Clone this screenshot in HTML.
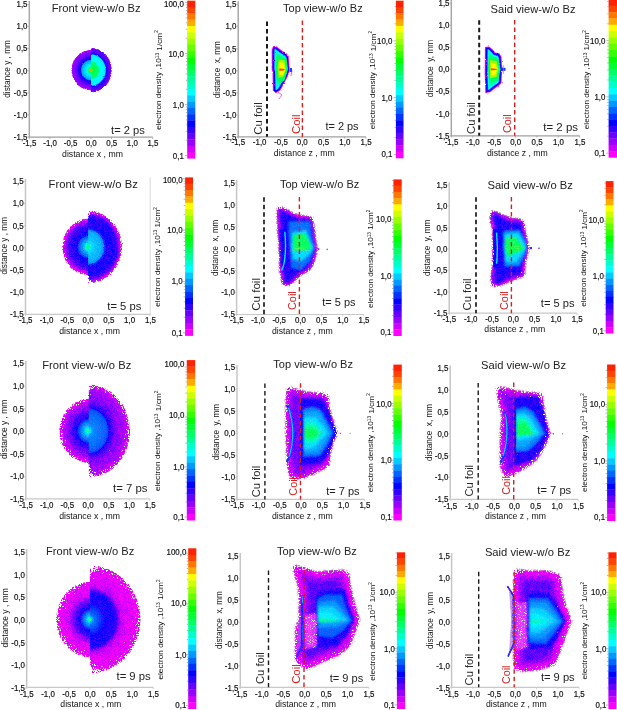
<!DOCTYPE html><html><head><meta charset="utf-8"><style>html,body{margin:0;padding:0;background:#fff;}svg{display:block;color-interpolation-filters:sRGB;}</style></head><body>
<svg width="617" height="710" viewBox="0 0 617 710" font-family='"Liberation Sans", sans-serif'>
<defs>
<filter id="rough" x="-20%" y="-20%" width="140%" height="140%">
<feTurbulence type="fractalNoise" baseFrequency="0.9" numOctaves="2" seed="3" result="n"/>
<feDisplacementMap in="SourceGraphic" in2="n" scale="2.2" xChannelSelector="R" yChannelSelector="G" result="d"/>
<feGaussianBlur in="d" stdDeviation="0.35"/>
</filter>
<filter id="grain" x="-5%" y="-5%" width="110%" height="110%">
<feTurbulence type="fractalNoise" baseFrequency="1.4" numOctaves="1" seed="21" result="g"/>
<feColorMatrix in="g" type="matrix" values="3.5 0 0 0 -1.3  0 0 0 0 0.5  0 0 0 0 0.5  0 0 0 0 1" result="g2"/>
<feComposite in="SourceGraphic" in2="g2" operator="arithmetic" k2="1" k3="0.35" k4="-0.175" result="gr"/>
<feComposite in="gr" in2="SourceGraphic" operator="in"/>
</filter>
<filter id="blur05" x="-20%" y="-20%" width="140%" height="140%">
<feTurbulence type="fractalNoise" baseFrequency="0.9" numOctaves="2" seed="9" result="n"/>
<feDisplacementMap in="SourceGraphic" in2="n" scale="1.5" xChannelSelector="R" yChannelSelector="G" result="d"/>
<feGaussianBlur in="d" stdDeviation="0.7"/>
</filter>
<filter id="blur1" x="-20%" y="-20%" width="140%" height="140%">
<feTurbulence type="fractalNoise" baseFrequency="0.9" numOctaves="2" seed="9" result="n"/>
<feDisplacementMap in="SourceGraphic" in2="n" scale="3" xChannelSelector="R" yChannelSelector="G" result="d"/>
<feGaussianBlur in="d" stdDeviation="1.0"/>
</filter>
<filter id="speck" x="-20%" y="-20%" width="140%" height="140%">
<feGaussianBlur in="SourceAlpha" stdDeviation="3.5" result="b"/>
<feTurbulence type="fractalNoise" baseFrequency="0.75" numOctaves="2" seed="5" result="n"/>
<feColorMatrix in="n" type="matrix" values="0 0 0 0 0  0 0 0 0 0  0 0 0 0 0  1 0 0 0 0" result="na"/>
<feComposite in="b" in2="na" operator="arithmetic" k1="0" k2="1" k3="-0.95" k4="0.475" result="c"/>
<feComponentTransfer in="c" result="t"><feFuncA type="linear" slope="12" intercept="-5.5"/></feComponentTransfer>
<feComposite in="SourceGraphic" in2="t" operator="in"/>
</filter>
<filter id="specks" x="-20%" y="-20%" width="140%" height="140%">
<feGaussianBlur in="SourceAlpha" stdDeviation="1.2" result="b"/>
<feTurbulence type="fractalNoise" baseFrequency="0.75" numOctaves="2" seed="5" result="n"/>
<feColorMatrix in="n" type="matrix" values="0 0 0 0 0  0 0 0 0 0  0 0 0 0 0  1 0 0 0 0" result="na"/>
<feComposite in="b" in2="na" operator="arithmetic" k1="0" k2="1" k3="-0.9" k4="0.45" result="c"/>
<feComponentTransfer in="c" result="t"><feFuncA type="linear" slope="12" intercept="-5.5"/></feComponentTransfer>
<feComposite in="SourceGraphic" in2="t" operator="in"/>
</filter>
<filter id="speckl" x="-20%" y="-20%" width="140%" height="140%">
<feGaussianBlur in="SourceAlpha" stdDeviation="5" result="b"/>
<feTurbulence type="fractalNoise" baseFrequency="0.75" numOctaves="2" seed="5" result="n"/>
<feColorMatrix in="n" type="matrix" values="0 0 0 0 0  0 0 0 0 0  0 0 0 0 0  1 0 0 0 0" result="na"/>
<feComposite in="b" in2="na" operator="arithmetic" k1="0" k2="1" k3="-1.3" k4="0.65" result="c"/>
<feComponentTransfer in="c" result="t"><feFuncA type="linear" slope="12" intercept="-5.5"/></feComponentTransfer>
<feComposite in="SourceGraphic" in2="t" operator="in"/>
</filter>
<filter id="speckxl" x="-20%" y="-20%" width="140%" height="140%">
<feGaussianBlur in="SourceAlpha" stdDeviation="6.5" result="b"/>
<feTurbulence type="fractalNoise" baseFrequency="0.75" numOctaves="2" seed="5" result="n"/>
<feColorMatrix in="n" type="matrix" values="0 0 0 0 0  0 0 0 0 0  0 0 0 0 0  1 0 0 0 0" result="na"/>
<feComposite in="b" in2="na" operator="arithmetic" k1="0" k2="1" k3="-1.3" k4="0.65" result="c"/>
<feComponentTransfer in="c" result="t"><feFuncA type="linear" slope="12" intercept="-5.5"/></feComponentTransfer>
<feComposite in="SourceGraphic" in2="t" operator="in"/>
</filter>

<filter id="sparse" x="-10%" y="-10%" width="120%" height="120%">
<feTurbulence type="fractalNoise" baseFrequency="1.3" numOctaves="2" seed="11" result="n"/>
<feColorMatrix in="n" type="matrix" values="0 0 0 0 0  0 0 0 0 0  0 0 0 0 0  1 0 0 0 0" result="na"/>
<feComponentTransfer in="na" result="t"><feFuncA type="linear" slope="10" intercept="-6.0"/></feComponentTransfer>
<feComposite in="SourceGraphic" in2="t" operator="in"/>
</filter>
</defs>
<g filter="none"><radialGradient id="gl0" gradientUnits="userSpaceOnUse" cx="91" cy="70.1" r="20.3" gradientTransform="translate(91,70.1) scale(0.97,1) translate(-91,-70.1)"><stop offset="0" stop-color="#ff6000"/><stop offset="0.04" stop-color="#ffa000"/><stop offset="0.06" stop-color="#80ff00"/><stop offset="0.1" stop-color="#00ff60"/><stop offset="0.15" stop-color="#00ff90"/><stop offset="0.2" stop-color="#00ffd0"/><stop offset="0.25" stop-color="#00f0ff"/><stop offset="0.34" stop-color="#00d0ff"/><stop offset="0.47" stop-color="#00a8ff"/><stop offset="0.5" stop-color="#0060ff"/><stop offset="0.53" stop-color="#2000ff"/><stop offset="0.66" stop-color="#2800ff"/><stop offset="0.69" stop-color="#5800ff"/><stop offset="0.81" stop-color="#7800ff"/><stop offset="0.94" stop-color="#a000ff"/><stop offset="1" stop-color="#d000ff"/></radialGradient>
<radialGradient id="gr0" gradientUnits="userSpaceOnUse" cx="91" cy="70.1" r="22.3" gradientTransform="translate(91,70.1) scale(0.93,1) translate(-91,-70.1)"><stop offset="0" stop-color="#ff6000"/><stop offset="0.04" stop-color="#ffa000"/><stop offset="0.06" stop-color="#60ff00"/><stop offset="0.1" stop-color="#00ff40"/><stop offset="0.37" stop-color="#00ff70"/><stop offset="0.4" stop-color="#00ffc0"/><stop offset="0.44" stop-color="#00ffff"/><stop offset="0.67" stop-color="#00f0ff"/><stop offset="0.7" stop-color="#00a0ff"/><stop offset="0.73" stop-color="#2000ff"/><stop offset="0.78" stop-color="#3000ff"/><stop offset="0.83" stop-color="#5000ff"/><stop offset="0.94" stop-color="#6000ff"/><stop offset="1" stop-color="#b000ff"/></radialGradient>
<g filter="url(#specks)"><g filter="url(#rough)">
<path d="M91,49.8 A19.6,20.3 0 0 0 91,90.4 L91.8,89.4 L91.8,50.8 Z" fill="url(#gl0)"/>
<path d="M91,47.8 A20.8,22.3 0 0 1 91,92.4 Z" fill="url(#gr0)"/>
</g></g></g>
<g filter="none"><g filter="none"><g filter="url(#rough)">
<polygon points="272.94,46.49 271.74,49.69 271.72,49.74 271.71,49.79 271.7,49.85 271.7,49.9 271.7,69.6 271.7,69.66 271.71,69.73 271.73,69.79 272.5,72.1 272.9,90.91 272.9,90.97 272.91,91.03 272.93,91.08 272.95,91.14 272.97,91.19 273,91.24 273.04,91.28 273.08,91.33 273.12,91.36 273.17,91.4 275.57,93 275.62,93.03 275.67,93.05 275.72,93.07 275.78,93.09 275.83,93.1 275.89,93.1 275.95,93.1 276,93.09 276.06,93.08 276.11,93.06 276.16,93.04 276.21,93.01 280.11,90.61 280.16,90.58 280.21,90.54 280.25,90.49 280.29,90.45 280.32,90.39 284.32,83.29 284.34,83.26 287.44,76.96 287.46,76.93 289.86,71.03 289.87,70.97 289.89,70.92 289.9,70.86 289.9,70.81 289.9,70.75 289.5,65.65 289.5,65.65 288.7,56.15 288.69,56.09 288.68,56.03 288.66,55.97 288.63,55.92 288.6,55.86 288.56,55.82 286.56,53.42 286.51,53.37 286.46,53.32 286.4,53.28 282.54,51 276.26,46.22 276.22,46.19 276.17,46.16 276.12,46.14 276.07,46.12 276.01,46.11 275.96,46.1 275.9,46.1 273.5,46.1 273.44,46.1 273.38,46.11 273.32,46.13 273.26,46.15 273.21,46.17 273.16,46.21 273.11,46.24 273.07,46.29 273.03,46.33 272.99,46.38 272.96,46.43 272.94,46.49" fill="#ff00ff" />
<polygon points="273.71,47 272.6,49.95 272.6,69.55 273.38,71.91 273.39,71.93 273.4,71.96 273.4,71.99 273.8,90.74 275.91,92.14 279.58,89.89 283.53,82.86 286.63,76.58 289,70.75 288.6,65.72 287.81,56.32 285.9,54.03 282.05,51.76 282.02,51.74 275.8,47 273.71,47" fill="#1000ff" />
<polygon points="274.82,48.6 274.2,50.24 274.2,69.29 274.9,71.4 274.95,71.58 274.99,71.77 275,71.96 275.38,89.87 275.94,90.24 278.39,88.74 282.12,82.11 285.17,75.92 287.37,70.5 287.01,65.85 286.26,56.96 284.85,55.27 281.23,53.14 281.05,53.01 275.26,48.6 274.82,48.6" fill="#0090ff" />
<polygon points="275.15,49.14 274.7,50.34 274.7,69.21 275.38,71.24 275.44,71.47 275.48,71.71 275.5,71.95 275.87,89.6 275.95,89.65 278.01,88.38 281.68,81.88 284.71,75.72 286.86,70.42 286.51,65.89 285.77,57.16 284.52,55.66 280.98,53.57 280.75,53.41 275.15,49.14" fill="#00ffff" />
<polygon points="276.1,51.63 276.1,68.98 276.7,70.8 276.81,71.16 276.87,71.54 276.9,71.92 277.22,86.94 280.44,81.23 283.43,75.14 285.44,70.2 285.11,66.01 284.41,57.71 283.6,56.74 280.27,54.77 279.9,54.52 276.1,51.63" fill="#00ffa0" />
</g>
<clipPath id="sc1"><polygon points="273.5,46.7 275.9,46.7 282.2,51.5 286.1,53.8 288.1,56.2 288.9,65.7 289.3,70.8 286.9,76.7 283.8,83 279.8,90.1 275.9,92.5 273.5,90.9 273.1,72 272.3,69.6 272.3,49.9" fill="#000" /></clipPath>
<g clip-path="url(#sc1)"><g filter="url(#blur05)">
<polygon points="276.5,55 286.5,58 288,68.8 284.5,80.5 277.5,84.5 275.5,73.5 275.5,61" fill="#00ff60" />
<polygon points="278.5,59 284.5,60.5 286,69.6 283.5,76.5 278.5,78 277.8,68" fill="#a0ff00" />
<polygon points="279.5,62 283.5,63 285,69.6 283,74.5 279.5,75" fill="#ffff00" />
<polygon points="279.3,68.3 283.6,68.8 285.4,69.6 283.6,70.4 279.3,71" fill="#ff5000" />
</g></g>
<path d="M289.5,68 L292,70 L291,76 M278,92 L282,95 L279,99" stroke="#ff40ff" stroke-width="0.9" fill="none"/><rect x="290" y="68" width="2" height="4" fill="#2040ff"/>
</g>
</g>
<g filter="none"><g filter="none"><g filter="url(#rough)">
<polygon points="484.9,47.5 484.7,73.5 484.7,73.52 485.3,92.52 485.3,92.58 485.32,92.63 485.33,92.69 485.35,92.74 485.38,92.79 485.41,92.84 485.44,92.89 485.48,92.93 485.53,92.97 485.57,93 485.62,93.03 485.68,93.06 485.73,93.08 485.79,93.09 485.84,93.1 485.9,93.1 485.96,93.1 486.02,93.09 490.02,92.29 490.07,92.27 490.13,92.25 490.18,92.23 490.23,92.2 490.28,92.16 494.16,88.98 498.14,86.3 498.2,86.25 501.3,83.45 501.34,83.4 501.38,83.36 501.41,83.31 501.44,83.26 501.47,83.2 501.48,83.14 501.49,83.09 501.5,83.03 501.9,74.36 502.69,69.29 502.7,69.23 502.7,69.16 502.69,69.09 501.9,64.83 501.5,56.97 501.49,56.91 501.48,56.85 501.47,56.8 501.44,56.75 501.42,56.69 499.52,53.49 499.49,53.45 499.45,53.4 499.41,53.36 499.37,53.33 499.32,53.29 499.28,53.27 499.22,53.24 499.17,53.23 499.12,53.21 495.32,52.45 492.75,49.51 492.7,49.45 489.5,46.65 489.45,46.61 489.39,46.58 489.34,46.55 489.28,46.53 489.22,46.51 489.16,46.5 489.1,46.5 489.03,46.5 485.43,46.9 485.38,46.91 485.32,46.93 485.27,46.95 485.21,46.97 485.16,47 485.12,47.04 485.07,47.08 485.04,47.12 485,47.17 484.97,47.22 484.95,47.27 484.93,47.32 484.91,47.38 484.9,47.44 484.9,47.5" fill="#ff00ff" />
<polygon points="485.8,47.77 485.6,73.5 486.19,92.14 489.77,91.42 493.61,88.27 493.63,88.25 497.61,85.56 500.61,82.86 501,74.29 501,74.25 501.8,69.2 501.01,64.95 501,64.92 500.6,57.09 498.81,54.07 494.94,53.29 494.91,53.29 494.89,53.28 494.86,53.27 494.84,53.25 494.81,53.24 494.79,53.22 494.77,53.2 492.09,50.11 489,47.41 485.8,47.77" fill="#1000ff" />
<polygon points="487.39,49.2 487.2,73.48 487.73,90.2 489.06,89.93 492.59,87.03 492.74,86.93 496.63,84.3 499.04,82.12 499.4,74.21 499.42,74.01 500.17,69.23 499.43,65.25 499.4,65 499.03,57.57 497.8,55.5 494.63,54.86 494.45,54.82 494.29,54.76 494.12,54.69 493.97,54.6 493.83,54.49 493.69,54.38 493.57,54.25 490.95,51.25 488.48,49.08 487.39,49.2" fill="#0090ff" />
<polygon points="487.88,49.65 487.7,73.47 488.21,89.59 488.84,89.46 492.28,86.64 492.46,86.51 496.32,83.91 498.55,81.89 498.9,74.19 498.93,73.93 499.67,69.23 498.94,65.34 498.9,65.02 498.53,57.71 497.48,55.94 494.53,55.35 494.31,55.3 494.1,55.22 493.89,55.13 493.7,55.02 493.52,54.89 493.35,54.74 493.19,54.58 490.6,51.6 488.31,49.6 487.88,49.65" fill="#00ffff" />
<polygon points="489.26,52.29 489.1,73.45 489.53,87.09 491.39,85.56 491.67,85.35 495.45,82.8 497.18,81.24 497.5,74.13 497.55,73.71 498.24,69.25 497.56,65.6 497.5,65.09 497.15,58.13 496.6,57.19 494.25,56.73 493.91,56.64 493.57,56.52 493.25,56.37 492.94,56.19 492.65,55.99 492.38,55.75 492.13,55.5 489.6,52.59 489.26,52.29" fill="#00ffa0" />
</g>
<clipPath id="sc2"><polygon points="485.5,47.5 489.1,47.1 492.3,49.9 495,53 499,53.8 500.9,57 501.3,64.9 502.1,69.2 501.3,74.3 500.9,83 497.8,85.8 493.8,88.5 489.9,91.7 485.9,92.5 485.3,73.5" fill="#000" /></clipPath>
<g clip-path="url(#sc2)"><g filter="url(#blur05)">
<polygon points="488.5,56 498,57.5 500.5,69.2 498,81 489,83 488,69.2" fill="#00ff60" />
<polygon points="490,60 496.5,61 498.5,69.2 496.5,77 490,78" fill="#a0ff00" />
<polygon points="491,63 495.5,64 497,69.2 495.5,74.5 491,75.5" fill="#ffff00" />
<polygon points="490.8,68.2 495.8,68.7 497.6,69.3 495.8,70 490.8,70.6" fill="#ff5000" />
</g></g>
<rect x="502" y="67.8" width="3.5" height="3" fill="#2030ff"/><rect x="503" y="65" width="1" height="9" fill="#ff40ff" opacity="0.6"/>
</g>
</g>
<g filter="url(#grain)"><radialGradient id="gl3" gradientUnits="userSpaceOnUse" cx="88.1" cy="246.9" r="28.3" gradientTransform="translate(88.1,246.9) scale(0.92,1) translate(-88.1,-246.9)"><stop offset="0" stop-color="#00ff60"/><stop offset="0.06" stop-color="#00ff90"/><stop offset="0.11" stop-color="#00f0ff"/><stop offset="0.18" stop-color="#00b0ff"/><stop offset="0.28" stop-color="#0080ff"/><stop offset="0.35" stop-color="#0060ff"/><stop offset="0.42" stop-color="#1800ff"/><stop offset="0.6" stop-color="#2800ff"/><stop offset="0.71" stop-color="#4000ff"/><stop offset="0.81" stop-color="#8000ff"/><stop offset="0.9" stop-color="#c000ff"/><stop offset="0.96" stop-color="#ff00ff"/><stop offset="1" stop-color="#ff00ff"/></radialGradient>
<radialGradient id="gr3" gradientUnits="userSpaceOnUse" cx="88.1" cy="246.9" r="36.7" gradientTransform="translate(88.1,246.9) scale(0.93,1) translate(-88.1,-246.9)"><stop offset="0" stop-color="#00ff60"/><stop offset="0.05" stop-color="#00ffc0"/><stop offset="0.11" stop-color="#00e0ff"/><stop offset="0.22" stop-color="#00c0ff"/><stop offset="0.38" stop-color="#00b0ff"/><stop offset="0.45" stop-color="#0090ff"/><stop offset="0.48" stop-color="#1830ff"/><stop offset="0.54" stop-color="#2000ff"/><stop offset="0.79" stop-color="#2400ff"/><stop offset="0.86" stop-color="#5000ff"/><stop offset="0.91" stop-color="#a000ff"/><stop offset="0.97" stop-color="#ff00ff"/><stop offset="1" stop-color="#ff00ff"/></radialGradient>
<g filter="url(#speck)"><g filter="url(#rough)">
<path d="M88.1,218.6 A26,28.3 0 0 0 88.1,275.2 L88.9,274.2 L88.9,219.6 Z" fill="url(#gl3)"/>
<path d="M88.1,210.2 A34,36.7 0 0 1 88.1,283.6 Z" fill="url(#gr3)"/>
</g></g></g>
<g filter="url(#grain)"><g filter="url(#speck)"><g filter="url(#blur1)">
<polygon points="276.4,207.59 275.8,214.59 275.8,214.69 275.8,214.78 277,233.78 277,233.79 278.3,252.76 278.9,271.84 278.91,271.97 278.93,272.1 278.97,272.22 280.21,275.86 280.8,284.59 280.82,284.72 280.85,284.85 280.89,284.97 280.94,285.09 281.01,285.21 281.09,285.31 281.17,285.41 281.27,285.5 281.38,285.58 281.49,285.65 281.61,285.7 281.73,285.75 281.86,285.78 288.26,286.98 288.38,286.99 288.51,287 288.63,286.99 288.75,286.98 288.87,286.95 288.99,286.9 289.1,286.85 289.21,286.79 289.31,286.72 295.61,281.72 295.72,281.62 301.97,275.37 309.38,271.66 309.49,271.6 309.59,271.53 309.68,271.46 309.77,271.37 309.84,271.28 313.64,266.18 313.72,266.06 313.79,265.93 313.84,265.79 317.04,255.69 317.08,255.54 318.28,249.14 318.3,249.01 318.3,248.88 318.29,248.76 318.27,248.63 316.39,239.8 315.19,227.28 315.19,227.24 313.89,217.04 313.87,216.91 313.83,216.79 313.78,216.67 313.73,216.55 313.66,216.44 313.58,216.34 313.49,216.25 313.39,216.17 313.28,216.09 313.17,216.03 313.05,215.98 312.93,215.94 312.8,215.92 305.2,214.72 305.1,214.7 305,214.7 298.91,214.7 291.6,210.95 282.11,205.95 282,205.9 281.89,205.86 281.77,205.83 281.65,205.81 281.53,205.8 281.42,205.8 281.3,205.82 277.5,206.42 277.38,206.44 277.26,206.48 277.14,206.52 277.04,206.58 276.93,206.65 276.84,206.73 276.75,206.81 276.67,206.91 276.6,207.01 276.54,207.12 276.49,207.23 276.45,207.35 276.42,207.47 276.4,207.59" fill="#f000ff" />
<polygon points="278.63,208.57 278.1,214.71 279.3,233.63 280.6,252.63 280.6,252.67 281.19,271.62 282.45,275.28 282.47,275.36 282.49,275.45 282.5,275.53 283.05,283.66 288.24,284.63 294.13,279.95 300.49,273.59 300.57,273.52 300.66,273.46 300.75,273.41 308.14,269.71 311.7,264.94 314.83,255.06 315.98,248.91 314.12,240.21 314.1,240.09 312.91,227.51 311.7,218.07 304.92,217 298.6,217 298.51,217 298.41,216.98 298.32,216.96 298.23,216.93 298.14,216.89 290.54,212.99 290.53,212.98 281.33,208.14 278.63,208.57" fill="#a000ff" />
<polygon points="280.12,209.95 279.71,214.73 280.89,233.53 282.19,252.52 282.2,252.62 282.79,271.33 283.96,274.76 284.02,274.98 284.07,275.2 284.09,275.43 284.56,282.32 287.81,282.93 293.07,278.76 299.36,272.46 299.57,272.28 299.79,272.11 300.04,271.97 307.08,268.45 310.25,264.2 313.27,254.67 314.35,248.93 312.56,240.54 312.51,240.25 311.32,227.69 310.27,219.46 304.8,218.6 298.6,218.6 298.35,218.59 298.11,218.55 297.87,218.5 297.64,218.42 297.41,218.31 289.81,214.41 289.79,214.4 281.05,209.8 280.12,209.95" fill="#4800ff" />
<polygon points="281.38,211.56 281.11,214.74 282.29,233.44 283.59,252.43 283.6,252.57 284.18,271.07 285.28,274.31 285.38,274.64 285.45,274.98 285.49,275.33 285.88,281.14 287.44,281.43 292.13,277.71 298.37,271.47 298.69,271.19 299.04,270.93 299.41,270.72 306.16,267.35 308.99,263.55 311.91,254.32 312.92,248.95 311.19,240.84 311.12,240.38 309.92,227.84 309.01,220.68 304.69,220 298.6,220 298.22,219.98 297.85,219.93 297.48,219.84 297.12,219.72 296.77,219.56 289.17,215.66 289.14,215.64 281.38,211.56" fill="#2200ff" />
</g>
<clipPath id="sc4"><polygon points="277.7,207.7 281.5,207.1 291,212.1 298.6,216 305,216 312.6,217.2 313.9,227.4 315.1,240 317,248.9 315.8,255.3 312.6,265.4 308.8,270.5 301.2,274.3 294.8,280.7 288.5,285.7 282.1,284.5 281.5,275.6 280.2,271.8 279.6,252.7 278.3,233.7 277.1,214.7" fill="#000" /></clipPath>
<g clip-path="url(#sc4)"><g filter="url(#blur1)">
<polygon points="279.5,229 290,229 290,266 281,268" fill="#1400ff" />
<polygon points="288.5,221 310,221 312.6,240 315,249 310,261.6 301,270.5 291,268 289.8,252.7 288.5,233.7" fill="#0070ff" />
<polygon points="291.7,232.4 306.3,229.9 310,240 313.9,248.3 308.8,255.3 301.2,261.6 292.3,259.1 291,246.4" fill="#00d8ff" />
<polygon points="292.9,235 305,233.7 310,243.9 311.3,248.3 303.7,249.6 293.6,250.2" fill="#00ff60" />
<polygon points="294,248 311,248.6 304,250.4 294,250.6" fill="#40ff40" />
</g></g>
<path d="M284.8,231.8 Q286.2,246 284.8,258 Q284,266 281.5,270.5" stroke="#00e8ff" stroke-width="1.4" fill="none"/>
</g>
<rect x="317.5" y="248.2" width="2" height="2" fill="#a020ff"/><rect x="326.4" y="248.6" width="1.6" height="1.6" fill="#e040ff"/></g>
<g filter="url(#grain)"><g filter="url(#speck)"><g filter="url(#blur1)">
<polygon points="489.2,211.7 489.2,220.9 489.21,221.02 489.22,221.14 489.25,221.26 491.7,229.69 491.7,266.06 489.83,274.52 489.81,274.63 489.8,274.75 489.8,274.87 490.4,286.47 490.41,286.6 490.44,286.72 490.48,286.85 490.53,286.97 490.59,287.08 490.66,287.19 490.75,287.29 490.84,287.38 490.94,287.46 491.05,287.53 491.17,287.59 491.29,287.63 491.41,287.67 491.54,287.69 491.67,287.7 491.8,287.7 499.8,287.1 499.92,287.08 500.05,287.05 500.17,287.01 500.28,286.96 510,282.11 517.21,279.73 517.22,279.73 524.62,277.23 524.74,277.18 524.85,277.13 524.96,277.06 525.06,276.98 525.15,276.89 525.23,276.79 525.31,276.68 525.37,276.57 525.42,276.45 525.46,276.33 525.48,276.21 525.5,276.08 526.09,266.36 527.87,256.7 530.35,248.27 530.38,248.15 530.39,248.03 530.4,247.9 530.39,247.78 530.38,247.66 530.35,247.54 527.87,239 526.09,229.34 525.5,220.81 525.48,220.68 525.45,220.55 525.41,220.43 525.36,220.31 525.29,220.19 525.21,220.09 525.13,219.99 525.03,219.9 524.92,219.82 524.81,219.75 524.69,219.7 524.57,219.65 518.47,217.85 518.34,217.82 518.21,217.81 511.6,217.22 503.93,214.21 495.38,209.94 495.26,209.88 495.14,209.84 495.01,209.82 494.88,209.8 494.75,209.8 494.62,209.81 490.32,210.41 490.2,210.44 490.08,210.47 489.96,210.52 489.85,210.57 489.75,210.64 489.65,210.72 489.56,210.8 489.48,210.89 489.41,211 489.35,211.1 489.29,211.22 489.25,211.33 489.22,211.45 489.21,211.58 489.2,211.7" fill="#f000ff" />
<polygon points="491.5,212.57 491.5,220.76 493.96,229.22 493.98,229.31 494,229.41 494,229.5 494,266.2 493.99,266.31 493.98,266.42 492.11,274.88 492.65,285.33 499.43,284.82 509.05,280.01 509.19,279.95 516.48,277.55 523.24,275.27 523.8,266.14 523.82,266.02 525.62,256.22 525.64,256.12 528.06,247.9 525.64,239.58 525.62,239.48 523.82,229.68 523.8,229.57 523.25,221.66 517.91,220.09 511.21,219.5 511.12,219.48 511.02,219.46 510.93,219.43 503.03,216.33 502.95,216.29 494.63,212.13 491.5,212.57" fill="#a000ff" />
<polygon points="493.1,213.96 493.1,220.53 495.5,228.77 495.55,229.01 495.59,229.26 495.6,229.5 495.6,266.2 495.58,266.48 495.54,266.76 493.71,275.02 494.16,283.61 499,283.25 508.34,278.57 508.69,278.43 515.98,276.03 521.71,274.1 522.2,266.04 522.24,265.73 524.04,255.93 524.11,255.67 526.39,247.9 524.1,240.03 524.04,239.77 522.24,229.97 522.21,229.68 521.73,222.88 517.61,221.67 511.07,221.09 510.83,221.06 510.58,221 510.35,220.92 502.45,217.82 502.24,217.73 494.36,213.79 493.1,213.96" fill="#4800ff" />
<polygon points="494.5,215.42 494.5,220.33 496.84,228.38 496.93,228.75 496.98,229.12 497,229.5 497,266.2 496.98,266.63 496.91,267.06 495.12,275.13 495.48,282.11 498.62,281.87 507.71,277.32 508.25,277.1 515.54,274.71 520.37,273.07 520.81,265.96 520.87,265.48 522.67,255.68 522.76,255.27 524.93,247.89 522.76,240.42 522.67,240.02 520.87,230.22 520.81,229.78 520.4,223.95 517.35,223.05 510.95,222.48 510.57,222.43 510.2,222.35 509.84,222.22 501.94,219.12 501.61,218.98 494.5,215.42" fill="#2200ff" />
</g>
<clipPath id="sc5"><polygon points="490.5,211.7 494.8,211.1 503.4,215.4 511.3,218.5 518.1,219.1 524.2,220.9 524.8,229.5 526.6,239.3 529.1,247.9 526.6,256.4 524.8,266.2 524.2,276 516.8,278.5 509.5,280.9 499.7,285.8 491.7,286.4 491.1,274.8 493,266.2 493,229.5 490.5,220.9" fill="#000" /></clipPath>
<g clip-path="url(#sc5)"><g filter="url(#blur1)">
<polygon points="492.5,228 503,228 503,268 492.5,268" fill="#1400ff" />
<polygon points="503.4,230.7 519.3,229.5 525.4,240.5 527.2,247.9 524.2,256.4 519.3,266.2 504.6,266.2 503.4,247.9" fill="#0090ff" />
<polygon points="504.5,234 518,233 524,242 526.5,248 522,254 516,262 505,262 504.5,248" fill="#00dcff" />
<polygon points="505.2,238 515.6,236.8 521.7,245.4 525.4,248.1 519.3,251.5 507,256.4 505.2,247.9" fill="#00ff60" />
<polygon points="505.5,247 524,247.6 519,249.2 505.5,249.6" fill="#40ff40" />
</g></g>
<path d="M496.6,232.5 Q498.2,248 496.6,263.8" stroke="#00e8ff" stroke-width="1.4" fill="none"/>
</g>
<rect x="529.8" y="247" width="2.2" height="2.2" fill="#6020ff"/><rect x="538.2" y="247.4" width="1.6" height="1.6" fill="#e040ff"/></g>
<g filter="url(#grain)"><radialGradient id="gl6" gradientUnits="userSpaceOnUse" cx="88.7" cy="430.9" r="32.2" gradientTransform="translate(88.7,430.9) scale(0.92,1) translate(-88.7,-430.9)"><stop offset="0" stop-color="#00ff80"/><stop offset="0.06" stop-color="#00ffc0"/><stop offset="0.11" stop-color="#00e0ff"/><stop offset="0.19" stop-color="#00a0ff"/><stop offset="0.28" stop-color="#0070ff"/><stop offset="0.34" stop-color="#0040ff"/><stop offset="0.4" stop-color="#2000ff"/><stop offset="0.53" stop-color="#4000ff"/><stop offset="0.65" stop-color="#7800ff"/><stop offset="0.78" stop-color="#a800ff"/><stop offset="0.9" stop-color="#d800ff"/><stop offset="1" stop-color="#f800ff"/></radialGradient>
<radialGradient id="gr6" gradientUnits="userSpaceOnUse" cx="88.7" cy="430.9" r="46.4" gradientTransform="translate(88.7,430.9) scale(0.89,1) translate(-88.7,-430.9)"><stop offset="0" stop-color="#00ff80"/><stop offset="0.04" stop-color="#00e0ff"/><stop offset="0.09" stop-color="#00a0ff"/><stop offset="0.15" stop-color="#0080ff"/><stop offset="0.3" stop-color="#0070ff"/><stop offset="0.43" stop-color="#0058ff"/><stop offset="0.47" stop-color="#0040ff"/><stop offset="0.49" stop-color="#2000ff"/><stop offset="0.54" stop-color="#3800ff"/><stop offset="0.6" stop-color="#6800ff"/><stop offset="0.71" stop-color="#9000ff"/><stop offset="0.84" stop-color="#a800ff"/><stop offset="0.94" stop-color="#d000ff"/><stop offset="1" stop-color="#f000ff"/></radialGradient>
<g filter="url(#speckl)"><g filter="url(#rough)">
<path d="M88.7,398.7 A29.5,32.2 0 0 0 88.7,463.1 L89.5,462.1 L89.5,399.7 Z" fill="url(#gl6)"/>
<path d="M88.7,384.5 A41.4,46.4 0 0 1 88.7,477.3 Z" fill="url(#gr6)"/>
</g></g></g>
<g filter="url(#grain)"><g filter="url(#speckl)"><g filter="url(#blur1)">
<polygon points="285.6,386.75 284.9,407.25 284.9,407.3 284.9,436.6 284.9,436.68 286.4,465.98 286.41,466.1 286.43,466.22 289.33,479.42 289.37,479.56 289.43,479.7 289.49,479.83 289.57,479.96 289.66,480.07 289.76,480.18 289.87,480.28 289.99,480.36 290.12,480.43 290.25,480.5 290.39,480.54 290.53,480.58 290.68,480.59 290.82,480.6 290.97,480.59 304.17,479.09 304.32,479.06 304.47,479.02 304.62,478.97 317.72,473.07 317.76,473.05 329.56,467.25 329.69,467.18 329.81,467.1 329.92,467 330.02,466.9 330.11,466.79 330.19,466.67 330.26,466.54 330.31,466.41 330.35,466.27 330.38,466.13 330.4,465.99 331.09,454.43 333.92,442.9 338.26,433.53 338.32,433.39 338.36,433.24 338.39,433.09 338.4,432.94 338.4,432.79 338.38,432.64 338.34,432.49 338.29,432.34 333.93,421.44 330.38,407.03 328.89,393.93 328.87,393.78 328.83,393.64 328.78,393.5 328.71,393.37 328.63,393.24 328.54,393.12 328.44,393.02 328.32,392.92 328.2,392.83 328.07,392.76 327.94,392.7 327.79,392.65 327.65,392.62 327.5,392.6 317.2,391.9 305.69,391.12 297.07,388.28 297.04,388.27 287.54,385.37 287.4,385.33 287.25,385.31 287.11,385.3 286.97,385.31 286.82,385.33 286.68,385.36 286.54,385.41 286.41,385.47 286.29,385.54 286.17,385.62 286.06,385.72 285.96,385.82 285.87,385.94 285.8,386.06 285.73,386.19 285.68,386.32 285.64,386.46 285.61,386.6 285.6,386.75" fill="#f000ff" />
<polygon points="289.01,389.47 288.4,407.33 288.4,436.55 289.89,465.63 292.37,476.91 303.46,475.65 316.25,469.89 326.97,464.62 327.6,454.08 327.62,453.9 327.66,453.72 330.56,441.92 330.61,441.74 330.69,441.56 334.72,432.84 330.64,422.64 330.56,422.38 326.96,407.78 326.91,407.53 325.6,395.98 316.96,395.4 305.26,394.6 305.1,394.58 304.93,394.55 304.77,394.5 295.99,391.61 289.01,389.47" fill="#b800ff" />
<polygon points="292.35,394.15 291.9,407.39 291.9,436.46 293.37,465.16 295.11,473.08 302.53,472.23 314.76,466.72 323.6,462.38 324.11,453.87 324.16,453.38 324.26,452.89 327.16,441.09 327.31,440.58 327.51,440.09 330.91,432.74 327.39,423.94 327.16,423.22 323.56,408.62 323.44,407.92 322.45,399.28 316.72,398.89 305.02,398.09 304.57,398.04 304.12,397.95 303.68,397.82 294.94,394.94 292.35,394.15" fill="#7a00ff" />
</g>
<clipPath id="sc7"><polygon points="287.1,386.8 296.6,389.7 305.4,392.6 317.1,393.4 327.4,394.1 328.9,407.3 332.5,421.9 336.9,432.9 332.5,442.4 329.6,454.2 328.9,465.9 317.1,471.7 304,477.6 290.8,479.1 287.9,465.9 286.4,436.6 286.4,407.3" fill="#000" /></clipPath>
<g clip-path="url(#sc7)"><g filter="url(#blur1)">
<polygon points="301,399 322,398 329,410 334,422 338,433 333,444 328,456 320,463 301,465" fill="#2000ff" />
<polygon points="303,409 312,406.5 320,409 327,420 333,433 327,446 320,456 303,457" fill="#0080ff" />
<polygon points="303.5,412 318,411 325,422 330,433 324,444 317,452 303.5,453" fill="#00a8ff" />
<polygon points="304,417 316,417 323,426 328,433 320,441 313,448 304,449" fill="#00e0ff" />
<polygon points="304.5,423 315,423 322,433 315,442 304.5,443" fill="#00ffb0" />
<polygon points="305,428 314,428 320,433 314,438 305,438" fill="#00ff60" />
<polygon points="315,432.3 336.5,432.9 315,433.7" fill="#30c8ff" />
<polygon points="305,432 326,433 305,434.2" fill="#00ff40" />
</g></g>
<rect x="300" y="400" width="2.5" height="66" fill="#2000ff" opacity="0.8"/>
</g>
<path d="M287.1,404.4 Q293.6,418 293.7,432.9 Q293.6,448 287.1,462.2" stroke="#1838ff" stroke-width="2.3" fill="none"/><path d="M288.6,408 Q292.6,420 292.8,432.9 Q292.6,446 289,457" stroke="#00c8ff" stroke-width="1.1" fill="none"/><rect x="339.8" y="432.6" width="1.5" height="1.5" fill="#e040ff"/><rect x="349.5" y="432.8" width="1.2" height="1.2" fill="#f080ff"/></g>
<g filter="url(#grain)"><g filter="url(#speckl)"><g filter="url(#blur1)">
<polygon points="495.6,386.92 496.4,397.12 496.42,397.24 496.44,397.36 500.79,414.73 499.3,433.58 499.3,433.7 499.3,465.9 499.31,466.03 499.32,466.17 499.35,466.3 499.4,466.43 503.8,478.13 503.85,478.26 503.93,478.39 504.01,478.51 504.11,478.63 504.21,478.73 504.33,478.82 504.45,478.9 504.58,478.97 504.72,479.02 504.86,479.06 505.01,479.09 505.16,479.1 505.3,479.1 505.45,479.08 505.6,479.05 505.74,479 505.87,478.94 514.67,474.54 514.68,474.54 526.38,468.64 526.48,468.58 526.57,468.52 536.77,461.22 536.88,461.14 536.98,461.04 537.07,460.94 537.15,460.84 543.05,452.04 543.14,451.87 547.54,443.07 547.58,442.99 551.28,434.29 551.33,434.15 551.37,434 551.39,433.85 551.4,433.7 551.39,433.55 551.37,433.4 551.33,433.25 547.66,421.53 544.78,407.07 543.29,393.93 543.27,393.79 543.23,393.65 543.18,393.51 543.12,393.38 543.04,393.26 542.96,393.15 542.86,393.04 542.75,392.94 542.64,392.86 542.52,392.78 542.39,392.72 542.25,392.67 542.11,392.63 541.97,392.61 528.77,391.11 528.76,391.11 515.72,389.73 507.07,386.88 506.95,386.84 506.83,386.82 497.33,385.32 497.18,385.3 497.03,385.3 496.88,385.32 496.74,385.34 496.59,385.39 496.45,385.45 496.32,385.52 496.2,385.6 496.08,385.7 495.98,385.81 495.88,385.92 495.8,386.05 495.73,386.18 495.68,386.32 495.64,386.47 495.61,386.62 495.6,386.77 495.6,386.92" fill="#f000ff" />
<polygon points="499.29,389.17 499.88,396.68 504.24,414.11 504.28,414.33 504.3,414.54 504.29,414.76 502.8,433.78 502.8,465.54 506.29,474.82 513.1,471.41 524.66,465.58 534.44,458.58 540.07,450.19 544.38,441.56 547.77,433.6 544.29,422.5 544.24,422.29 541.34,407.69 541.31,407.53 539.99,395.91 528.38,394.59 515.19,393.19 514.98,393.16 514.77,393.1 506.13,390.25 499.29,389.17" fill="#b800ff" />
<polygon points="503.13,393.32 503.35,396.11 507.64,413.27 507.75,413.85 507.8,414.44 507.78,415.03 506.3,433.92 506.3,464.9 508.2,469.95 511.53,468.28 522.84,462.58 531.89,456.11 537.04,448.43 541.2,440.09 544.05,433.41 540.95,423.55 540.81,422.97 537.91,408.37 537.84,407.92 536.83,399.07 528,398.07 514.82,396.67 514.24,396.58 513.68,396.42 505.3,393.66 503.13,393.32" fill="#7a00ff" />
</g>
<clipPath id="sc8"><polygon points="497.1,386.8 506.6,388.3 515.4,391.2 528.6,392.6 541.8,394.1 543.3,407.3 546.2,421.9 549.9,433.7 546.2,442.4 541.8,451.2 535.9,460 525.7,467.3 514,473.2 505.2,477.6 500.8,465.9 500.8,433.7 502.3,414.6 497.9,397" fill="#000" /></clipPath>
<g clip-path="url(#sc8)"><g filter="url(#blur1)">
<polygon points="514.5,397 538,396 543,408 546,421 549,433.7 545,443 540,452 532,460 514.5,465" fill="#2000ff" />
<polygon points="515.3,409 525,407 533,411 540,423 545,433.5 537,443 528,451 515.3,452" fill="#0080ff" />
<polygon points="515.5,412 525,410.5 532,415 538,425 542,433.5 533,440 525,447 515.5,448" fill="#00a8ff" />
<polygon points="516,415 525,414 531,419 536,428 540,433.5 530,438 516,441" fill="#00e0ff" />
<polygon points="516.5,418 525,418 530,425 534,433.5 516.5,436" fill="#00ffb0" />
<polygon points="517,423 526,422 530,430 532,433.5 517,435" fill="#00ff60" />
<polygon points="530,433 549,433.7 530,434.4" fill="#30c8ff" />
<polygon points="517,432.8 540,433.6 517,434.6" fill="#10ff30" />
</g></g>
<rect x="513.5" y="398" width="2.5" height="66" fill="#2000ff" opacity="0.8"/>
</g>
<path d="M504.4,411.7 Q507.8,421 507.4,433 Q507,450 500.8,462.9" stroke="#1838ff" stroke-width="2.3" fill="none"/><path d="M505,413.5 Q507.2,421 506.8,433 Q506.5,446 503,456" stroke="#00d0ff" stroke-width="1.1" fill="none"/><rect x="552.5" y="433" width="1.5" height="1.5" fill="#e040ff"/><rect x="562" y="433.2" width="1.2" height="1.2" fill="#f080ff"/></g>
<g filter="url(#grain)"><radialGradient id="gl9" gradientUnits="userSpaceOnUse" cx="90" cy="619.5" r="37.8" gradientTransform="translate(90,619.5) scale(0.9,1) translate(-90,-619.5)"><stop offset="0" stop-color="#ccff00"/><stop offset="0.03" stop-color="#00ff90"/><stop offset="0.07" stop-color="#00e0ff"/><stop offset="0.11" stop-color="#00b0ff"/><stop offset="0.17" stop-color="#0080ff"/><stop offset="0.22" stop-color="#0050ff"/><stop offset="0.29" stop-color="#2000ff"/><stop offset="0.37" stop-color="#3000ff"/><stop offset="0.45" stop-color="#6000ff"/><stop offset="0.56" stop-color="#b000ff"/><stop offset="0.66" stop-color="#e000ff"/><stop offset="1" stop-color="#ff00ff"/></radialGradient>
<radialGradient id="gr9" gradientUnits="userSpaceOnUse" cx="90" cy="619.5" r="54" gradientTransform="translate(90,619.5) scale(0.94,1) translate(-90,-619.5)"><stop offset="0" stop-color="#ccff00"/><stop offset="0.02" stop-color="#00ff90"/><stop offset="0.05" stop-color="#00b0ff"/><stop offset="0.09" stop-color="#0070ff"/><stop offset="0.19" stop-color="#0040ff"/><stop offset="0.3" stop-color="#1800ff"/><stop offset="0.48" stop-color="#2000ff"/><stop offset="0.52" stop-color="#3000ff"/><stop offset="0.56" stop-color="#8000ff"/><stop offset="0.61" stop-color="#c000ff"/><stop offset="0.7" stop-color="#e000ff"/><stop offset="1" stop-color="#ff00ff"/></radialGradient>
<g filter="url(#speckxl)"><g filter="url(#rough)">
<path d="M90,581.7 A34,37.8 0 0 0 90,657.3 L90.8,656.3 L90.8,582.7 Z" fill="url(#gl9)"/>
<path d="M90,565.5 A50.6,54 0 0 1 90,673.5 Z" fill="url(#gr9)"/>
</g></g></g>
<g filter="url(#grain)"><g filter="url(#speckl)"><g filter="url(#blur1)">
<polygon points="291.41,567.12 294.11,576.62 294.14,576.7 297.26,586.64 298.2,594.19 298.2,620.83 295.3,623.96 295.12,624.18 294.96,624.41 294.82,624.65 294.71,624.91 294.62,625.17 294.55,625.44 294.51,625.72 294.5,626 294.5,661 294.51,661.29 294.56,661.58 294.63,661.87 294.73,662.15 294.85,662.41 295,662.66 295.18,662.9 295.38,663.12 295.59,663.32 295.83,663.49 305.23,669.79 305.47,669.94 305.73,670.06 306,670.16 306.28,670.23 306.56,670.28 306.85,670.3 307.13,670.29 307.42,670.26 307.7,670.19 307.97,670.1 308.23,669.99 317.67,665.32 328.58,660.56 339.67,655.86 339.93,655.74 340.18,655.58 340.42,655.41 349.92,647.51 350.15,647.3 350.35,647.06 350.53,646.81 350.69,646.53 350.81,646.25 360.21,621.05 360.3,620.78 360.36,620.51 360.39,620.24 360.4,619.96 360.38,619.69 360.34,619.41 360.28,619.14 355.59,603.4 352.44,590.99 349.36,572.12 349.3,571.82 349.2,571.53 349.08,571.26 348.93,571 348.76,570.75 348.56,570.52 348.34,570.31 348.1,570.13 347.85,569.97 347.58,569.84 347.29,569.74 347,569.66 346.7,569.62 346.4,569.6 332.2,569.6 331.9,569.62 316.79,571.14 304.85,566.69 304.76,566.66 295.26,563.46 294.97,563.38 294.68,563.32 294.39,563.3 294.09,563.31 293.8,563.34 293.51,563.41 293.23,563.5 292.95,563.62 292.7,563.76 292.45,563.93 292.23,564.13 292.03,564.34 291.84,564.58 291.69,564.83 291.55,565.09 291.45,565.37 291.37,565.65 291.32,565.95 291.3,566.24 291.31,566.54 291.35,566.83 291.41,567.12" fill="#f400ff" />
<polygon points="296.52,568.63 298.44,575.37 301.63,585.55 301.67,585.68 301.69,585.81 302.69,593.81 302.7,594 302.7,622 302.69,622.14 302.67,622.28 302.64,622.41 302.6,622.55 302.54,622.67 302.47,622.8 302.39,622.91 302.3,623.02 299,626.59 299,660.2 307.01,665.57 315.73,661.26 315.8,661.23 326.8,656.43 326.82,656.42 337.71,651.81 346.73,644.3 355.82,619.95 351.26,604.63 351.25,604.57 348.05,591.97 348.02,591.84 345.12,574.1 332.28,574.1 316.55,575.69 316.41,575.7 316.28,575.69 316.14,575.68 316.01,575.65 315.88,575.61 303.3,570.91 296.52,568.63" fill="#d000ff" />
<polygon points="301.71,574.07 301.79,574.37 304.97,584.5 305.09,584.94 305.16,585.38 306.16,593.38 306.2,594 306.2,622 306.18,622.47 306.11,622.93 306.01,623.38 305.86,623.82 305.67,624.25 305.44,624.66 305.17,625.04 304.87,625.4 302.5,627.96 302.5,658.33 307.28,661.53 314.18,658.12 314.4,658.02 325.4,653.22 325.45,653.2 335.87,648.78 343.78,642.21 352.13,619.82 347.91,605.63 347.85,605.43 344.65,592.83 344.57,592.41 342.15,577.6 332.45,577.6 316.9,579.17 316.45,579.2 315.99,579.18 315.54,579.12 315.09,579.02 314.65,578.88 302.13,574.21 301.71,574.07" fill="#9000ff" />
<polygon points="307.17,579.83 308.31,583.46 308.51,584.19 308.63,584.95 309.63,592.95 309.7,594 309.7,622 309.66,622.79 309.55,623.58 309.37,624.35 309.11,625.1 308.79,625.82 308.4,626.51 307.95,627.17 307.44,627.77 306,629.33 306,656.46 307.54,657.5 312.63,654.98 313,654.81 324,650.01 324.09,649.97 334.03,645.76 340.83,640.11 348.44,619.7 344.55,606.62 344.46,606.29 341.26,593.69 341.11,592.97 339.17,581.1 332.63,581.1 317.26,582.66 316.48,582.7 315.7,582.67 314.93,582.57 314.17,582.4 313.43,582.16 307.17,579.83" fill="#6000ff" />
</g>
<clipPath id="sc10"><polygon points="294.3,566.3 303.8,569.5 316.4,574.2 332.2,572.6 346.4,572.6 349.5,591.6 352.7,604.2 357.4,620 352.7,632.6 348,645.2 338.5,653.1 327.4,657.8 316.4,662.6 306.9,667.3 297.5,661 297.5,626 301.2,622 301.2,594 300.2,586 297,575.8" fill="#000" /></clipPath>
<g clip-path="url(#sc10)"><g filter="url(#blur1)">
<polygon points="315.6,596 322,591 345,589 349,605 354.5,620.5 348,634 336,646 318,648 315.6,639" fill="#2000ff" />
<polygon points="317,599 325,595 342,594 346,607 352,620.5 343,631 332,638 318,636" fill="#0060ff" />
<polygon points="317.5,603 335,600 343,610 350,620.5 338,627 318,628" fill="#0098ff" />
<polygon points="317.5,607 333,606 341,614 348,620.5 330,623 317.5,623" fill="#00d0ff" />
<polygon points="318,612 330,612 340,619 318,621" fill="#00f0ff" />
<polygon points="335,619.7 356,620.5 335,621.3" fill="#30c8ff" />
<polygon points="318,618.8 344,620.2 318,622" fill="#00ff80" />
</g></g>
<polygon points="305,615 317,613 317,647 305,649" fill="#e838ff" filter="url(#blur1)"/>
<polygon points="305,615 317,613 317,647 305,649" fill="#fbe8ff" filter="url(#sparse)"/>

</g>
<polygon points="298,623 301.5,619 301.5,648 296.5,656" fill="#c040ff" opacity="0.75"/><polygon points="300.8,594 303.4,596 303.8,646 297,657.6 295.8,656.8 300.9,645" fill="#2a28ff"/><path d="M302.2,596 L302.5,603" stroke="#00c0ff" stroke-width="0.9"/><path d="M302.6,625 L302.7,640" stroke="#0080ff" stroke-width="0.7"/></g>
<g filter="url(#grain)"><g filter="url(#speckl)"><g filter="url(#blur1)">
<polygon points="512.8,571.46 512,625.06 512,625.16 512.8,667.76 512.82,668.05 512.87,668.33 512.94,668.61 513.04,668.88 513.17,669.14 513.32,669.39 513.5,669.62 513.69,669.83 513.91,670.03 514.14,670.2 514.39,670.35 514.65,670.47 514.92,670.57 515.2,670.64 523.1,672.24 523.4,672.29 523.7,672.3 524,672.28 539.7,670.68 540.03,670.63 540.34,670.55 554.54,665.85 554.82,665.74 555.08,665.61 555.33,665.45 555.56,665.27 555.78,665.06 555.97,664.84 556.14,664.6 556.28,664.34 556.4,664.07 561.2,651.47 561.25,651.34 565.91,637.25 572.17,622.36 572.27,622.07 572.35,621.76 572.39,621.45 572.4,621.14 572.38,620.83 572.32,620.52 572.23,620.22 565.98,602.15 562.96,589.87 561.38,575.86 561.33,575.57 561.26,575.29 561.16,575.01 561.03,574.75 560.87,574.5 560.69,574.26 560.49,574.05 560.27,573.85 560.03,573.68 559.78,573.53 559.51,573.41 559.23,573.32 548.13,570.12 547.86,570.05 547.58,570.01 547.3,570 531.74,570 516.08,568.51 515.79,568.5 515.5,568.51 515.21,568.56 514.93,568.63 514.66,568.73 514.39,568.85 514.14,569 513.91,569.17 513.69,569.37 513.49,569.58 513.32,569.81 513.17,570.06 513.04,570.32 512.94,570.6 512.87,570.88 512.82,571.16 512.8,571.46" fill="#f400ff" />
<polygon points="517.28,573.15 516.5,625.1 517.28,666.47 523.77,667.78 539.08,666.22 552.45,661.8 556.99,649.9 561.68,635.73 561.72,635.62 567.79,621.15 561.68,603.49 561.64,603.36 558.54,590.76 558.51,590.57 557.02,577.36 547.09,574.5 531.6,574.5 531.46,574.49 517.28,573.15" fill="#d000ff" />
<polygon points="520.72,576.99 520,625.09 520.72,663.6 523.95,664.25 538.35,662.78 549.77,659 553.69,648.72 558.35,634.63 558.49,634.26 564.05,621.03 558.38,604.64 558.24,604.19 555.14,591.59 555.03,590.96 553.81,580.08 546.59,578 531.6,578 531.13,577.98 520.72,576.99" fill="#9000ff" />
<polygon points="524.16,580.83 523.5,625.08 524.17,660.71 537.61,659.34 547.09,656.2 550.39,647.55 555.03,633.53 555.26,632.91 560.3,620.91 555.07,605.78 554.85,605.03 551.75,592.43 551.55,591.35 550.59,582.79 546.1,581.5 531.6,581.5 530.8,581.46 524.16,580.83" fill="#6000ff" />
</g>
<clipPath id="sc11"><polygon points="515.8,571.5 531.6,573 547.3,573 558.4,576.2 560,590.4 563.1,603 569.4,621.2 563.1,636.2 558.4,650.4 553.6,663 539.4,667.7 523.7,669.3 515.8,667.7 515,625.1" fill="#000" /></clipPath>
<g clip-path="url(#sc11)"><g filter="url(#blur1)">
<polygon points="527.2,594 538,592 550,594 558,606 566,621.2 558,636 550,648 530,649 527.2,640 526.5,621" fill="#2000ff" />
<polygon points="528.5,598 548,598 556,609 563,621.2 555,633 546,644 529,643" fill="#0068ff" />
<polygon points="529,602 546,602 553,611 560,621.2 552,630 543,639 529,638" fill="#0098ff" />
<polygon points="529.5,608 543,608 551,615 557,621.2 548,627 540,633 529.5,633" fill="#00d0ff" />
<polygon points="530,613 540,614 552,621.2 540,627 530,628" fill="#00ecff" />
<polygon points="545,620.5 567,621.2 545,622" fill="#30c8ff" />
<polygon points="530.5,619.8 550,621.2 530.5,622.8" fill="#00ff90" />
</g></g>
<polygon points="516,604 527,602 527,648 516,650" fill="#e838ff" filter="url(#blur1)"/>
<polygon points="516,604 527,602 527,648 516,650" fill="#fbe8ff" filter="url(#sparse)"/>

</g>
<polygon points="509,591 513,596 513,644 509,651 511,620" fill="#b040ff" opacity="0.6"/><path d="M507.3,585.9 L513.6,596 L514,643.3 L507.9,656.6" stroke="#3a28ff" stroke-width="1.9" fill="none" stroke-linejoin="round"/><path d="M513.5,602 L513.7,640" stroke="#0090ff" stroke-width="0.7"/></g>
<g opacity="0.999">
<line x1="29.3" y1="1" x2="29.3" y2="137.7" stroke="#a8a8a8" stroke-width="1.5"/>
<line x1="28.8" y1="137.2" x2="152.7" y2="137.2" stroke="#a0a0a0" stroke-width="1.2"/>
<line x1="27.5" y1="4.5" x2="29.3" y2="4.5" stroke="#a8a8a8" stroke-width="0.8"/>
<text transform="translate(27.5,4.2) scale(0.88,1)" font-size="9" fill="#111" text-anchor="end" dominant-baseline="central" stroke="#111" stroke-width="0.2">1,5</text>
<line x1="27.5" y1="26.55" x2="29.3" y2="26.55" stroke="#a8a8a8" stroke-width="0.8"/>
<text transform="translate(27.5,26.25) scale(0.88,1)" font-size="9" fill="#111" text-anchor="end" dominant-baseline="central" stroke="#111" stroke-width="0.2">1,0</text>
<line x1="27.5" y1="48.6" x2="29.3" y2="48.6" stroke="#a8a8a8" stroke-width="0.8"/>
<text transform="translate(27.5,48.3) scale(0.88,1)" font-size="9" fill="#111" text-anchor="end" dominant-baseline="central" stroke="#111" stroke-width="0.2">0,5</text>
<line x1="27.5" y1="70.65" x2="29.3" y2="70.65" stroke="#a8a8a8" stroke-width="0.8"/>
<text transform="translate(27.5,70.35) scale(0.88,1)" font-size="9" fill="#111" text-anchor="end" dominant-baseline="central" stroke="#111" stroke-width="0.2">0,0</text>
<line x1="27.5" y1="92.7" x2="29.3" y2="92.7" stroke="#a8a8a8" stroke-width="0.8"/>
<text transform="translate(27.5,92.4) scale(0.88,1)" font-size="9" fill="#111" text-anchor="end" dominant-baseline="central" stroke="#111" stroke-width="0.2">-0,5</text>
<line x1="27.5" y1="114.75" x2="29.3" y2="114.75" stroke="#a8a8a8" stroke-width="0.8"/>
<text transform="translate(27.5,114.45) scale(0.88,1)" font-size="9" fill="#111" text-anchor="end" dominant-baseline="central" stroke="#111" stroke-width="0.2">-1,0</text>
<line x1="27.5" y1="136.8" x2="29.3" y2="136.8" stroke="#a8a8a8" stroke-width="0.8"/>
<text transform="translate(27.5,136.5) scale(0.88,1)" font-size="9" fill="#111" text-anchor="end" dominant-baseline="central" stroke="#111" stroke-width="0.2">-1,5</text>
<line x1="29.3" y1="137.2" x2="29.3" y2="139" stroke="#a0a0a0" stroke-width="0.8"/>
<text transform="translate(29.5,143.1) scale(0.88,1)" font-size="9" fill="#111" text-anchor="middle" dominant-baseline="central" stroke="#111" stroke-width="0.2">-1,5</text>
<line x1="49.87" y1="137.2" x2="49.87" y2="139" stroke="#a0a0a0" stroke-width="0.8"/>
<text transform="translate(50.07,143.1) scale(0.88,1)" font-size="9" fill="#111" text-anchor="middle" dominant-baseline="central" stroke="#111" stroke-width="0.2">-1,0</text>
<line x1="70.43" y1="137.2" x2="70.43" y2="139" stroke="#a0a0a0" stroke-width="0.8"/>
<text transform="translate(70.63,143.1) scale(0.88,1)" font-size="9" fill="#111" text-anchor="middle" dominant-baseline="central" stroke="#111" stroke-width="0.2">-0,5</text>
<line x1="91" y1="137.2" x2="91" y2="139" stroke="#a0a0a0" stroke-width="0.8"/>
<text transform="translate(91.2,143.1) scale(0.88,1)" font-size="9" fill="#111" text-anchor="middle" dominant-baseline="central" stroke="#111" stroke-width="0.2">0,0</text>
<line x1="111.57" y1="137.2" x2="111.57" y2="139" stroke="#a0a0a0" stroke-width="0.8"/>
<text transform="translate(111.77,143.1) scale(0.88,1)" font-size="9" fill="#111" text-anchor="middle" dominant-baseline="central" stroke="#111" stroke-width="0.2">0,5</text>
<line x1="132.13" y1="137.2" x2="132.13" y2="139" stroke="#a0a0a0" stroke-width="0.8"/>
<text transform="translate(132.33,143.1) scale(0.88,1)" font-size="9" fill="#111" text-anchor="middle" dominant-baseline="central" stroke="#111" stroke-width="0.2">1,0</text>
<line x1="152.7" y1="137.2" x2="152.7" y2="139" stroke="#a0a0a0" stroke-width="0.8"/>
<text transform="translate(152.9,143.1) scale(0.88,1)" font-size="9" fill="#111" text-anchor="middle" dominant-baseline="central" stroke="#111" stroke-width="0.2">1,5</text>
<text x="51.7" y="7.8" font-size="11" fill="#222" text-anchor="start" dominant-baseline="central" textLength="88.9" lengthAdjust="spacingAndGlyphs" >Front view-w/o Bz</text>
<text x="62.1" y="154" font-size="8.7" fill="#111" text-anchor="start" dominant-baseline="central" >distance x , mm</text>
<text transform="translate(7,97.7) rotate(-90)" font-size="8.4" fill="#111" text-anchor="start" dominant-baseline="central" textLength="57.6" lengthAdjust="spacingAndGlyphs" >distance y , mm</text>
<text x="111.1" y="129.7" font-size="11" fill="#222" text-anchor="start" dominant-baseline="central" textLength="33.7" lengthAdjust="spacingAndGlyphs" >t= 2 ps</text>
<rect x="187.2" y="0.7" width="8.1" height="6.6" fill="#ff2200"/>
<rect x="187.2" y="7" width="8.1" height="6.6" fill="#ff4400"/>
<rect x="187.2" y="13.31" width="8.1" height="6.6" fill="#ff7700"/>
<rect x="187.2" y="19.61" width="8.1" height="6.6" fill="#ffaa00"/>
<rect x="187.2" y="25.92" width="8.1" height="6.6" fill="#ffff00"/>
<rect x="187.2" y="32.22" width="8.1" height="6.6" fill="#ccff00"/>
<rect x="187.2" y="38.52" width="8.1" height="6.6" fill="#99ff00"/>
<rect x="187.2" y="44.83" width="8.1" height="6.6" fill="#66ff00"/>
<rect x="187.2" y="51.13" width="8.1" height="6.6" fill="#33ff00"/>
<rect x="187.2" y="57.44" width="8.1" height="6.6" fill="#00ff00"/>
<rect x="187.2" y="63.74" width="8.1" height="6.6" fill="#00ff33"/>
<rect x="187.2" y="70.04" width="8.1" height="6.6" fill="#00ff66"/>
<rect x="187.2" y="76.35" width="8.1" height="6.6" fill="#00ff99"/>
<rect x="187.2" y="82.65" width="8.1" height="6.6" fill="#00ffcc"/>
<rect x="187.2" y="88.96" width="8.1" height="6.6" fill="#00ffff"/>
<rect x="187.2" y="95.26" width="8.1" height="6.6" fill="#00ccff"/>
<rect x="187.2" y="101.56" width="8.1" height="6.6" fill="#0099ff"/>
<rect x="187.2" y="107.87" width="8.1" height="6.6" fill="#0066ff"/>
<rect x="187.2" y="114.17" width="8.1" height="6.6" fill="#0033ff"/>
<rect x="187.2" y="120.48" width="8.1" height="6.6" fill="#0000ff"/>
<rect x="187.2" y="126.78" width="8.1" height="6.6" fill="#3300ff"/>
<rect x="187.2" y="133.08" width="8.1" height="6.6" fill="#6600ff"/>
<rect x="187.2" y="139.39" width="8.1" height="6.6" fill="#9900ff"/>
<rect x="187.2" y="145.69" width="8.1" height="6.6" fill="#cc00ff"/>
<rect x="187.2" y="152" width="8.1" height="6.6" fill="#ff00ff"/>
<text transform="translate(183.8,3.4) scale(0.88,1)" font-size="9" fill="#111" text-anchor="end" dominant-baseline="central" stroke="#111" stroke-width="0.2">100,0</text>
<text transform="translate(183.8,53.7) scale(0.88,1)" font-size="9" fill="#111" text-anchor="end" dominant-baseline="central" stroke="#111" stroke-width="0.2">10,0</text>
<text transform="translate(183.8,104.4) scale(0.88,1)" font-size="9" fill="#111" text-anchor="end" dominant-baseline="central" stroke="#111" stroke-width="0.2">1,0</text>
<text transform="translate(183.8,155.4) scale(0.88,1)" font-size="9" fill="#111" text-anchor="end" dominant-baseline="central" stroke="#111" stroke-width="0.2">0,1</text>
<line x1="185" y1="155.6" x2="187.2" y2="155.6" stroke="#6a7a9a" stroke-width="0.7" opacity="0.8"/>
<line x1="185.8" y1="140.25" x2="187.2" y2="140.25" stroke="#6a7a9a" stroke-width="0.7" opacity="0.8"/>
<line x1="185.8" y1="131.27" x2="187.2" y2="131.27" stroke="#6a7a9a" stroke-width="0.7" opacity="0.8"/>
<line x1="185.8" y1="124.89" x2="187.2" y2="124.89" stroke="#6a7a9a" stroke-width="0.7" opacity="0.8"/>
<line x1="185.8" y1="119.95" x2="187.2" y2="119.95" stroke="#6a7a9a" stroke-width="0.7" opacity="0.8"/>
<line x1="185.8" y1="115.91" x2="187.2" y2="115.91" stroke="#6a7a9a" stroke-width="0.7" opacity="0.8"/>
<line x1="185.8" y1="112.5" x2="187.2" y2="112.5" stroke="#6a7a9a" stroke-width="0.7" opacity="0.8"/>
<line x1="185.8" y1="109.54" x2="187.2" y2="109.54" stroke="#6a7a9a" stroke-width="0.7" opacity="0.8"/>
<line x1="185.8" y1="106.93" x2="187.2" y2="106.93" stroke="#6a7a9a" stroke-width="0.7" opacity="0.8"/>
<line x1="185" y1="104.6" x2="187.2" y2="104.6" stroke="#6a7a9a" stroke-width="0.7" opacity="0.8"/>
<line x1="185.8" y1="89.25" x2="187.2" y2="89.25" stroke="#6a7a9a" stroke-width="0.7" opacity="0.8"/>
<line x1="185.8" y1="80.27" x2="187.2" y2="80.27" stroke="#6a7a9a" stroke-width="0.7" opacity="0.8"/>
<line x1="185.8" y1="73.89" x2="187.2" y2="73.89" stroke="#6a7a9a" stroke-width="0.7" opacity="0.8"/>
<line x1="185.8" y1="68.95" x2="187.2" y2="68.95" stroke="#6a7a9a" stroke-width="0.7" opacity="0.8"/>
<line x1="185.8" y1="64.91" x2="187.2" y2="64.91" stroke="#6a7a9a" stroke-width="0.7" opacity="0.8"/>
<line x1="185.8" y1="61.5" x2="187.2" y2="61.5" stroke="#6a7a9a" stroke-width="0.7" opacity="0.8"/>
<line x1="185.8" y1="58.54" x2="187.2" y2="58.54" stroke="#6a7a9a" stroke-width="0.7" opacity="0.8"/>
<line x1="185.8" y1="55.93" x2="187.2" y2="55.93" stroke="#6a7a9a" stroke-width="0.7" opacity="0.8"/>
<line x1="185" y1="53.6" x2="187.2" y2="53.6" stroke="#6a7a9a" stroke-width="0.7" opacity="0.8"/>
<line x1="185.8" y1="38.25" x2="187.2" y2="38.25" stroke="#6a7a9a" stroke-width="0.7" opacity="0.8"/>
<line x1="185.8" y1="29.27" x2="187.2" y2="29.27" stroke="#6a7a9a" stroke-width="0.7" opacity="0.8"/>
<line x1="185.8" y1="22.89" x2="187.2" y2="22.89" stroke="#6a7a9a" stroke-width="0.7" opacity="0.8"/>
<line x1="185.8" y1="17.95" x2="187.2" y2="17.95" stroke="#6a7a9a" stroke-width="0.7" opacity="0.8"/>
<line x1="185.8" y1="13.91" x2="187.2" y2="13.91" stroke="#6a7a9a" stroke-width="0.7" opacity="0.8"/>
<line x1="185.8" y1="10.5" x2="187.2" y2="10.5" stroke="#6a7a9a" stroke-width="0.7" opacity="0.8"/>
<line x1="185.8" y1="7.54" x2="187.2" y2="7.54" stroke="#6a7a9a" stroke-width="0.7" opacity="0.8"/>
<line x1="185.8" y1="4.93" x2="187.2" y2="4.93" stroke="#6a7a9a" stroke-width="0.7" opacity="0.8"/>
<line x1="185" y1="2.6" x2="187.2" y2="2.6" stroke="#6a7a9a" stroke-width="0.7" opacity="0.8"/>
<text transform="translate(158.6,129.8) rotate(-90)" font-size="8" fill="#111" dominant-baseline="central" textLength="99.7" lengthAdjust="spacingAndGlyphs">electron density ,10<tspan font-size="4.6" dy="-1.9">13</tspan><tspan dy="1.9"> 1/cm</tspan><tspan font-size="4.6" dy="-2.4">2</tspan></text>
<line x1="238.2" y1="1.3" x2="238.2" y2="137.3" stroke="#a8a8a8" stroke-width="1.5"/>
<line x1="237.7" y1="136.8" x2="365.9" y2="136.8" stroke="#a0a0a0" stroke-width="1.2"/>
<line x1="236.4" y1="4.5" x2="238.2" y2="4.5" stroke="#a8a8a8" stroke-width="0.8"/>
<text transform="translate(236.4,4.2) scale(0.88,1)" font-size="9" fill="#111" text-anchor="end" dominant-baseline="central" stroke="#111" stroke-width="0.2">1,5</text>
<line x1="236.4" y1="26.58" x2="238.2" y2="26.58" stroke="#a8a8a8" stroke-width="0.8"/>
<text transform="translate(236.4,26.28) scale(0.88,1)" font-size="9" fill="#111" text-anchor="end" dominant-baseline="central" stroke="#111" stroke-width="0.2">1,0</text>
<line x1="236.4" y1="48.67" x2="238.2" y2="48.67" stroke="#a8a8a8" stroke-width="0.8"/>
<text transform="translate(236.4,48.37) scale(0.88,1)" font-size="9" fill="#111" text-anchor="end" dominant-baseline="central" stroke="#111" stroke-width="0.2">0,5</text>
<line x1="236.4" y1="70.75" x2="238.2" y2="70.75" stroke="#a8a8a8" stroke-width="0.8"/>
<text transform="translate(236.4,70.45) scale(0.88,1)" font-size="9" fill="#111" text-anchor="end" dominant-baseline="central" stroke="#111" stroke-width="0.2">0,0</text>
<line x1="236.4" y1="92.83" x2="238.2" y2="92.83" stroke="#a8a8a8" stroke-width="0.8"/>
<text transform="translate(236.4,92.53) scale(0.88,1)" font-size="9" fill="#111" text-anchor="end" dominant-baseline="central" stroke="#111" stroke-width="0.2">-0,5</text>
<line x1="236.4" y1="114.92" x2="238.2" y2="114.92" stroke="#a8a8a8" stroke-width="0.8"/>
<text transform="translate(236.4,114.62) scale(0.88,1)" font-size="9" fill="#111" text-anchor="end" dominant-baseline="central" stroke="#111" stroke-width="0.2">-1,0</text>
<line x1="236.4" y1="137" x2="238.2" y2="137" stroke="#a8a8a8" stroke-width="0.8"/>
<text transform="translate(236.4,136.7) scale(0.88,1)" font-size="9" fill="#111" text-anchor="end" dominant-baseline="central" stroke="#111" stroke-width="0.2">-1,5</text>
<line x1="238.2" y1="136.8" x2="238.2" y2="138.6" stroke="#a0a0a0" stroke-width="0.8"/>
<text transform="translate(238.4,142.1) scale(0.88,1)" font-size="9" fill="#111" text-anchor="middle" dominant-baseline="central" stroke="#111" stroke-width="0.2">-1,5</text>
<line x1="259.48" y1="136.8" x2="259.48" y2="138.6" stroke="#a0a0a0" stroke-width="0.8"/>
<text transform="translate(259.68,142.1) scale(0.88,1)" font-size="9" fill="#111" text-anchor="middle" dominant-baseline="central" stroke="#111" stroke-width="0.2">-1,0</text>
<line x1="280.77" y1="136.8" x2="280.77" y2="138.6" stroke="#a0a0a0" stroke-width="0.8"/>
<text transform="translate(280.97,142.1) scale(0.88,1)" font-size="9" fill="#111" text-anchor="middle" dominant-baseline="central" stroke="#111" stroke-width="0.2">-0,5</text>
<line x1="302.05" y1="136.8" x2="302.05" y2="138.6" stroke="#a0a0a0" stroke-width="0.8"/>
<text transform="translate(302.25,142.1) scale(0.88,1)" font-size="9" fill="#111" text-anchor="middle" dominant-baseline="central" stroke="#111" stroke-width="0.2">0,0</text>
<line x1="323.33" y1="136.8" x2="323.33" y2="138.6" stroke="#a0a0a0" stroke-width="0.8"/>
<text transform="translate(323.53,142.1) scale(0.88,1)" font-size="9" fill="#111" text-anchor="middle" dominant-baseline="central" stroke="#111" stroke-width="0.2">0,5</text>
<line x1="344.62" y1="136.8" x2="344.62" y2="138.6" stroke="#a0a0a0" stroke-width="0.8"/>
<text transform="translate(344.82,142.1) scale(0.88,1)" font-size="9" fill="#111" text-anchor="middle" dominant-baseline="central" stroke="#111" stroke-width="0.2">1,0</text>
<line x1="365.9" y1="136.8" x2="365.9" y2="138.6" stroke="#a0a0a0" stroke-width="0.8"/>
<text transform="translate(366.1,142.1) scale(0.88,1)" font-size="9" fill="#111" text-anchor="middle" dominant-baseline="central" stroke="#111" stroke-width="0.2">1,5</text>
<text x="283" y="7.8" font-size="11" fill="#222" text-anchor="start" dominant-baseline="central" textLength="79.7" lengthAdjust="spacingAndGlyphs" >Top view-w/o Bz</text>
<text x="273.8" y="152.5" font-size="8.7" fill="#111" text-anchor="start" dominant-baseline="central" >distance z , mm</text>
<text transform="translate(216.5,98.2) rotate(-90)" font-size="8.4" fill="#111" text-anchor="start" dominant-baseline="central" textLength="57.1" lengthAdjust="spacingAndGlyphs" >distance&#160; x, mm</text>
<text x="325.4" y="126" font-size="11" fill="#222" text-anchor="start" dominant-baseline="central" textLength="33.2" lengthAdjust="spacingAndGlyphs" >t= 2 ps</text>
<rect x="395.9" y="0.7" width="7.6" height="6.59" fill="#ff2200"/>
<rect x="395.9" y="6.99" width="7.6" height="6.59" fill="#ff4400"/>
<rect x="395.9" y="13.28" width="7.6" height="6.59" fill="#ff7700"/>
<rect x="395.9" y="19.58" width="7.6" height="6.59" fill="#ffaa00"/>
<rect x="395.9" y="25.87" width="7.6" height="6.59" fill="#ffff00"/>
<rect x="395.9" y="32.16" width="7.6" height="6.59" fill="#ccff00"/>
<rect x="395.9" y="38.45" width="7.6" height="6.59" fill="#99ff00"/>
<rect x="395.9" y="44.74" width="7.6" height="6.59" fill="#66ff00"/>
<rect x="395.9" y="51.04" width="7.6" height="6.59" fill="#33ff00"/>
<rect x="395.9" y="57.33" width="7.6" height="6.59" fill="#00ff00"/>
<rect x="395.9" y="63.62" width="7.6" height="6.59" fill="#00ff33"/>
<rect x="395.9" y="69.91" width="7.6" height="6.59" fill="#00ff66"/>
<rect x="395.9" y="76.2" width="7.6" height="6.59" fill="#00ff99"/>
<rect x="395.9" y="82.5" width="7.6" height="6.59" fill="#00ffcc"/>
<rect x="395.9" y="88.79" width="7.6" height="6.59" fill="#00ffff"/>
<rect x="395.9" y="95.08" width="7.6" height="6.59" fill="#00ccff"/>
<rect x="395.9" y="101.37" width="7.6" height="6.59" fill="#0099ff"/>
<rect x="395.9" y="107.66" width="7.6" height="6.59" fill="#0066ff"/>
<rect x="395.9" y="113.96" width="7.6" height="6.59" fill="#0033ff"/>
<rect x="395.9" y="120.25" width="7.6" height="6.59" fill="#0000ff"/>
<rect x="395.9" y="126.54" width="7.6" height="6.59" fill="#3300ff"/>
<rect x="395.9" y="132.83" width="7.6" height="6.59" fill="#6600ff"/>
<rect x="395.9" y="139.12" width="7.6" height="6.59" fill="#9900ff"/>
<rect x="395.9" y="145.42" width="7.6" height="6.59" fill="#cc00ff"/>
<rect x="395.9" y="151.71" width="7.6" height="6.59" fill="#ff00ff"/>
<text transform="translate(392.4,40.5) scale(0.88,1)" font-size="9" fill="#111" text-anchor="end" dominant-baseline="central" stroke="#111" stroke-width="0.2">10,0</text>
<text transform="translate(392.4,97.5) scale(0.88,1)" font-size="9" fill="#111" text-anchor="end" dominant-baseline="central" stroke="#111" stroke-width="0.2">1,0</text>
<text transform="translate(392.4,154.3) scale(0.88,1)" font-size="9" fill="#111" text-anchor="end" dominant-baseline="central" stroke="#111" stroke-width="0.2">0,1</text>
<line x1="393.7" y1="154.5" x2="395.9" y2="154.5" stroke="#6a7a9a" stroke-width="0.7" opacity="0.8"/>
<line x1="394.5" y1="137.4" x2="395.9" y2="137.4" stroke="#6a7a9a" stroke-width="0.7" opacity="0.8"/>
<line x1="394.5" y1="127.4" x2="395.9" y2="127.4" stroke="#6a7a9a" stroke-width="0.7" opacity="0.8"/>
<line x1="394.5" y1="120.3" x2="395.9" y2="120.3" stroke="#6a7a9a" stroke-width="0.7" opacity="0.8"/>
<line x1="394.5" y1="114.8" x2="395.9" y2="114.8" stroke="#6a7a9a" stroke-width="0.7" opacity="0.8"/>
<line x1="394.5" y1="110.3" x2="395.9" y2="110.3" stroke="#6a7a9a" stroke-width="0.7" opacity="0.8"/>
<line x1="394.5" y1="106.5" x2="395.9" y2="106.5" stroke="#6a7a9a" stroke-width="0.7" opacity="0.8"/>
<line x1="394.5" y1="103.2" x2="395.9" y2="103.2" stroke="#6a7a9a" stroke-width="0.7" opacity="0.8"/>
<line x1="394.5" y1="100.3" x2="395.9" y2="100.3" stroke="#6a7a9a" stroke-width="0.7" opacity="0.8"/>
<line x1="393.7" y1="97.7" x2="395.9" y2="97.7" stroke="#6a7a9a" stroke-width="0.7" opacity="0.8"/>
<line x1="394.5" y1="80.6" x2="395.9" y2="80.6" stroke="#6a7a9a" stroke-width="0.7" opacity="0.8"/>
<line x1="394.5" y1="70.6" x2="395.9" y2="70.6" stroke="#6a7a9a" stroke-width="0.7" opacity="0.8"/>
<line x1="394.5" y1="63.5" x2="395.9" y2="63.5" stroke="#6a7a9a" stroke-width="0.7" opacity="0.8"/>
<line x1="394.5" y1="58" x2="395.9" y2="58" stroke="#6a7a9a" stroke-width="0.7" opacity="0.8"/>
<line x1="394.5" y1="53.5" x2="395.9" y2="53.5" stroke="#6a7a9a" stroke-width="0.7" opacity="0.8"/>
<line x1="394.5" y1="49.7" x2="395.9" y2="49.7" stroke="#6a7a9a" stroke-width="0.7" opacity="0.8"/>
<line x1="394.5" y1="46.4" x2="395.9" y2="46.4" stroke="#6a7a9a" stroke-width="0.7" opacity="0.8"/>
<line x1="394.5" y1="43.5" x2="395.9" y2="43.5" stroke="#6a7a9a" stroke-width="0.7" opacity="0.8"/>
<line x1="393.7" y1="40.9" x2="395.9" y2="40.9" stroke="#6a7a9a" stroke-width="0.7" opacity="0.8"/>
<line x1="394.5" y1="23.8" x2="395.9" y2="23.8" stroke="#6a7a9a" stroke-width="0.7" opacity="0.8"/>
<line x1="394.5" y1="13.8" x2="395.9" y2="13.8" stroke="#6a7a9a" stroke-width="0.7" opacity="0.8"/>
<line x1="394.5" y1="6.7" x2="395.9" y2="6.7" stroke="#6a7a9a" stroke-width="0.7" opacity="0.8"/>
<text transform="translate(372.7,129.2) rotate(-90)" font-size="8" fill="#111" dominant-baseline="central" textLength="98.2" lengthAdjust="spacingAndGlyphs">electron density ,10<tspan font-size="4.6" dy="-1.9">13</tspan><tspan dy="1.9"> 1/cm</tspan><tspan font-size="4.6" dy="-2.4">2</tspan></text>
<line x1="267" y1="21.4" x2="267" y2="136.8" stroke="#1a1a1a" stroke-width="2.0" stroke-dasharray="4.5 3"/>
<text transform="translate(258.1,134.7) rotate(-90)" font-size="11.3" fill="#2a2a2a" text-anchor="start" dominant-baseline="central" textLength="32.4" lengthAdjust="spacingAndGlyphs" >Cu foil</text>
<line x1="302.4" y1="20.4" x2="302.4" y2="136.8" stroke="#d42020" stroke-width="1.4" stroke-dasharray="4.5 3"/>
<text transform="translate(295.6,133.9) rotate(-90)" font-size="11.5" fill="#d42020" text-anchor="start" dominant-baseline="central" textLength="19.5" lengthAdjust="spacingAndGlyphs" >Coil</text>
<line x1="451.3" y1="-1" x2="451.3" y2="136.3" stroke="#a8a8a8" stroke-width="1.5"/>
<line x1="450.8" y1="135.8" x2="579.7" y2="135.8" stroke="#a0a0a0" stroke-width="1.2"/>
<line x1="449.5" y1="3.2" x2="451.3" y2="3.2" stroke="#a8a8a8" stroke-width="0.8"/>
<text transform="translate(449.5,2.9) scale(0.88,1)" font-size="9" fill="#111" text-anchor="end" dominant-baseline="central" stroke="#111" stroke-width="0.2">1,5</text>
<line x1="449.5" y1="25.3" x2="451.3" y2="25.3" stroke="#a8a8a8" stroke-width="0.8"/>
<text transform="translate(449.5,25) scale(0.88,1)" font-size="9" fill="#111" text-anchor="end" dominant-baseline="central" stroke="#111" stroke-width="0.2">1,0</text>
<line x1="449.5" y1="47.4" x2="451.3" y2="47.4" stroke="#a8a8a8" stroke-width="0.8"/>
<text transform="translate(449.5,47.1) scale(0.88,1)" font-size="9" fill="#111" text-anchor="end" dominant-baseline="central" stroke="#111" stroke-width="0.2">0,5</text>
<line x1="449.5" y1="69.5" x2="451.3" y2="69.5" stroke="#a8a8a8" stroke-width="0.8"/>
<text transform="translate(449.5,69.2) scale(0.88,1)" font-size="9" fill="#111" text-anchor="end" dominant-baseline="central" stroke="#111" stroke-width="0.2">0,0</text>
<line x1="449.5" y1="91.6" x2="451.3" y2="91.6" stroke="#a8a8a8" stroke-width="0.8"/>
<text transform="translate(449.5,91.3) scale(0.88,1)" font-size="9" fill="#111" text-anchor="end" dominant-baseline="central" stroke="#111" stroke-width="0.2">-0,5</text>
<line x1="449.5" y1="113.7" x2="451.3" y2="113.7" stroke="#a8a8a8" stroke-width="0.8"/>
<text transform="translate(449.5,113.4) scale(0.88,1)" font-size="9" fill="#111" text-anchor="end" dominant-baseline="central" stroke="#111" stroke-width="0.2">-1,0</text>
<line x1="449.5" y1="135.8" x2="451.3" y2="135.8" stroke="#a8a8a8" stroke-width="0.8"/>
<text transform="translate(449.5,135.5) scale(0.88,1)" font-size="9" fill="#111" text-anchor="end" dominant-baseline="central" stroke="#111" stroke-width="0.2">-1,5</text>
<line x1="451.3" y1="135.8" x2="451.3" y2="137.6" stroke="#a0a0a0" stroke-width="0.8"/>
<text transform="translate(451.5,142.1) scale(0.88,1)" font-size="9" fill="#111" text-anchor="middle" dominant-baseline="central" stroke="#111" stroke-width="0.2">-1,5</text>
<line x1="472.7" y1="135.8" x2="472.7" y2="137.6" stroke="#a0a0a0" stroke-width="0.8"/>
<text transform="translate(472.9,142.1) scale(0.88,1)" font-size="9" fill="#111" text-anchor="middle" dominant-baseline="central" stroke="#111" stroke-width="0.2">-1,0</text>
<line x1="494.1" y1="135.8" x2="494.1" y2="137.6" stroke="#a0a0a0" stroke-width="0.8"/>
<text transform="translate(494.3,142.1) scale(0.88,1)" font-size="9" fill="#111" text-anchor="middle" dominant-baseline="central" stroke="#111" stroke-width="0.2">-0,5</text>
<line x1="515.5" y1="135.8" x2="515.5" y2="137.6" stroke="#a0a0a0" stroke-width="0.8"/>
<text transform="translate(515.7,142.1) scale(0.88,1)" font-size="9" fill="#111" text-anchor="middle" dominant-baseline="central" stroke="#111" stroke-width="0.2">0,0</text>
<line x1="536.9" y1="135.8" x2="536.9" y2="137.6" stroke="#a0a0a0" stroke-width="0.8"/>
<text transform="translate(537.1,142.1) scale(0.88,1)" font-size="9" fill="#111" text-anchor="middle" dominant-baseline="central" stroke="#111" stroke-width="0.2">0,5</text>
<line x1="558.3" y1="135.8" x2="558.3" y2="137.6" stroke="#a0a0a0" stroke-width="0.8"/>
<text transform="translate(558.5,142.1) scale(0.88,1)" font-size="9" fill="#111" text-anchor="middle" dominant-baseline="central" stroke="#111" stroke-width="0.2">1,0</text>
<line x1="579.7" y1="135.8" x2="579.7" y2="137.6" stroke="#a0a0a0" stroke-width="0.8"/>
<text transform="translate(579.9,142.1) scale(0.88,1)" font-size="9" fill="#111" text-anchor="middle" dominant-baseline="central" stroke="#111" stroke-width="0.2">1,5</text>
<text x="490.5" y="8.9" font-size="11" fill="#222" text-anchor="start" dominant-baseline="central" textLength="85.1" lengthAdjust="spacingAndGlyphs" >Said view-w/o Bz</text>
<text x="487" y="152.5" font-size="8.7" fill="#111" text-anchor="start" dominant-baseline="central" >distance z , mm</text>
<text transform="translate(429.5,97.2) rotate(-90)" font-size="8.4" fill="#111" text-anchor="start" dominant-baseline="central" textLength="57.5" lengthAdjust="spacingAndGlyphs" >distance&#160; y, mm</text>
<text x="543.3" y="126.8" font-size="11" fill="#222" text-anchor="start" dominant-baseline="central" textLength="34.7" lengthAdjust="spacingAndGlyphs" >t= 2 ps</text>
<rect x="608.6" y="-0.5" width="8.9" height="6.62" fill="#ff2200"/>
<rect x="608.6" y="5.82" width="8.9" height="6.62" fill="#ff4400"/>
<rect x="608.6" y="12.13" width="8.9" height="6.62" fill="#ff7700"/>
<rect x="608.6" y="18.45" width="8.9" height="6.62" fill="#ffaa00"/>
<rect x="608.6" y="24.76" width="8.9" height="6.62" fill="#ffff00"/>
<rect x="608.6" y="31.08" width="8.9" height="6.62" fill="#ccff00"/>
<rect x="608.6" y="37.4" width="8.9" height="6.62" fill="#99ff00"/>
<rect x="608.6" y="43.71" width="8.9" height="6.62" fill="#66ff00"/>
<rect x="608.6" y="50.03" width="8.9" height="6.62" fill="#33ff00"/>
<rect x="608.6" y="56.34" width="8.9" height="6.62" fill="#00ff00"/>
<rect x="608.6" y="62.66" width="8.9" height="6.62" fill="#00ff33"/>
<rect x="608.6" y="68.98" width="8.9" height="6.62" fill="#00ff66"/>
<rect x="608.6" y="75.29" width="8.9" height="6.62" fill="#00ff99"/>
<rect x="608.6" y="81.61" width="8.9" height="6.62" fill="#00ffcc"/>
<rect x="608.6" y="87.92" width="8.9" height="6.62" fill="#00ffff"/>
<rect x="608.6" y="94.24" width="8.9" height="6.62" fill="#00ccff"/>
<rect x="608.6" y="100.56" width="8.9" height="6.62" fill="#0099ff"/>
<rect x="608.6" y="106.87" width="8.9" height="6.62" fill="#0066ff"/>
<rect x="608.6" y="113.19" width="8.9" height="6.62" fill="#0033ff"/>
<rect x="608.6" y="119.5" width="8.9" height="6.62" fill="#0000ff"/>
<rect x="608.6" y="125.82" width="8.9" height="6.62" fill="#3300ff"/>
<rect x="608.6" y="132.14" width="8.9" height="6.62" fill="#6600ff"/>
<rect x="608.6" y="138.45" width="8.9" height="6.62" fill="#9900ff"/>
<rect x="608.6" y="144.77" width="8.9" height="6.62" fill="#cc00ff"/>
<rect x="608.6" y="151.08" width="8.9" height="6.62" fill="#ff00ff"/>
<text transform="translate(605.4,40.5) scale(0.88,1)" font-size="9" fill="#111" text-anchor="end" dominant-baseline="central" stroke="#111" stroke-width="0.2">10,0</text>
<text transform="translate(605.4,96.7) scale(0.88,1)" font-size="9" fill="#111" text-anchor="end" dominant-baseline="central" stroke="#111" stroke-width="0.2">1,0</text>
<text transform="translate(605.4,152.9) scale(0.88,1)" font-size="9" fill="#111" text-anchor="end" dominant-baseline="central" stroke="#111" stroke-width="0.2">0,1</text>
<line x1="606.4" y1="153.1" x2="608.6" y2="153.1" stroke="#6a7a9a" stroke-width="0.7" opacity="0.8"/>
<line x1="607.2" y1="136.18" x2="608.6" y2="136.18" stroke="#6a7a9a" stroke-width="0.7" opacity="0.8"/>
<line x1="607.2" y1="126.29" x2="608.6" y2="126.29" stroke="#6a7a9a" stroke-width="0.7" opacity="0.8"/>
<line x1="607.2" y1="119.26" x2="608.6" y2="119.26" stroke="#6a7a9a" stroke-width="0.7" opacity="0.8"/>
<line x1="607.2" y1="113.82" x2="608.6" y2="113.82" stroke="#6a7a9a" stroke-width="0.7" opacity="0.8"/>
<line x1="607.2" y1="109.37" x2="608.6" y2="109.37" stroke="#6a7a9a" stroke-width="0.7" opacity="0.8"/>
<line x1="607.2" y1="105.61" x2="608.6" y2="105.61" stroke="#6a7a9a" stroke-width="0.7" opacity="0.8"/>
<line x1="607.2" y1="102.35" x2="608.6" y2="102.35" stroke="#6a7a9a" stroke-width="0.7" opacity="0.8"/>
<line x1="607.2" y1="99.47" x2="608.6" y2="99.47" stroke="#6a7a9a" stroke-width="0.7" opacity="0.8"/>
<line x1="606.4" y1="96.9" x2="608.6" y2="96.9" stroke="#6a7a9a" stroke-width="0.7" opacity="0.8"/>
<line x1="607.2" y1="79.98" x2="608.6" y2="79.98" stroke="#6a7a9a" stroke-width="0.7" opacity="0.8"/>
<line x1="607.2" y1="70.09" x2="608.6" y2="70.09" stroke="#6a7a9a" stroke-width="0.7" opacity="0.8"/>
<line x1="607.2" y1="63.06" x2="608.6" y2="63.06" stroke="#6a7a9a" stroke-width="0.7" opacity="0.8"/>
<line x1="607.2" y1="57.62" x2="608.6" y2="57.62" stroke="#6a7a9a" stroke-width="0.7" opacity="0.8"/>
<line x1="607.2" y1="53.17" x2="608.6" y2="53.17" stroke="#6a7a9a" stroke-width="0.7" opacity="0.8"/>
<line x1="607.2" y1="49.41" x2="608.6" y2="49.41" stroke="#6a7a9a" stroke-width="0.7" opacity="0.8"/>
<line x1="607.2" y1="46.15" x2="608.6" y2="46.15" stroke="#6a7a9a" stroke-width="0.7" opacity="0.8"/>
<line x1="607.2" y1="43.27" x2="608.6" y2="43.27" stroke="#6a7a9a" stroke-width="0.7" opacity="0.8"/>
<line x1="606.4" y1="40.7" x2="608.6" y2="40.7" stroke="#6a7a9a" stroke-width="0.7" opacity="0.8"/>
<line x1="607.2" y1="23.78" x2="608.6" y2="23.78" stroke="#6a7a9a" stroke-width="0.7" opacity="0.8"/>
<line x1="607.2" y1="13.89" x2="608.6" y2="13.89" stroke="#6a7a9a" stroke-width="0.7" opacity="0.8"/>
<line x1="607.2" y1="6.86" x2="608.6" y2="6.86" stroke="#6a7a9a" stroke-width="0.7" opacity="0.8"/>
<line x1="607.2" y1="1.42" x2="608.6" y2="1.42" stroke="#6a7a9a" stroke-width="0.7" opacity="0.8"/>
<text transform="translate(586.4,129.2) rotate(-90)" font-size="8" fill="#111" dominant-baseline="central" textLength="99.2" lengthAdjust="spacingAndGlyphs">electron density ,10<tspan font-size="4.6" dy="-1.9">13</tspan><tspan dy="1.9"> 1/cm</tspan><tspan font-size="4.6" dy="-2.4">2</tspan></text>
<line x1="479.2" y1="20.3" x2="479.2" y2="135.8" stroke="#1a1a1a" stroke-width="2.0" stroke-dasharray="4.5 3"/>
<text transform="translate(470.5,133.9) rotate(-90)" font-size="11.3" fill="#2a2a2a" text-anchor="start" dominant-baseline="central" textLength="31.6" lengthAdjust="spacingAndGlyphs" >Cu foil</text>
<line x1="514.7" y1="20" x2="514.7" y2="135.8" stroke="#d42020" stroke-width="1.4" stroke-dasharray="4.5 3"/>
<text transform="translate(506.5,133) rotate(-90)" font-size="11.5" fill="#d42020" text-anchor="start" dominant-baseline="central" textLength="18.6" lengthAdjust="spacingAndGlyphs" >Coil</text>
<line x1="150.2" y1="177.4" x2="150.2" y2="314.3" stroke="#d8d8d8" stroke-width="1"/>
<line x1="25.5" y1="179" x2="25.5" y2="314.8" stroke="#c6c6c6" stroke-width="1.5"/>
<line x1="25" y1="314.3" x2="150.2" y2="314.3" stroke="#c8c8c8" stroke-width="1.2"/>
<line x1="23.7" y1="181.3" x2="25.5" y2="181.3" stroke="#c6c6c6" stroke-width="0.8"/>
<text transform="translate(23.7,181) scale(0.88,1)" font-size="9" fill="#111" text-anchor="end" dominant-baseline="central" stroke="#111" stroke-width="0.2">1,5</text>
<line x1="23.7" y1="203.47" x2="25.5" y2="203.47" stroke="#c6c6c6" stroke-width="0.8"/>
<text transform="translate(23.7,203.17) scale(0.88,1)" font-size="9" fill="#111" text-anchor="end" dominant-baseline="central" stroke="#111" stroke-width="0.2">1,0</text>
<line x1="23.7" y1="225.63" x2="25.5" y2="225.63" stroke="#c6c6c6" stroke-width="0.8"/>
<text transform="translate(23.7,225.33) scale(0.88,1)" font-size="9" fill="#111" text-anchor="end" dominant-baseline="central" stroke="#111" stroke-width="0.2">0,5</text>
<line x1="23.7" y1="247.8" x2="25.5" y2="247.8" stroke="#c6c6c6" stroke-width="0.8"/>
<text transform="translate(23.7,247.5) scale(0.88,1)" font-size="9" fill="#111" text-anchor="end" dominant-baseline="central" stroke="#111" stroke-width="0.2">0,0</text>
<line x1="23.7" y1="269.97" x2="25.5" y2="269.97" stroke="#c6c6c6" stroke-width="0.8"/>
<text transform="translate(23.7,269.67) scale(0.88,1)" font-size="9" fill="#111" text-anchor="end" dominant-baseline="central" stroke="#111" stroke-width="0.2">-0,5</text>
<line x1="23.7" y1="292.13" x2="25.5" y2="292.13" stroke="#c6c6c6" stroke-width="0.8"/>
<text transform="translate(23.7,291.83) scale(0.88,1)" font-size="9" fill="#111" text-anchor="end" dominant-baseline="central" stroke="#111" stroke-width="0.2">-1,0</text>
<line x1="23.7" y1="314.3" x2="25.5" y2="314.3" stroke="#c6c6c6" stroke-width="0.8"/>
<text transform="translate(23.7,314) scale(0.88,1)" font-size="9" fill="#111" text-anchor="end" dominant-baseline="central" stroke="#111" stroke-width="0.2">-1,5</text>
<line x1="25.5" y1="314.3" x2="25.5" y2="316.1" stroke="#c8c8c8" stroke-width="0.8"/>
<text transform="translate(25.7,320.1) scale(0.88,1)" font-size="9" fill="#111" text-anchor="middle" dominant-baseline="central" stroke="#111" stroke-width="0.2">-1,5</text>
<line x1="46.28" y1="314.3" x2="46.28" y2="316.1" stroke="#c8c8c8" stroke-width="0.8"/>
<text transform="translate(46.48,320.1) scale(0.88,1)" font-size="9" fill="#111" text-anchor="middle" dominant-baseline="central" stroke="#111" stroke-width="0.2">-1,0</text>
<line x1="67.07" y1="314.3" x2="67.07" y2="316.1" stroke="#c8c8c8" stroke-width="0.8"/>
<text transform="translate(67.27,320.1) scale(0.88,1)" font-size="9" fill="#111" text-anchor="middle" dominant-baseline="central" stroke="#111" stroke-width="0.2">-0,5</text>
<line x1="87.85" y1="314.3" x2="87.85" y2="316.1" stroke="#c8c8c8" stroke-width="0.8"/>
<text transform="translate(88.05,320.1) scale(0.88,1)" font-size="9" fill="#111" text-anchor="middle" dominant-baseline="central" stroke="#111" stroke-width="0.2">0,0</text>
<line x1="108.63" y1="314.3" x2="108.63" y2="316.1" stroke="#c8c8c8" stroke-width="0.8"/>
<text transform="translate(108.83,320.1) scale(0.88,1)" font-size="9" fill="#111" text-anchor="middle" dominant-baseline="central" stroke="#111" stroke-width="0.2">0,5</text>
<line x1="129.42" y1="314.3" x2="129.42" y2="316.1" stroke="#c8c8c8" stroke-width="0.8"/>
<text transform="translate(129.62,320.1) scale(0.88,1)" font-size="9" fill="#111" text-anchor="middle" dominant-baseline="central" stroke="#111" stroke-width="0.2">1,0</text>
<line x1="150.2" y1="314.3" x2="150.2" y2="316.1" stroke="#c8c8c8" stroke-width="0.8"/>
<text transform="translate(150.4,320.1) scale(0.88,1)" font-size="9" fill="#111" text-anchor="middle" dominant-baseline="central" stroke="#111" stroke-width="0.2">1,5</text>
<text x="48.6" y="184.3" font-size="11" fill="#222" text-anchor="start" dominant-baseline="central" textLength="89.2" lengthAdjust="spacingAndGlyphs" >Front view-w/o Bz</text>
<text x="59.2" y="330.5" font-size="8.7" fill="#111" text-anchor="start" dominant-baseline="central" >distance x , mm</text>
<text transform="translate(3.9,274.6) rotate(-90)" font-size="8.4" fill="#111" text-anchor="start" dominant-baseline="central" textLength="57.7" lengthAdjust="spacingAndGlyphs" >distance y , mm</text>
<text x="107.3" y="305.9" font-size="11" fill="#222" text-anchor="start" dominant-baseline="central" textLength="34" lengthAdjust="spacingAndGlyphs" >t= 5 ps</text>
<rect x="185.1" y="177.4" width="7.9" height="6.63" fill="#ff2200"/>
<rect x="185.1" y="183.73" width="7.9" height="6.63" fill="#ff4400"/>
<rect x="185.1" y="190.06" width="7.9" height="6.63" fill="#ff7700"/>
<rect x="185.1" y="196.38" width="7.9" height="6.63" fill="#ffaa00"/>
<rect x="185.1" y="202.71" width="7.9" height="6.63" fill="#ffff00"/>
<rect x="185.1" y="209.04" width="7.9" height="6.63" fill="#ccff00"/>
<rect x="185.1" y="215.37" width="7.9" height="6.63" fill="#99ff00"/>
<rect x="185.1" y="221.7" width="7.9" height="6.63" fill="#66ff00"/>
<rect x="185.1" y="228.02" width="7.9" height="6.63" fill="#33ff00"/>
<rect x="185.1" y="234.35" width="7.9" height="6.63" fill="#00ff00"/>
<rect x="185.1" y="240.68" width="7.9" height="6.63" fill="#00ff33"/>
<rect x="185.1" y="247.01" width="7.9" height="6.63" fill="#00ff66"/>
<rect x="185.1" y="253.34" width="7.9" height="6.63" fill="#00ff99"/>
<rect x="185.1" y="259.66" width="7.9" height="6.63" fill="#00ffcc"/>
<rect x="185.1" y="265.99" width="7.9" height="6.63" fill="#00ffff"/>
<rect x="185.1" y="272.32" width="7.9" height="6.63" fill="#00ccff"/>
<rect x="185.1" y="278.65" width="7.9" height="6.63" fill="#0099ff"/>
<rect x="185.1" y="284.98" width="7.9" height="6.63" fill="#0066ff"/>
<rect x="185.1" y="291.3" width="7.9" height="6.63" fill="#0033ff"/>
<rect x="185.1" y="297.63" width="7.9" height="6.63" fill="#0000ff"/>
<rect x="185.1" y="303.96" width="7.9" height="6.63" fill="#3300ff"/>
<rect x="185.1" y="310.29" width="7.9" height="6.63" fill="#6600ff"/>
<rect x="185.1" y="316.62" width="7.9" height="6.63" fill="#9900ff"/>
<rect x="185.1" y="322.94" width="7.9" height="6.63" fill="#cc00ff"/>
<rect x="185.1" y="329.27" width="7.9" height="6.63" fill="#ff00ff"/>
<text transform="translate(182.7,180.2) scale(0.88,1)" font-size="9" fill="#111" text-anchor="end" dominant-baseline="central" stroke="#111" stroke-width="0.2">100,0</text>
<text transform="translate(182.7,230.2) scale(0.88,1)" font-size="9" fill="#111" text-anchor="end" dominant-baseline="central" stroke="#111" stroke-width="0.2">10,0</text>
<text transform="translate(182.7,281.2) scale(0.88,1)" font-size="9" fill="#111" text-anchor="end" dominant-baseline="central" stroke="#111" stroke-width="0.2">1,0</text>
<text transform="translate(182.7,332.5) scale(0.88,1)" font-size="9" fill="#111" text-anchor="end" dominant-baseline="central" stroke="#111" stroke-width="0.2">0,1</text>
<line x1="182.9" y1="332.7" x2="185.1" y2="332.7" stroke="#6a7a9a" stroke-width="0.7" opacity="0.8"/>
<line x1="183.7" y1="317.26" x2="185.1" y2="317.26" stroke="#6a7a9a" stroke-width="0.7" opacity="0.8"/>
<line x1="183.7" y1="308.22" x2="185.1" y2="308.22" stroke="#6a7a9a" stroke-width="0.7" opacity="0.8"/>
<line x1="183.7" y1="301.81" x2="185.1" y2="301.81" stroke="#6a7a9a" stroke-width="0.7" opacity="0.8"/>
<line x1="183.7" y1="296.84" x2="185.1" y2="296.84" stroke="#6a7a9a" stroke-width="0.7" opacity="0.8"/>
<line x1="183.7" y1="292.78" x2="185.1" y2="292.78" stroke="#6a7a9a" stroke-width="0.7" opacity="0.8"/>
<line x1="183.7" y1="289.35" x2="185.1" y2="289.35" stroke="#6a7a9a" stroke-width="0.7" opacity="0.8"/>
<line x1="183.7" y1="286.37" x2="185.1" y2="286.37" stroke="#6a7a9a" stroke-width="0.7" opacity="0.8"/>
<line x1="183.7" y1="283.75" x2="185.1" y2="283.75" stroke="#6a7a9a" stroke-width="0.7" opacity="0.8"/>
<line x1="182.9" y1="281.4" x2="185.1" y2="281.4" stroke="#6a7a9a" stroke-width="0.7" opacity="0.8"/>
<line x1="183.7" y1="265.96" x2="185.1" y2="265.96" stroke="#6a7a9a" stroke-width="0.7" opacity="0.8"/>
<line x1="183.7" y1="256.92" x2="185.1" y2="256.92" stroke="#6a7a9a" stroke-width="0.7" opacity="0.8"/>
<line x1="183.7" y1="250.51" x2="185.1" y2="250.51" stroke="#6a7a9a" stroke-width="0.7" opacity="0.8"/>
<line x1="183.7" y1="245.54" x2="185.1" y2="245.54" stroke="#6a7a9a" stroke-width="0.7" opacity="0.8"/>
<line x1="183.7" y1="241.48" x2="185.1" y2="241.48" stroke="#6a7a9a" stroke-width="0.7" opacity="0.8"/>
<line x1="183.7" y1="238.05" x2="185.1" y2="238.05" stroke="#6a7a9a" stroke-width="0.7" opacity="0.8"/>
<line x1="183.7" y1="235.07" x2="185.1" y2="235.07" stroke="#6a7a9a" stroke-width="0.7" opacity="0.8"/>
<line x1="183.7" y1="232.45" x2="185.1" y2="232.45" stroke="#6a7a9a" stroke-width="0.7" opacity="0.8"/>
<line x1="182.9" y1="230.1" x2="185.1" y2="230.1" stroke="#6a7a9a" stroke-width="0.7" opacity="0.8"/>
<line x1="183.7" y1="214.66" x2="185.1" y2="214.66" stroke="#6a7a9a" stroke-width="0.7" opacity="0.8"/>
<line x1="183.7" y1="205.62" x2="185.1" y2="205.62" stroke="#6a7a9a" stroke-width="0.7" opacity="0.8"/>
<line x1="183.7" y1="199.21" x2="185.1" y2="199.21" stroke="#6a7a9a" stroke-width="0.7" opacity="0.8"/>
<line x1="183.7" y1="194.24" x2="185.1" y2="194.24" stroke="#6a7a9a" stroke-width="0.7" opacity="0.8"/>
<line x1="183.7" y1="190.18" x2="185.1" y2="190.18" stroke="#6a7a9a" stroke-width="0.7" opacity="0.8"/>
<line x1="183.7" y1="186.75" x2="185.1" y2="186.75" stroke="#6a7a9a" stroke-width="0.7" opacity="0.8"/>
<line x1="183.7" y1="183.77" x2="185.1" y2="183.77" stroke="#6a7a9a" stroke-width="0.7" opacity="0.8"/>
<line x1="183.7" y1="181.15" x2="185.1" y2="181.15" stroke="#6a7a9a" stroke-width="0.7" opacity="0.8"/>
<line x1="182.9" y1="178.8" x2="185.1" y2="178.8" stroke="#6a7a9a" stroke-width="0.7" opacity="0.8"/>
<text transform="translate(157.3,306.8) rotate(-90)" font-size="8" fill="#111" dominant-baseline="central" textLength="99.8" lengthAdjust="spacingAndGlyphs">electron density ,10<tspan font-size="4.6" dy="-1.9">13</tspan><tspan dy="1.9"> 1/cm</tspan><tspan font-size="4.6" dy="-2.4">2</tspan></text>
<line x1="236.6" y1="179.7" x2="236.6" y2="315" stroke="#c6c6c6" stroke-width="1.5"/>
<line x1="236.1" y1="314.5" x2="363.8" y2="314.5" stroke="#c8c8c8" stroke-width="1.2"/>
<line x1="234.8" y1="183" x2="236.6" y2="183" stroke="#c6c6c6" stroke-width="0.8"/>
<text transform="translate(234.8,182.7) scale(0.88,1)" font-size="9" fill="#111" text-anchor="end" dominant-baseline="central" stroke="#111" stroke-width="0.2">1,5</text>
<line x1="234.8" y1="204.92" x2="236.6" y2="204.92" stroke="#c6c6c6" stroke-width="0.8"/>
<text transform="translate(234.8,204.62) scale(0.88,1)" font-size="9" fill="#111" text-anchor="end" dominant-baseline="central" stroke="#111" stroke-width="0.2">1,0</text>
<line x1="234.8" y1="226.83" x2="236.6" y2="226.83" stroke="#c6c6c6" stroke-width="0.8"/>
<text transform="translate(234.8,226.53) scale(0.88,1)" font-size="9" fill="#111" text-anchor="end" dominant-baseline="central" stroke="#111" stroke-width="0.2">0,5</text>
<line x1="234.8" y1="248.75" x2="236.6" y2="248.75" stroke="#c6c6c6" stroke-width="0.8"/>
<text transform="translate(234.8,248.45) scale(0.88,1)" font-size="9" fill="#111" text-anchor="end" dominant-baseline="central" stroke="#111" stroke-width="0.2">0,0</text>
<line x1="234.8" y1="270.67" x2="236.6" y2="270.67" stroke="#c6c6c6" stroke-width="0.8"/>
<text transform="translate(234.8,270.37) scale(0.88,1)" font-size="9" fill="#111" text-anchor="end" dominant-baseline="central" stroke="#111" stroke-width="0.2">-0,5</text>
<line x1="234.8" y1="292.58" x2="236.6" y2="292.58" stroke="#c6c6c6" stroke-width="0.8"/>
<text transform="translate(234.8,292.28) scale(0.88,1)" font-size="9" fill="#111" text-anchor="end" dominant-baseline="central" stroke="#111" stroke-width="0.2">-1,0</text>
<line x1="234.8" y1="314.5" x2="236.6" y2="314.5" stroke="#c6c6c6" stroke-width="0.8"/>
<text transform="translate(234.8,314.2) scale(0.88,1)" font-size="9" fill="#111" text-anchor="end" dominant-baseline="central" stroke="#111" stroke-width="0.2">-1,5</text>
<line x1="236.6" y1="314.5" x2="236.6" y2="316.3" stroke="#c8c8c8" stroke-width="0.8"/>
<text transform="translate(236.8,319.8) scale(0.88,1)" font-size="9" fill="#111" text-anchor="middle" dominant-baseline="central" stroke="#111" stroke-width="0.2">-1,5</text>
<line x1="257.8" y1="314.5" x2="257.8" y2="316.3" stroke="#c8c8c8" stroke-width="0.8"/>
<text transform="translate(258,319.8) scale(0.88,1)" font-size="9" fill="#111" text-anchor="middle" dominant-baseline="central" stroke="#111" stroke-width="0.2">-1,0</text>
<line x1="279" y1="314.5" x2="279" y2="316.3" stroke="#c8c8c8" stroke-width="0.8"/>
<text transform="translate(279.2,319.8) scale(0.88,1)" font-size="9" fill="#111" text-anchor="middle" dominant-baseline="central" stroke="#111" stroke-width="0.2">-0,5</text>
<line x1="300.2" y1="314.5" x2="300.2" y2="316.3" stroke="#c8c8c8" stroke-width="0.8"/>
<text transform="translate(300.4,319.8) scale(0.88,1)" font-size="9" fill="#111" text-anchor="middle" dominant-baseline="central" stroke="#111" stroke-width="0.2">0,0</text>
<line x1="321.4" y1="314.5" x2="321.4" y2="316.3" stroke="#c8c8c8" stroke-width="0.8"/>
<text transform="translate(321.6,319.8) scale(0.88,1)" font-size="9" fill="#111" text-anchor="middle" dominant-baseline="central" stroke="#111" stroke-width="0.2">0,5</text>
<line x1="342.6" y1="314.5" x2="342.6" y2="316.3" stroke="#c8c8c8" stroke-width="0.8"/>
<text transform="translate(342.8,319.8) scale(0.88,1)" font-size="9" fill="#111" text-anchor="middle" dominant-baseline="central" stroke="#111" stroke-width="0.2">1,0</text>
<line x1="363.8" y1="314.5" x2="363.8" y2="316.3" stroke="#c8c8c8" stroke-width="0.8"/>
<text transform="translate(364,319.8) scale(0.88,1)" font-size="9" fill="#111" text-anchor="middle" dominant-baseline="central" stroke="#111" stroke-width="0.2">1,5</text>
<text x="280" y="184.3" font-size="11" fill="#222" text-anchor="start" dominant-baseline="central" textLength="79.3" lengthAdjust="spacingAndGlyphs" >Top view-w/o Bz</text>
<text x="272" y="331" font-size="8.7" fill="#111" text-anchor="start" dominant-baseline="central" >distance z , mm</text>
<text transform="translate(215.1,276) rotate(-90)" font-size="8.4" fill="#111" text-anchor="start" dominant-baseline="central" textLength="56.3" lengthAdjust="spacingAndGlyphs" >distance&#160; x, mm</text>
<text x="322.3" y="302" font-size="11" fill="#222" text-anchor="start" dominant-baseline="central" textLength="33.3" lengthAdjust="spacingAndGlyphs" >t= 5 ps</text>
<rect x="393.4" y="179.4" width="8.3" height="6.55" fill="#ff2200"/>
<rect x="393.4" y="185.65" width="8.3" height="6.55" fill="#ff4400"/>
<rect x="393.4" y="191.9" width="8.3" height="6.55" fill="#ff7700"/>
<rect x="393.4" y="198.16" width="8.3" height="6.55" fill="#ffaa00"/>
<rect x="393.4" y="204.41" width="8.3" height="6.55" fill="#ffff00"/>
<rect x="393.4" y="210.66" width="8.3" height="6.55" fill="#ccff00"/>
<rect x="393.4" y="216.91" width="8.3" height="6.55" fill="#99ff00"/>
<rect x="393.4" y="223.16" width="8.3" height="6.55" fill="#66ff00"/>
<rect x="393.4" y="229.42" width="8.3" height="6.55" fill="#33ff00"/>
<rect x="393.4" y="235.67" width="8.3" height="6.55" fill="#00ff00"/>
<rect x="393.4" y="241.92" width="8.3" height="6.55" fill="#00ff33"/>
<rect x="393.4" y="248.17" width="8.3" height="6.55" fill="#00ff66"/>
<rect x="393.4" y="254.42" width="8.3" height="6.55" fill="#00ff99"/>
<rect x="393.4" y="260.68" width="8.3" height="6.55" fill="#00ffcc"/>
<rect x="393.4" y="266.93" width="8.3" height="6.55" fill="#00ffff"/>
<rect x="393.4" y="273.18" width="8.3" height="6.55" fill="#00ccff"/>
<rect x="393.4" y="279.43" width="8.3" height="6.55" fill="#0099ff"/>
<rect x="393.4" y="285.68" width="8.3" height="6.55" fill="#0066ff"/>
<rect x="393.4" y="291.94" width="8.3" height="6.55" fill="#0033ff"/>
<rect x="393.4" y="298.19" width="8.3" height="6.55" fill="#0000ff"/>
<rect x="393.4" y="304.44" width="8.3" height="6.55" fill="#3300ff"/>
<rect x="393.4" y="310.69" width="8.3" height="6.55" fill="#6600ff"/>
<rect x="393.4" y="316.94" width="8.3" height="6.55" fill="#9900ff"/>
<rect x="393.4" y="323.2" width="8.3" height="6.55" fill="#cc00ff"/>
<rect x="393.4" y="329.45" width="8.3" height="6.55" fill="#ff00ff"/>
<text transform="translate(391.4,219.1) scale(0.88,1)" font-size="9" fill="#111" text-anchor="end" dominant-baseline="central" stroke="#111" stroke-width="0.2">10,0</text>
<text transform="translate(391.4,275.8) scale(0.88,1)" font-size="9" fill="#111" text-anchor="end" dominant-baseline="central" stroke="#111" stroke-width="0.2">1,0</text>
<text transform="translate(391.4,332.1) scale(0.88,1)" font-size="9" fill="#111" text-anchor="end" dominant-baseline="central" stroke="#111" stroke-width="0.2">0,1</text>
<line x1="391.2" y1="332.3" x2="393.4" y2="332.3" stroke="#6a7a9a" stroke-width="0.7" opacity="0.8"/>
<line x1="392" y1="315.35" x2="393.4" y2="315.35" stroke="#6a7a9a" stroke-width="0.7" opacity="0.8"/>
<line x1="392" y1="305.44" x2="393.4" y2="305.44" stroke="#6a7a9a" stroke-width="0.7" opacity="0.8"/>
<line x1="392" y1="298.4" x2="393.4" y2="298.4" stroke="#6a7a9a" stroke-width="0.7" opacity="0.8"/>
<line x1="392" y1="292.95" x2="393.4" y2="292.95" stroke="#6a7a9a" stroke-width="0.7" opacity="0.8"/>
<line x1="392" y1="288.49" x2="393.4" y2="288.49" stroke="#6a7a9a" stroke-width="0.7" opacity="0.8"/>
<line x1="392" y1="284.72" x2="393.4" y2="284.72" stroke="#6a7a9a" stroke-width="0.7" opacity="0.8"/>
<line x1="392" y1="281.46" x2="393.4" y2="281.46" stroke="#6a7a9a" stroke-width="0.7" opacity="0.8"/>
<line x1="392" y1="278.58" x2="393.4" y2="278.58" stroke="#6a7a9a" stroke-width="0.7" opacity="0.8"/>
<line x1="391.2" y1="276" x2="393.4" y2="276" stroke="#6a7a9a" stroke-width="0.7" opacity="0.8"/>
<line x1="392" y1="259.05" x2="393.4" y2="259.05" stroke="#6a7a9a" stroke-width="0.7" opacity="0.8"/>
<line x1="392" y1="249.14" x2="393.4" y2="249.14" stroke="#6a7a9a" stroke-width="0.7" opacity="0.8"/>
<line x1="392" y1="242.1" x2="393.4" y2="242.1" stroke="#6a7a9a" stroke-width="0.7" opacity="0.8"/>
<line x1="392" y1="236.65" x2="393.4" y2="236.65" stroke="#6a7a9a" stroke-width="0.7" opacity="0.8"/>
<line x1="392" y1="232.19" x2="393.4" y2="232.19" stroke="#6a7a9a" stroke-width="0.7" opacity="0.8"/>
<line x1="392" y1="228.42" x2="393.4" y2="228.42" stroke="#6a7a9a" stroke-width="0.7" opacity="0.8"/>
<line x1="392" y1="225.16" x2="393.4" y2="225.16" stroke="#6a7a9a" stroke-width="0.7" opacity="0.8"/>
<line x1="392" y1="222.28" x2="393.4" y2="222.28" stroke="#6a7a9a" stroke-width="0.7" opacity="0.8"/>
<line x1="391.2" y1="219.7" x2="393.4" y2="219.7" stroke="#6a7a9a" stroke-width="0.7" opacity="0.8"/>
<line x1="392" y1="202.75" x2="393.4" y2="202.75" stroke="#6a7a9a" stroke-width="0.7" opacity="0.8"/>
<line x1="392" y1="192.84" x2="393.4" y2="192.84" stroke="#6a7a9a" stroke-width="0.7" opacity="0.8"/>
<line x1="392" y1="185.8" x2="393.4" y2="185.8" stroke="#6a7a9a" stroke-width="0.7" opacity="0.8"/>
<line x1="392" y1="180.35" x2="393.4" y2="180.35" stroke="#6a7a9a" stroke-width="0.7" opacity="0.8"/>
<text transform="translate(370.4,308) rotate(-90)" font-size="8" fill="#111" dominant-baseline="central" textLength="98.5" lengthAdjust="spacingAndGlyphs">electron density ,10<tspan font-size="4.6" dy="-1.9">13</tspan><tspan dy="1.9"> 1/cm</tspan><tspan font-size="4.6" dy="-2.4">2</tspan></text>
<line x1="264" y1="197.2" x2="264" y2="314.5" stroke="#1a1a1a" stroke-width="1.7" stroke-dasharray="4.5 3"/>
<text transform="translate(255.5,310.8) rotate(-90)" font-size="11.3" fill="#2a2a2a" text-anchor="start" dominant-baseline="central" textLength="32.8" lengthAdjust="spacingAndGlyphs" >Cu foil</text>
<line x1="299.4" y1="197" x2="299.4" y2="314.5" stroke="#d42020" stroke-width="1.4" stroke-dasharray="4.5 3"/>
<text transform="translate(292.3,310) rotate(-90)" font-size="11.5" fill="#d42020" text-anchor="start" dominant-baseline="central" textLength="18.7" lengthAdjust="spacingAndGlyphs" >Coil</text>
<line x1="449.2" y1="182.3" x2="449.2" y2="313.7" stroke="#c6c6c6" stroke-width="1.5"/>
<line x1="448.7" y1="313.2" x2="577" y2="313.2" stroke="#c8c8c8" stroke-width="1.2"/>
<line x1="447.4" y1="184.9" x2="449.2" y2="184.9" stroke="#c6c6c6" stroke-width="0.8"/>
<text transform="translate(447.4,184.6) scale(0.88,1)" font-size="9" fill="#111" text-anchor="end" dominant-baseline="central" stroke="#111" stroke-width="0.2">1,5</text>
<line x1="447.4" y1="206.28" x2="449.2" y2="206.28" stroke="#c6c6c6" stroke-width="0.8"/>
<text transform="translate(447.4,205.98) scale(0.88,1)" font-size="9" fill="#111" text-anchor="end" dominant-baseline="central" stroke="#111" stroke-width="0.2">1,0</text>
<line x1="447.4" y1="227.67" x2="449.2" y2="227.67" stroke="#c6c6c6" stroke-width="0.8"/>
<text transform="translate(447.4,227.37) scale(0.88,1)" font-size="9" fill="#111" text-anchor="end" dominant-baseline="central" stroke="#111" stroke-width="0.2">0,5</text>
<line x1="447.4" y1="249.05" x2="449.2" y2="249.05" stroke="#c6c6c6" stroke-width="0.8"/>
<text transform="translate(447.4,248.75) scale(0.88,1)" font-size="9" fill="#111" text-anchor="end" dominant-baseline="central" stroke="#111" stroke-width="0.2">0,0</text>
<line x1="447.4" y1="270.43" x2="449.2" y2="270.43" stroke="#c6c6c6" stroke-width="0.8"/>
<text transform="translate(447.4,270.13) scale(0.88,1)" font-size="9" fill="#111" text-anchor="end" dominant-baseline="central" stroke="#111" stroke-width="0.2">-0,5</text>
<line x1="447.4" y1="291.82" x2="449.2" y2="291.82" stroke="#c6c6c6" stroke-width="0.8"/>
<text transform="translate(447.4,291.52) scale(0.88,1)" font-size="9" fill="#111" text-anchor="end" dominant-baseline="central" stroke="#111" stroke-width="0.2">-1,0</text>
<line x1="447.4" y1="313.2" x2="449.2" y2="313.2" stroke="#c6c6c6" stroke-width="0.8"/>
<text transform="translate(447.4,312.9) scale(0.88,1)" font-size="9" fill="#111" text-anchor="end" dominant-baseline="central" stroke="#111" stroke-width="0.2">-1,5</text>
<line x1="449.2" y1="313.2" x2="449.2" y2="315" stroke="#c8c8c8" stroke-width="0.8"/>
<text transform="translate(449.4,319) scale(0.88,1)" font-size="9" fill="#111" text-anchor="middle" dominant-baseline="central" stroke="#111" stroke-width="0.2">-1,5</text>
<line x1="470.5" y1="313.2" x2="470.5" y2="315" stroke="#c8c8c8" stroke-width="0.8"/>
<text transform="translate(470.7,319) scale(0.88,1)" font-size="9" fill="#111" text-anchor="middle" dominant-baseline="central" stroke="#111" stroke-width="0.2">-1,0</text>
<line x1="491.8" y1="313.2" x2="491.8" y2="315" stroke="#c8c8c8" stroke-width="0.8"/>
<text transform="translate(492,319) scale(0.88,1)" font-size="9" fill="#111" text-anchor="middle" dominant-baseline="central" stroke="#111" stroke-width="0.2">-0,5</text>
<line x1="513.1" y1="313.2" x2="513.1" y2="315" stroke="#c8c8c8" stroke-width="0.8"/>
<text transform="translate(513.3,319) scale(0.88,1)" font-size="9" fill="#111" text-anchor="middle" dominant-baseline="central" stroke="#111" stroke-width="0.2">0,0</text>
<line x1="534.4" y1="313.2" x2="534.4" y2="315" stroke="#c8c8c8" stroke-width="0.8"/>
<text transform="translate(534.6,319) scale(0.88,1)" font-size="9" fill="#111" text-anchor="middle" dominant-baseline="central" stroke="#111" stroke-width="0.2">0,5</text>
<line x1="555.7" y1="313.2" x2="555.7" y2="315" stroke="#c8c8c8" stroke-width="0.8"/>
<text transform="translate(555.9,319) scale(0.88,1)" font-size="9" fill="#111" text-anchor="middle" dominant-baseline="central" stroke="#111" stroke-width="0.2">1,0</text>
<line x1="577" y1="313.2" x2="577" y2="315" stroke="#c8c8c8" stroke-width="0.8"/>
<text transform="translate(577.2,319) scale(0.88,1)" font-size="9" fill="#111" text-anchor="middle" dominant-baseline="central" stroke="#111" stroke-width="0.2">1,5</text>
<text x="487.4" y="185.3" font-size="11" fill="#222" text-anchor="start" dominant-baseline="central" textLength="85.5" lengthAdjust="spacingAndGlyphs" >Said view-w/o Bz</text>
<text x="484.3" y="328.6" font-size="8.7" fill="#111" text-anchor="start" dominant-baseline="central" >distance z , mm</text>
<text transform="translate(427.4,276) rotate(-90)" font-size="8.4" fill="#111" text-anchor="start" dominant-baseline="central" textLength="56.3" lengthAdjust="spacingAndGlyphs" >distance&#160; y, mm</text>
<text x="540.8" y="303.1" font-size="11" fill="#222" text-anchor="start" dominant-baseline="central" textLength="33.8" lengthAdjust="spacingAndGlyphs" >t= 5 ps</text>
<rect x="605.7" y="181.1" width="7.8" height="6.38" fill="#ff2200"/>
<rect x="605.7" y="187.18" width="7.8" height="6.38" fill="#ff4400"/>
<rect x="605.7" y="193.27" width="7.8" height="6.38" fill="#ff7700"/>
<rect x="605.7" y="199.35" width="7.8" height="6.38" fill="#ffaa00"/>
<rect x="605.7" y="205.44" width="7.8" height="6.38" fill="#ffff00"/>
<rect x="605.7" y="211.52" width="7.8" height="6.38" fill="#ccff00"/>
<rect x="605.7" y="217.6" width="7.8" height="6.38" fill="#99ff00"/>
<rect x="605.7" y="223.69" width="7.8" height="6.38" fill="#66ff00"/>
<rect x="605.7" y="229.77" width="7.8" height="6.38" fill="#33ff00"/>
<rect x="605.7" y="235.86" width="7.8" height="6.38" fill="#00ff00"/>
<rect x="605.7" y="241.94" width="7.8" height="6.38" fill="#00ff33"/>
<rect x="605.7" y="248.02" width="7.8" height="6.38" fill="#00ff66"/>
<rect x="605.7" y="254.11" width="7.8" height="6.38" fill="#00ff99"/>
<rect x="605.7" y="260.19" width="7.8" height="6.38" fill="#00ffcc"/>
<rect x="605.7" y="266.28" width="7.8" height="6.38" fill="#00ffff"/>
<rect x="605.7" y="272.36" width="7.8" height="6.38" fill="#00ccff"/>
<rect x="605.7" y="278.44" width="7.8" height="6.38" fill="#0099ff"/>
<rect x="605.7" y="284.53" width="7.8" height="6.38" fill="#0066ff"/>
<rect x="605.7" y="290.61" width="7.8" height="6.38" fill="#0033ff"/>
<rect x="605.7" y="296.7" width="7.8" height="6.38" fill="#0000ff"/>
<rect x="605.7" y="302.78" width="7.8" height="6.38" fill="#3300ff"/>
<rect x="605.7" y="308.86" width="7.8" height="6.38" fill="#6600ff"/>
<rect x="605.7" y="314.95" width="7.8" height="6.38" fill="#9900ff"/>
<rect x="605.7" y="321.03" width="7.8" height="6.38" fill="#cc00ff"/>
<rect x="605.7" y="327.12" width="7.8" height="6.38" fill="#ff00ff"/>
<text transform="translate(603.8,220.3) scale(0.88,1)" font-size="9" fill="#111" text-anchor="end" dominant-baseline="central" stroke="#111" stroke-width="0.2">10,0</text>
<text transform="translate(603.8,275.8) scale(0.88,1)" font-size="9" fill="#111" text-anchor="end" dominant-baseline="central" stroke="#111" stroke-width="0.2">1,0</text>
<text transform="translate(603.8,330.5) scale(0.88,1)" font-size="9" fill="#111" text-anchor="end" dominant-baseline="central" stroke="#111" stroke-width="0.2">0,1</text>
<line x1="603.5" y1="330.7" x2="605.7" y2="330.7" stroke="#6a7a9a" stroke-width="0.7" opacity="0.8"/>
<line x1="604.3" y1="314.23" x2="605.7" y2="314.23" stroke="#6a7a9a" stroke-width="0.7" opacity="0.8"/>
<line x1="604.3" y1="304.6" x2="605.7" y2="304.6" stroke="#6a7a9a" stroke-width="0.7" opacity="0.8"/>
<line x1="604.3" y1="297.77" x2="605.7" y2="297.77" stroke="#6a7a9a" stroke-width="0.7" opacity="0.8"/>
<line x1="604.3" y1="292.47" x2="605.7" y2="292.47" stroke="#6a7a9a" stroke-width="0.7" opacity="0.8"/>
<line x1="604.3" y1="288.14" x2="605.7" y2="288.14" stroke="#6a7a9a" stroke-width="0.7" opacity="0.8"/>
<line x1="604.3" y1="284.47" x2="605.7" y2="284.47" stroke="#6a7a9a" stroke-width="0.7" opacity="0.8"/>
<line x1="604.3" y1="281.3" x2="605.7" y2="281.3" stroke="#6a7a9a" stroke-width="0.7" opacity="0.8"/>
<line x1="604.3" y1="278.5" x2="605.7" y2="278.5" stroke="#6a7a9a" stroke-width="0.7" opacity="0.8"/>
<line x1="603.5" y1="276" x2="605.7" y2="276" stroke="#6a7a9a" stroke-width="0.7" opacity="0.8"/>
<line x1="604.3" y1="259.53" x2="605.7" y2="259.53" stroke="#6a7a9a" stroke-width="0.7" opacity="0.8"/>
<line x1="604.3" y1="249.9" x2="605.7" y2="249.9" stroke="#6a7a9a" stroke-width="0.7" opacity="0.8"/>
<line x1="604.3" y1="243.07" x2="605.7" y2="243.07" stroke="#6a7a9a" stroke-width="0.7" opacity="0.8"/>
<line x1="604.3" y1="237.77" x2="605.7" y2="237.77" stroke="#6a7a9a" stroke-width="0.7" opacity="0.8"/>
<line x1="604.3" y1="233.44" x2="605.7" y2="233.44" stroke="#6a7a9a" stroke-width="0.7" opacity="0.8"/>
<line x1="604.3" y1="229.77" x2="605.7" y2="229.77" stroke="#6a7a9a" stroke-width="0.7" opacity="0.8"/>
<line x1="604.3" y1="226.6" x2="605.7" y2="226.6" stroke="#6a7a9a" stroke-width="0.7" opacity="0.8"/>
<line x1="604.3" y1="223.8" x2="605.7" y2="223.8" stroke="#6a7a9a" stroke-width="0.7" opacity="0.8"/>
<line x1="603.5" y1="221.3" x2="605.7" y2="221.3" stroke="#6a7a9a" stroke-width="0.7" opacity="0.8"/>
<line x1="604.3" y1="204.83" x2="605.7" y2="204.83" stroke="#6a7a9a" stroke-width="0.7" opacity="0.8"/>
<line x1="604.3" y1="195.2" x2="605.7" y2="195.2" stroke="#6a7a9a" stroke-width="0.7" opacity="0.8"/>
<line x1="604.3" y1="188.37" x2="605.7" y2="188.37" stroke="#6a7a9a" stroke-width="0.7" opacity="0.8"/>
<line x1="604.3" y1="183.07" x2="605.7" y2="183.07" stroke="#6a7a9a" stroke-width="0.7" opacity="0.8"/>
<text transform="translate(583.5,306.8) rotate(-90)" font-size="8" fill="#111" dominant-baseline="central" textLength="97.4" lengthAdjust="spacingAndGlyphs">electron density ,10<tspan font-size="4.6" dy="-1.9">13</tspan><tspan dy="1.9"> 1/cm</tspan><tspan font-size="4.6" dy="-2.4">2</tspan></text>
<line x1="476" y1="197.2" x2="476" y2="313.2" stroke="#1a1a1a" stroke-width="1.7" stroke-dasharray="4.5 3"/>
<text transform="translate(467.3,310.5) rotate(-90)" font-size="11.3" fill="#2a2a2a" text-anchor="start" dominant-baseline="central" textLength="32" lengthAdjust="spacingAndGlyphs" >Cu foil</text>
<line x1="511.4" y1="197" x2="511.4" y2="313.2" stroke="#d42020" stroke-width="1.4" stroke-dasharray="4.5 3"/>
<text transform="translate(503.7,310) rotate(-90)" font-size="11.5" fill="#d42020" text-anchor="start" dominant-baseline="central" textLength="18.7" lengthAdjust="spacingAndGlyphs" >Coil</text>
<line x1="25.8" y1="361" x2="25.8" y2="499.3" stroke="#c6c6c6" stroke-width="1.5"/>
<line x1="25.3" y1="498.8" x2="150" y2="498.8" stroke="#c8c8c8" stroke-width="1.2"/>
<line x1="24" y1="363.6" x2="25.8" y2="363.6" stroke="#c6c6c6" stroke-width="0.8"/>
<text transform="translate(24,363.3) scale(0.88,1)" font-size="9" fill="#111" text-anchor="end" dominant-baseline="central" stroke="#111" stroke-width="0.2">1,5</text>
<line x1="24" y1="386.2" x2="25.8" y2="386.2" stroke="#c6c6c6" stroke-width="0.8"/>
<text transform="translate(24,385.9) scale(0.88,1)" font-size="9" fill="#111" text-anchor="end" dominant-baseline="central" stroke="#111" stroke-width="0.2">1,0</text>
<line x1="24" y1="408.8" x2="25.8" y2="408.8" stroke="#c6c6c6" stroke-width="0.8"/>
<text transform="translate(24,408.5) scale(0.88,1)" font-size="9" fill="#111" text-anchor="end" dominant-baseline="central" stroke="#111" stroke-width="0.2">0,5</text>
<line x1="24" y1="431.4" x2="25.8" y2="431.4" stroke="#c6c6c6" stroke-width="0.8"/>
<text transform="translate(24,431.1) scale(0.88,1)" font-size="9" fill="#111" text-anchor="end" dominant-baseline="central" stroke="#111" stroke-width="0.2">0,0</text>
<line x1="24" y1="454" x2="25.8" y2="454" stroke="#c6c6c6" stroke-width="0.8"/>
<text transform="translate(24,453.7) scale(0.88,1)" font-size="9" fill="#111" text-anchor="end" dominant-baseline="central" stroke="#111" stroke-width="0.2">-0,5</text>
<line x1="24" y1="476.6" x2="25.8" y2="476.6" stroke="#c6c6c6" stroke-width="0.8"/>
<text transform="translate(24,476.3) scale(0.88,1)" font-size="9" fill="#111" text-anchor="end" dominant-baseline="central" stroke="#111" stroke-width="0.2">-1,0</text>
<line x1="24" y1="499.2" x2="25.8" y2="499.2" stroke="#c6c6c6" stroke-width="0.8"/>
<text transform="translate(24,498.9) scale(0.88,1)" font-size="9" fill="#111" text-anchor="end" dominant-baseline="central" stroke="#111" stroke-width="0.2">-1,5</text>
<line x1="25.8" y1="498.8" x2="25.8" y2="500.6" stroke="#c8c8c8" stroke-width="0.8"/>
<text transform="translate(26,504.5) scale(0.88,1)" font-size="9" fill="#111" text-anchor="middle" dominant-baseline="central" stroke="#111" stroke-width="0.2">-1,5</text>
<line x1="46.5" y1="498.8" x2="46.5" y2="500.6" stroke="#c8c8c8" stroke-width="0.8"/>
<text transform="translate(46.7,504.5) scale(0.88,1)" font-size="9" fill="#111" text-anchor="middle" dominant-baseline="central" stroke="#111" stroke-width="0.2">-1,0</text>
<line x1="67.2" y1="498.8" x2="67.2" y2="500.6" stroke="#c8c8c8" stroke-width="0.8"/>
<text transform="translate(67.4,504.5) scale(0.88,1)" font-size="9" fill="#111" text-anchor="middle" dominant-baseline="central" stroke="#111" stroke-width="0.2">-0,5</text>
<line x1="87.9" y1="498.8" x2="87.9" y2="500.6" stroke="#c8c8c8" stroke-width="0.8"/>
<text transform="translate(88.1,504.5) scale(0.88,1)" font-size="9" fill="#111" text-anchor="middle" dominant-baseline="central" stroke="#111" stroke-width="0.2">0,0</text>
<line x1="108.6" y1="498.8" x2="108.6" y2="500.6" stroke="#c8c8c8" stroke-width="0.8"/>
<text transform="translate(108.8,504.5) scale(0.88,1)" font-size="9" fill="#111" text-anchor="middle" dominant-baseline="central" stroke="#111" stroke-width="0.2">0,5</text>
<line x1="129.3" y1="498.8" x2="129.3" y2="500.6" stroke="#c8c8c8" stroke-width="0.8"/>
<text transform="translate(129.5,504.5) scale(0.88,1)" font-size="9" fill="#111" text-anchor="middle" dominant-baseline="central" stroke="#111" stroke-width="0.2">1,0</text>
<line x1="150" y1="498.8" x2="150" y2="500.6" stroke="#c8c8c8" stroke-width="0.8"/>
<text transform="translate(150.2,504.5) scale(0.88,1)" font-size="9" fill="#111" text-anchor="middle" dominant-baseline="central" stroke="#111" stroke-width="0.2">1,5</text>
<text x="42.2" y="364.5" font-size="11" fill="#222" text-anchor="start" dominant-baseline="central" textLength="89.1" lengthAdjust="spacingAndGlyphs" >Front view-w/o Bz</text>
<text x="59.2" y="515.7" font-size="8.7" fill="#111" text-anchor="start" dominant-baseline="central" >distance x , mm</text>
<text transform="translate(3.5,458.9) rotate(-90)" font-size="8.4" fill="#111" text-anchor="start" dominant-baseline="central" textLength="59.2" lengthAdjust="spacingAndGlyphs" >distance y , mm</text>
<text x="113" y="488.4" font-size="11" fill="#222" text-anchor="start" dominant-baseline="central" textLength="34.4" lengthAdjust="spacingAndGlyphs" >t= 7 ps</text>
<rect x="186.8" y="360.1" width="8.4" height="6.7" fill="#ff2200"/>
<rect x="186.8" y="366.5" width="8.4" height="6.7" fill="#ff4400"/>
<rect x="186.8" y="372.91" width="8.4" height="6.7" fill="#ff7700"/>
<rect x="186.8" y="379.31" width="8.4" height="6.7" fill="#ffaa00"/>
<rect x="186.8" y="385.72" width="8.4" height="6.7" fill="#ffff00"/>
<rect x="186.8" y="392.12" width="8.4" height="6.7" fill="#ccff00"/>
<rect x="186.8" y="398.52" width="8.4" height="6.7" fill="#99ff00"/>
<rect x="186.8" y="404.93" width="8.4" height="6.7" fill="#66ff00"/>
<rect x="186.8" y="411.33" width="8.4" height="6.7" fill="#33ff00"/>
<rect x="186.8" y="417.74" width="8.4" height="6.7" fill="#00ff00"/>
<rect x="186.8" y="424.14" width="8.4" height="6.7" fill="#00ff33"/>
<rect x="186.8" y="430.54" width="8.4" height="6.7" fill="#00ff66"/>
<rect x="186.8" y="436.95" width="8.4" height="6.7" fill="#00ff99"/>
<rect x="186.8" y="443.35" width="8.4" height="6.7" fill="#00ffcc"/>
<rect x="186.8" y="449.76" width="8.4" height="6.7" fill="#00ffff"/>
<rect x="186.8" y="456.16" width="8.4" height="6.7" fill="#00ccff"/>
<rect x="186.8" y="462.56" width="8.4" height="6.7" fill="#0099ff"/>
<rect x="186.8" y="468.97" width="8.4" height="6.7" fill="#0066ff"/>
<rect x="186.8" y="475.37" width="8.4" height="6.7" fill="#0033ff"/>
<rect x="186.8" y="481.78" width="8.4" height="6.7" fill="#0000ff"/>
<rect x="186.8" y="488.18" width="8.4" height="6.7" fill="#3300ff"/>
<rect x="186.8" y="494.58" width="8.4" height="6.7" fill="#6600ff"/>
<rect x="186.8" y="500.99" width="8.4" height="6.7" fill="#9900ff"/>
<rect x="186.8" y="507.39" width="8.4" height="6.7" fill="#cc00ff"/>
<rect x="186.8" y="513.8" width="8.4" height="6.7" fill="#ff00ff"/>
<text transform="translate(184.3,363.6) scale(0.88,1)" font-size="9" fill="#111" text-anchor="end" dominant-baseline="central" stroke="#111" stroke-width="0.2">100,0</text>
<text transform="translate(184.3,414.7) scale(0.88,1)" font-size="9" fill="#111" text-anchor="end" dominant-baseline="central" stroke="#111" stroke-width="0.2">10,0</text>
<text transform="translate(184.3,466.8) scale(0.88,1)" font-size="9" fill="#111" text-anchor="end" dominant-baseline="central" stroke="#111" stroke-width="0.2">1,0</text>
<text transform="translate(184.3,516.8) scale(0.88,1)" font-size="9" fill="#111" text-anchor="end" dominant-baseline="central" stroke="#111" stroke-width="0.2">0,1</text>
<line x1="184.6" y1="517" x2="186.8" y2="517" stroke="#6a7a9a" stroke-width="0.7" opacity="0.8"/>
<line x1="185.4" y1="501.95" x2="186.8" y2="501.95" stroke="#6a7a9a" stroke-width="0.7" opacity="0.8"/>
<line x1="185.4" y1="493.14" x2="186.8" y2="493.14" stroke="#6a7a9a" stroke-width="0.7" opacity="0.8"/>
<line x1="185.4" y1="486.9" x2="186.8" y2="486.9" stroke="#6a7a9a" stroke-width="0.7" opacity="0.8"/>
<line x1="185.4" y1="482.05" x2="186.8" y2="482.05" stroke="#6a7a9a" stroke-width="0.7" opacity="0.8"/>
<line x1="185.4" y1="478.09" x2="186.8" y2="478.09" stroke="#6a7a9a" stroke-width="0.7" opacity="0.8"/>
<line x1="185.4" y1="474.75" x2="186.8" y2="474.75" stroke="#6a7a9a" stroke-width="0.7" opacity="0.8"/>
<line x1="185.4" y1="471.85" x2="186.8" y2="471.85" stroke="#6a7a9a" stroke-width="0.7" opacity="0.8"/>
<line x1="185.4" y1="469.29" x2="186.8" y2="469.29" stroke="#6a7a9a" stroke-width="0.7" opacity="0.8"/>
<line x1="184.6" y1="467" x2="186.8" y2="467" stroke="#6a7a9a" stroke-width="0.7" opacity="0.8"/>
<line x1="185.4" y1="451.95" x2="186.8" y2="451.95" stroke="#6a7a9a" stroke-width="0.7" opacity="0.8"/>
<line x1="185.4" y1="443.14" x2="186.8" y2="443.14" stroke="#6a7a9a" stroke-width="0.7" opacity="0.8"/>
<line x1="185.4" y1="436.9" x2="186.8" y2="436.9" stroke="#6a7a9a" stroke-width="0.7" opacity="0.8"/>
<line x1="185.4" y1="432.05" x2="186.8" y2="432.05" stroke="#6a7a9a" stroke-width="0.7" opacity="0.8"/>
<line x1="185.4" y1="428.09" x2="186.8" y2="428.09" stroke="#6a7a9a" stroke-width="0.7" opacity="0.8"/>
<line x1="185.4" y1="424.75" x2="186.8" y2="424.75" stroke="#6a7a9a" stroke-width="0.7" opacity="0.8"/>
<line x1="185.4" y1="421.85" x2="186.8" y2="421.85" stroke="#6a7a9a" stroke-width="0.7" opacity="0.8"/>
<line x1="185.4" y1="419.29" x2="186.8" y2="419.29" stroke="#6a7a9a" stroke-width="0.7" opacity="0.8"/>
<line x1="184.6" y1="417" x2="186.8" y2="417" stroke="#6a7a9a" stroke-width="0.7" opacity="0.8"/>
<line x1="185.4" y1="401.95" x2="186.8" y2="401.95" stroke="#6a7a9a" stroke-width="0.7" opacity="0.8"/>
<line x1="185.4" y1="393.14" x2="186.8" y2="393.14" stroke="#6a7a9a" stroke-width="0.7" opacity="0.8"/>
<line x1="185.4" y1="386.9" x2="186.8" y2="386.9" stroke="#6a7a9a" stroke-width="0.7" opacity="0.8"/>
<line x1="185.4" y1="382.05" x2="186.8" y2="382.05" stroke="#6a7a9a" stroke-width="0.7" opacity="0.8"/>
<line x1="185.4" y1="378.09" x2="186.8" y2="378.09" stroke="#6a7a9a" stroke-width="0.7" opacity="0.8"/>
<line x1="185.4" y1="374.75" x2="186.8" y2="374.75" stroke="#6a7a9a" stroke-width="0.7" opacity="0.8"/>
<line x1="185.4" y1="371.85" x2="186.8" y2="371.85" stroke="#6a7a9a" stroke-width="0.7" opacity="0.8"/>
<line x1="185.4" y1="369.29" x2="186.8" y2="369.29" stroke="#6a7a9a" stroke-width="0.7" opacity="0.8"/>
<line x1="184.6" y1="367" x2="186.8" y2="367" stroke="#6a7a9a" stroke-width="0.7" opacity="0.8"/>
<text transform="translate(157.9,491) rotate(-90)" font-size="8" fill="#111" dominant-baseline="central" textLength="100.4" lengthAdjust="spacingAndGlyphs">electron density ,10<tspan font-size="4.6" dy="-1.9">13</tspan><tspan dy="1.9"> 1/cm</tspan><tspan font-size="4.6" dy="-2.4">2</tspan></text>
<line x1="237" y1="364.9" x2="237" y2="499.9" stroke="#c6c6c6" stroke-width="1.5"/>
<line x1="236.5" y1="499.4" x2="364.7" y2="499.4" stroke="#c8c8c8" stroke-width="1.2"/>
<line x1="235.2" y1="367.5" x2="237" y2="367.5" stroke="#c6c6c6" stroke-width="0.8"/>
<text transform="translate(235.2,367.2) scale(0.88,1)" font-size="9" fill="#111" text-anchor="end" dominant-baseline="central" stroke="#111" stroke-width="0.2">1,5</text>
<line x1="235.2" y1="389.48" x2="237" y2="389.48" stroke="#c6c6c6" stroke-width="0.8"/>
<text transform="translate(235.2,389.18) scale(0.88,1)" font-size="9" fill="#111" text-anchor="end" dominant-baseline="central" stroke="#111" stroke-width="0.2">1,0</text>
<line x1="235.2" y1="411.47" x2="237" y2="411.47" stroke="#c6c6c6" stroke-width="0.8"/>
<text transform="translate(235.2,411.17) scale(0.88,1)" font-size="9" fill="#111" text-anchor="end" dominant-baseline="central" stroke="#111" stroke-width="0.2">0,5</text>
<line x1="235.2" y1="433.45" x2="237" y2="433.45" stroke="#c6c6c6" stroke-width="0.8"/>
<text transform="translate(235.2,433.15) scale(0.88,1)" font-size="9" fill="#111" text-anchor="end" dominant-baseline="central" stroke="#111" stroke-width="0.2">0,0</text>
<line x1="235.2" y1="455.43" x2="237" y2="455.43" stroke="#c6c6c6" stroke-width="0.8"/>
<text transform="translate(235.2,455.13) scale(0.88,1)" font-size="9" fill="#111" text-anchor="end" dominant-baseline="central" stroke="#111" stroke-width="0.2">-0,5</text>
<line x1="235.2" y1="477.42" x2="237" y2="477.42" stroke="#c6c6c6" stroke-width="0.8"/>
<text transform="translate(235.2,477.12) scale(0.88,1)" font-size="9" fill="#111" text-anchor="end" dominant-baseline="central" stroke="#111" stroke-width="0.2">-1,0</text>
<line x1="235.2" y1="499.4" x2="237" y2="499.4" stroke="#c6c6c6" stroke-width="0.8"/>
<text transform="translate(235.2,499.1) scale(0.88,1)" font-size="9" fill="#111" text-anchor="end" dominant-baseline="central" stroke="#111" stroke-width="0.2">-1,5</text>
<line x1="237" y1="499.4" x2="237" y2="501.2" stroke="#c8c8c8" stroke-width="0.8"/>
<text transform="translate(237.2,505.1) scale(0.88,1)" font-size="9" fill="#111" text-anchor="middle" dominant-baseline="central" stroke="#111" stroke-width="0.2">-1,5</text>
<line x1="258.28" y1="499.4" x2="258.28" y2="501.2" stroke="#c8c8c8" stroke-width="0.8"/>
<text transform="translate(258.48,505.1) scale(0.88,1)" font-size="9" fill="#111" text-anchor="middle" dominant-baseline="central" stroke="#111" stroke-width="0.2">-1,0</text>
<line x1="279.57" y1="499.4" x2="279.57" y2="501.2" stroke="#c8c8c8" stroke-width="0.8"/>
<text transform="translate(279.77,505.1) scale(0.88,1)" font-size="9" fill="#111" text-anchor="middle" dominant-baseline="central" stroke="#111" stroke-width="0.2">-0,5</text>
<line x1="300.85" y1="499.4" x2="300.85" y2="501.2" stroke="#c8c8c8" stroke-width="0.8"/>
<text transform="translate(301.05,505.1) scale(0.88,1)" font-size="9" fill="#111" text-anchor="middle" dominant-baseline="central" stroke="#111" stroke-width="0.2">0,0</text>
<line x1="322.13" y1="499.4" x2="322.13" y2="501.2" stroke="#c8c8c8" stroke-width="0.8"/>
<text transform="translate(322.33,505.1) scale(0.88,1)" font-size="9" fill="#111" text-anchor="middle" dominant-baseline="central" stroke="#111" stroke-width="0.2">0,5</text>
<line x1="343.42" y1="499.4" x2="343.42" y2="501.2" stroke="#c8c8c8" stroke-width="0.8"/>
<text transform="translate(343.62,505.1) scale(0.88,1)" font-size="9" fill="#111" text-anchor="middle" dominant-baseline="central" stroke="#111" stroke-width="0.2">1,0</text>
<line x1="364.7" y1="499.4" x2="364.7" y2="501.2" stroke="#c8c8c8" stroke-width="0.8"/>
<text transform="translate(364.9,505.1) scale(0.88,1)" font-size="9" fill="#111" text-anchor="middle" dominant-baseline="central" stroke="#111" stroke-width="0.2">1,5</text>
<text x="273.3" y="364" font-size="11" fill="#222" text-anchor="start" dominant-baseline="central" textLength="79.7" lengthAdjust="spacingAndGlyphs" >Top view-w/o Bz</text>
<text x="272" y="515.9" font-size="8.7" fill="#111" text-anchor="start" dominant-baseline="central" >distance z , mm</text>
<text transform="translate(216,460.3) rotate(-90)" font-size="8.4" fill="#111" text-anchor="start" dominant-baseline="central" textLength="56.3" lengthAdjust="spacingAndGlyphs" >distance&#160; y, mm</text>
<text x="326.2" y="491" font-size="11" fill="#222" text-anchor="start" dominant-baseline="central" textLength="33.3" lengthAdjust="spacingAndGlyphs" >t= 7 ps</text>
<rect x="393.4" y="364.6" width="8.4" height="6.52" fill="#ff2200"/>
<rect x="393.4" y="370.82" width="8.4" height="6.52" fill="#ff4400"/>
<rect x="393.4" y="377.05" width="8.4" height="6.52" fill="#ff7700"/>
<rect x="393.4" y="383.27" width="8.4" height="6.52" fill="#ffaa00"/>
<rect x="393.4" y="389.5" width="8.4" height="6.52" fill="#ffff00"/>
<rect x="393.4" y="395.72" width="8.4" height="6.52" fill="#ccff00"/>
<rect x="393.4" y="401.94" width="8.4" height="6.52" fill="#99ff00"/>
<rect x="393.4" y="408.17" width="8.4" height="6.52" fill="#66ff00"/>
<rect x="393.4" y="414.39" width="8.4" height="6.52" fill="#33ff00"/>
<rect x="393.4" y="420.62" width="8.4" height="6.52" fill="#00ff00"/>
<rect x="393.4" y="426.84" width="8.4" height="6.52" fill="#00ff33"/>
<rect x="393.4" y="433.06" width="8.4" height="6.52" fill="#00ff66"/>
<rect x="393.4" y="439.29" width="8.4" height="6.52" fill="#00ff99"/>
<rect x="393.4" y="445.51" width="8.4" height="6.52" fill="#00ffcc"/>
<rect x="393.4" y="451.74" width="8.4" height="6.52" fill="#00ffff"/>
<rect x="393.4" y="457.96" width="8.4" height="6.52" fill="#00ccff"/>
<rect x="393.4" y="464.18" width="8.4" height="6.52" fill="#0099ff"/>
<rect x="393.4" y="470.41" width="8.4" height="6.52" fill="#0066ff"/>
<rect x="393.4" y="476.63" width="8.4" height="6.52" fill="#0033ff"/>
<rect x="393.4" y="482.86" width="8.4" height="6.52" fill="#0000ff"/>
<rect x="393.4" y="489.08" width="8.4" height="6.52" fill="#3300ff"/>
<rect x="393.4" y="495.3" width="8.4" height="6.52" fill="#6600ff"/>
<rect x="393.4" y="501.53" width="8.4" height="6.52" fill="#9900ff"/>
<rect x="393.4" y="507.75" width="8.4" height="6.52" fill="#cc00ff"/>
<rect x="393.4" y="513.98" width="8.4" height="6.52" fill="#ff00ff"/>
<text transform="translate(391.7,404.2) scale(0.88,1)" font-size="9" fill="#111" text-anchor="end" dominant-baseline="central" stroke="#111" stroke-width="0.2">10,0</text>
<text transform="translate(391.7,460) scale(0.88,1)" font-size="9" fill="#111" text-anchor="end" dominant-baseline="central" stroke="#111" stroke-width="0.2">1,0</text>
<text transform="translate(391.7,516.8) scale(0.88,1)" font-size="9" fill="#111" text-anchor="end" dominant-baseline="central" stroke="#111" stroke-width="0.2">0,1</text>
<line x1="391.2" y1="517" x2="393.4" y2="517" stroke="#6a7a9a" stroke-width="0.7" opacity="0.8"/>
<line x1="392" y1="499.9" x2="393.4" y2="499.9" stroke="#6a7a9a" stroke-width="0.7" opacity="0.8"/>
<line x1="392" y1="489.9" x2="393.4" y2="489.9" stroke="#6a7a9a" stroke-width="0.7" opacity="0.8"/>
<line x1="392" y1="482.8" x2="393.4" y2="482.8" stroke="#6a7a9a" stroke-width="0.7" opacity="0.8"/>
<line x1="392" y1="477.3" x2="393.4" y2="477.3" stroke="#6a7a9a" stroke-width="0.7" opacity="0.8"/>
<line x1="392" y1="472.8" x2="393.4" y2="472.8" stroke="#6a7a9a" stroke-width="0.7" opacity="0.8"/>
<line x1="392" y1="469" x2="393.4" y2="469" stroke="#6a7a9a" stroke-width="0.7" opacity="0.8"/>
<line x1="392" y1="465.7" x2="393.4" y2="465.7" stroke="#6a7a9a" stroke-width="0.7" opacity="0.8"/>
<line x1="392" y1="462.8" x2="393.4" y2="462.8" stroke="#6a7a9a" stroke-width="0.7" opacity="0.8"/>
<line x1="391.2" y1="460.2" x2="393.4" y2="460.2" stroke="#6a7a9a" stroke-width="0.7" opacity="0.8"/>
<line x1="392" y1="443.1" x2="393.4" y2="443.1" stroke="#6a7a9a" stroke-width="0.7" opacity="0.8"/>
<line x1="392" y1="433.1" x2="393.4" y2="433.1" stroke="#6a7a9a" stroke-width="0.7" opacity="0.8"/>
<line x1="392" y1="426" x2="393.4" y2="426" stroke="#6a7a9a" stroke-width="0.7" opacity="0.8"/>
<line x1="392" y1="420.5" x2="393.4" y2="420.5" stroke="#6a7a9a" stroke-width="0.7" opacity="0.8"/>
<line x1="392" y1="416" x2="393.4" y2="416" stroke="#6a7a9a" stroke-width="0.7" opacity="0.8"/>
<line x1="392" y1="412.2" x2="393.4" y2="412.2" stroke="#6a7a9a" stroke-width="0.7" opacity="0.8"/>
<line x1="392" y1="408.9" x2="393.4" y2="408.9" stroke="#6a7a9a" stroke-width="0.7" opacity="0.8"/>
<line x1="392" y1="406" x2="393.4" y2="406" stroke="#6a7a9a" stroke-width="0.7" opacity="0.8"/>
<line x1="391.2" y1="403.4" x2="393.4" y2="403.4" stroke="#6a7a9a" stroke-width="0.7" opacity="0.8"/>
<line x1="392" y1="386.3" x2="393.4" y2="386.3" stroke="#6a7a9a" stroke-width="0.7" opacity="0.8"/>
<line x1="392" y1="376.3" x2="393.4" y2="376.3" stroke="#6a7a9a" stroke-width="0.7" opacity="0.8"/>
<line x1="392" y1="369.2" x2="393.4" y2="369.2" stroke="#6a7a9a" stroke-width="0.7" opacity="0.8"/>
<text transform="translate(370.5,492.3) rotate(-90)" font-size="8" fill="#111" dominant-baseline="central" textLength="99.1" lengthAdjust="spacingAndGlyphs">electron density ,10<tspan font-size="4.6" dy="-1.9">13</tspan><tspan dy="1.9"> 1/cm</tspan><tspan font-size="4.6" dy="-2.4">2</tspan></text>
<line x1="264.9" y1="383.5" x2="264.9" y2="499.4" stroke="#1a1a1a" stroke-width="1.4" stroke-dasharray="4.5 3"/>
<text transform="translate(256.3,497.3) rotate(-90)" font-size="11.3" fill="#2a2a2a" text-anchor="start" dominant-baseline="central" textLength="31.6" lengthAdjust="spacingAndGlyphs" >Cu foil</text>
<line x1="300.5" y1="383.2" x2="300.5" y2="499.4" stroke="#d42020" stroke-width="1.4" stroke-dasharray="4.5 3"/>
<text transform="translate(293,495.7) rotate(-90)" font-size="11.5" fill="#d42020" text-anchor="start" dominant-baseline="central" textLength="18.7" lengthAdjust="spacingAndGlyphs" >Coil</text>
<line x1="450.2" y1="365.6" x2="450.2" y2="499.9" stroke="#c6c6c6" stroke-width="1.5"/>
<line x1="449.7" y1="499.4" x2="578.2" y2="499.4" stroke="#c8c8c8" stroke-width="1.2"/>
<line x1="448.4" y1="368.2" x2="450.2" y2="368.2" stroke="#c6c6c6" stroke-width="0.8"/>
<text transform="translate(448.4,367.9) scale(0.88,1)" font-size="9" fill="#111" text-anchor="end" dominant-baseline="central" stroke="#111" stroke-width="0.2">1,5</text>
<line x1="448.4" y1="390.07" x2="450.2" y2="390.07" stroke="#c6c6c6" stroke-width="0.8"/>
<text transform="translate(448.4,389.77) scale(0.88,1)" font-size="9" fill="#111" text-anchor="end" dominant-baseline="central" stroke="#111" stroke-width="0.2">1,0</text>
<line x1="448.4" y1="411.93" x2="450.2" y2="411.93" stroke="#c6c6c6" stroke-width="0.8"/>
<text transform="translate(448.4,411.63) scale(0.88,1)" font-size="9" fill="#111" text-anchor="end" dominant-baseline="central" stroke="#111" stroke-width="0.2">0,5</text>
<line x1="448.4" y1="433.8" x2="450.2" y2="433.8" stroke="#c6c6c6" stroke-width="0.8"/>
<text transform="translate(448.4,433.5) scale(0.88,1)" font-size="9" fill="#111" text-anchor="end" dominant-baseline="central" stroke="#111" stroke-width="0.2">0,0</text>
<line x1="448.4" y1="455.67" x2="450.2" y2="455.67" stroke="#c6c6c6" stroke-width="0.8"/>
<text transform="translate(448.4,455.37) scale(0.88,1)" font-size="9" fill="#111" text-anchor="end" dominant-baseline="central" stroke="#111" stroke-width="0.2">-0,5</text>
<line x1="448.4" y1="477.53" x2="450.2" y2="477.53" stroke="#c6c6c6" stroke-width="0.8"/>
<text transform="translate(448.4,477.23) scale(0.88,1)" font-size="9" fill="#111" text-anchor="end" dominant-baseline="central" stroke="#111" stroke-width="0.2">-1,0</text>
<line x1="448.4" y1="499.4" x2="450.2" y2="499.4" stroke="#c6c6c6" stroke-width="0.8"/>
<text transform="translate(448.4,499.1) scale(0.88,1)" font-size="9" fill="#111" text-anchor="end" dominant-baseline="central" stroke="#111" stroke-width="0.2">-1,5</text>
<line x1="450.2" y1="499.4" x2="450.2" y2="501.2" stroke="#c8c8c8" stroke-width="0.8"/>
<text transform="translate(450.4,505.5) scale(0.88,1)" font-size="9" fill="#111" text-anchor="middle" dominant-baseline="central" stroke="#111" stroke-width="0.2">-1,5</text>
<line x1="471.53" y1="499.4" x2="471.53" y2="501.2" stroke="#c8c8c8" stroke-width="0.8"/>
<text transform="translate(471.73,505.5) scale(0.88,1)" font-size="9" fill="#111" text-anchor="middle" dominant-baseline="central" stroke="#111" stroke-width="0.2">-1,0</text>
<line x1="492.87" y1="499.4" x2="492.87" y2="501.2" stroke="#c8c8c8" stroke-width="0.8"/>
<text transform="translate(493.07,505.5) scale(0.88,1)" font-size="9" fill="#111" text-anchor="middle" dominant-baseline="central" stroke="#111" stroke-width="0.2">-0,5</text>
<line x1="514.2" y1="499.4" x2="514.2" y2="501.2" stroke="#c8c8c8" stroke-width="0.8"/>
<text transform="translate(514.4,505.5) scale(0.88,1)" font-size="9" fill="#111" text-anchor="middle" dominant-baseline="central" stroke="#111" stroke-width="0.2">0,0</text>
<line x1="535.53" y1="499.4" x2="535.53" y2="501.2" stroke="#c8c8c8" stroke-width="0.8"/>
<text transform="translate(535.73,505.5) scale(0.88,1)" font-size="9" fill="#111" text-anchor="middle" dominant-baseline="central" stroke="#111" stroke-width="0.2">0,5</text>
<line x1="556.87" y1="499.4" x2="556.87" y2="501.2" stroke="#c8c8c8" stroke-width="0.8"/>
<text transform="translate(557.07,505.5) scale(0.88,1)" font-size="9" fill="#111" text-anchor="middle" dominant-baseline="central" stroke="#111" stroke-width="0.2">1,0</text>
<line x1="578.2" y1="499.4" x2="578.2" y2="501.2" stroke="#c8c8c8" stroke-width="0.8"/>
<text transform="translate(578.4,505.5) scale(0.88,1)" font-size="9" fill="#111" text-anchor="middle" dominant-baseline="central" stroke="#111" stroke-width="0.2">1,5</text>
<text x="481" y="365.3" font-size="11" fill="#222" text-anchor="start" dominant-baseline="central" textLength="85" lengthAdjust="spacingAndGlyphs" >Said view-w/o Bz</text>
<text x="485.1" y="515.9" font-size="8.7" fill="#111" text-anchor="start" dominant-baseline="central" >distance z , mm</text>
<text transform="translate(429.1,461) rotate(-90)" font-size="8.4" fill="#111" text-anchor="start" dominant-baseline="central" textLength="57" lengthAdjust="spacingAndGlyphs" >distance&#160; x, mm</text>
<text x="537.3" y="489.5" font-size="11" fill="#222" text-anchor="start" dominant-baseline="central" textLength="33.9" lengthAdjust="spacingAndGlyphs" >t= 7 ps</text>
<rect x="607.1" y="364.5" width="8.3" height="6.55" fill="#ff2200"/>
<rect x="607.1" y="370.75" width="8.3" height="6.55" fill="#ff4400"/>
<rect x="607.1" y="377" width="8.3" height="6.55" fill="#ff7700"/>
<rect x="607.1" y="383.24" width="8.3" height="6.55" fill="#ffaa00"/>
<rect x="607.1" y="389.49" width="8.3" height="6.55" fill="#ffff00"/>
<rect x="607.1" y="395.74" width="8.3" height="6.55" fill="#ccff00"/>
<rect x="607.1" y="401.99" width="8.3" height="6.55" fill="#99ff00"/>
<rect x="607.1" y="408.24" width="8.3" height="6.55" fill="#66ff00"/>
<rect x="607.1" y="414.48" width="8.3" height="6.55" fill="#33ff00"/>
<rect x="607.1" y="420.73" width="8.3" height="6.55" fill="#00ff00"/>
<rect x="607.1" y="426.98" width="8.3" height="6.55" fill="#00ff33"/>
<rect x="607.1" y="433.23" width="8.3" height="6.55" fill="#00ff66"/>
<rect x="607.1" y="439.48" width="8.3" height="6.55" fill="#00ff99"/>
<rect x="607.1" y="445.72" width="8.3" height="6.55" fill="#00ffcc"/>
<rect x="607.1" y="451.97" width="8.3" height="6.55" fill="#00ffff"/>
<rect x="607.1" y="458.22" width="8.3" height="6.55" fill="#00ccff"/>
<rect x="607.1" y="464.47" width="8.3" height="6.55" fill="#0099ff"/>
<rect x="607.1" y="470.72" width="8.3" height="6.55" fill="#0066ff"/>
<rect x="607.1" y="476.96" width="8.3" height="6.55" fill="#0033ff"/>
<rect x="607.1" y="483.21" width="8.3" height="6.55" fill="#0000ff"/>
<rect x="607.1" y="489.46" width="8.3" height="6.55" fill="#3300ff"/>
<rect x="607.1" y="495.71" width="8.3" height="6.55" fill="#6600ff"/>
<rect x="607.1" y="501.96" width="8.3" height="6.55" fill="#9900ff"/>
<rect x="607.1" y="508.2" width="8.3" height="6.55" fill="#cc00ff"/>
<rect x="607.1" y="514.45" width="8.3" height="6.55" fill="#ff00ff"/>
<text transform="translate(605.1,404.2) scale(0.88,1)" font-size="9" fill="#111" text-anchor="end" dominant-baseline="central" stroke="#111" stroke-width="0.2">10,0</text>
<text transform="translate(605.1,460.7) scale(0.88,1)" font-size="9" fill="#111" text-anchor="end" dominant-baseline="central" stroke="#111" stroke-width="0.2">1,0</text>
<text transform="translate(605.1,517.2) scale(0.88,1)" font-size="9" fill="#111" text-anchor="end" dominant-baseline="central" stroke="#111" stroke-width="0.2">0,1</text>
<line x1="604.9" y1="517.4" x2="607.1" y2="517.4" stroke="#6a7a9a" stroke-width="0.7" opacity="0.8"/>
<line x1="605.7" y1="500.39" x2="607.1" y2="500.39" stroke="#6a7a9a" stroke-width="0.7" opacity="0.8"/>
<line x1="605.7" y1="490.44" x2="607.1" y2="490.44" stroke="#6a7a9a" stroke-width="0.7" opacity="0.8"/>
<line x1="605.7" y1="483.38" x2="607.1" y2="483.38" stroke="#6a7a9a" stroke-width="0.7" opacity="0.8"/>
<line x1="605.7" y1="477.91" x2="607.1" y2="477.91" stroke="#6a7a9a" stroke-width="0.7" opacity="0.8"/>
<line x1="605.7" y1="473.43" x2="607.1" y2="473.43" stroke="#6a7a9a" stroke-width="0.7" opacity="0.8"/>
<line x1="605.7" y1="469.65" x2="607.1" y2="469.65" stroke="#6a7a9a" stroke-width="0.7" opacity="0.8"/>
<line x1="605.7" y1="466.38" x2="607.1" y2="466.38" stroke="#6a7a9a" stroke-width="0.7" opacity="0.8"/>
<line x1="605.7" y1="463.49" x2="607.1" y2="463.49" stroke="#6a7a9a" stroke-width="0.7" opacity="0.8"/>
<line x1="604.9" y1="460.9" x2="607.1" y2="460.9" stroke="#6a7a9a" stroke-width="0.7" opacity="0.8"/>
<line x1="605.7" y1="443.89" x2="607.1" y2="443.89" stroke="#6a7a9a" stroke-width="0.7" opacity="0.8"/>
<line x1="605.7" y1="433.94" x2="607.1" y2="433.94" stroke="#6a7a9a" stroke-width="0.7" opacity="0.8"/>
<line x1="605.7" y1="426.88" x2="607.1" y2="426.88" stroke="#6a7a9a" stroke-width="0.7" opacity="0.8"/>
<line x1="605.7" y1="421.41" x2="607.1" y2="421.41" stroke="#6a7a9a" stroke-width="0.7" opacity="0.8"/>
<line x1="605.7" y1="416.93" x2="607.1" y2="416.93" stroke="#6a7a9a" stroke-width="0.7" opacity="0.8"/>
<line x1="605.7" y1="413.15" x2="607.1" y2="413.15" stroke="#6a7a9a" stroke-width="0.7" opacity="0.8"/>
<line x1="605.7" y1="409.88" x2="607.1" y2="409.88" stroke="#6a7a9a" stroke-width="0.7" opacity="0.8"/>
<line x1="605.7" y1="406.99" x2="607.1" y2="406.99" stroke="#6a7a9a" stroke-width="0.7" opacity="0.8"/>
<line x1="604.9" y1="404.4" x2="607.1" y2="404.4" stroke="#6a7a9a" stroke-width="0.7" opacity="0.8"/>
<line x1="605.7" y1="387.39" x2="607.1" y2="387.39" stroke="#6a7a9a" stroke-width="0.7" opacity="0.8"/>
<line x1="605.7" y1="377.44" x2="607.1" y2="377.44" stroke="#6a7a9a" stroke-width="0.7" opacity="0.8"/>
<line x1="605.7" y1="370.38" x2="607.1" y2="370.38" stroke="#6a7a9a" stroke-width="0.7" opacity="0.8"/>
<text transform="translate(584.2,492.1) rotate(-90)" font-size="8" fill="#111" dominant-baseline="central" textLength="98.9" lengthAdjust="spacingAndGlyphs">electron density ,10<tspan font-size="4.6" dy="-1.9">13</tspan><tspan dy="1.9"> 1/cm</tspan><tspan font-size="4.6" dy="-2.4">2</tspan></text>
<line x1="478.2" y1="383" x2="478.2" y2="499.4" stroke="#1a1a1a" stroke-width="1.4" stroke-dasharray="4.5 3"/>
<text transform="translate(469.4,496.5) rotate(-90)" font-size="11.3" fill="#2a2a2a" text-anchor="start" dominant-baseline="central" textLength="31.6" lengthAdjust="spacingAndGlyphs" >Cu foil</text>
<line x1="513.7" y1="382.4" x2="513.7" y2="499.4" stroke="#d42020" stroke-width="1.4" stroke-dasharray="4.5 3"/>
<text transform="translate(506.2,494.8) rotate(-90)" font-size="11.5" fill="#d42020" text-anchor="start" dominant-baseline="central" textLength="18.6" lengthAdjust="spacingAndGlyphs" >Coil</text>
<line x1="26.7" y1="549" x2="26.7" y2="687.8" stroke="#c6c6c6" stroke-width="1.5"/>
<line x1="26.2" y1="687.3" x2="153.2" y2="687.3" stroke="#c8c8c8" stroke-width="1.2"/>
<line x1="24.9" y1="552.3" x2="26.7" y2="552.3" stroke="#c6c6c6" stroke-width="0.8"/>
<text transform="translate(24.9,552) scale(0.88,1)" font-size="9" fill="#111" text-anchor="end" dominant-baseline="central" stroke="#111" stroke-width="0.2">1,5</text>
<line x1="24.9" y1="574.92" x2="26.7" y2="574.92" stroke="#c6c6c6" stroke-width="0.8"/>
<text transform="translate(24.9,574.62) scale(0.88,1)" font-size="9" fill="#111" text-anchor="end" dominant-baseline="central" stroke="#111" stroke-width="0.2">1,0</text>
<line x1="24.9" y1="597.53" x2="26.7" y2="597.53" stroke="#c6c6c6" stroke-width="0.8"/>
<text transform="translate(24.9,597.23) scale(0.88,1)" font-size="9" fill="#111" text-anchor="end" dominant-baseline="central" stroke="#111" stroke-width="0.2">0,5</text>
<line x1="24.9" y1="620.15" x2="26.7" y2="620.15" stroke="#c6c6c6" stroke-width="0.8"/>
<text transform="translate(24.9,619.85) scale(0.88,1)" font-size="9" fill="#111" text-anchor="end" dominant-baseline="central" stroke="#111" stroke-width="0.2">0,0</text>
<line x1="24.9" y1="642.77" x2="26.7" y2="642.77" stroke="#c6c6c6" stroke-width="0.8"/>
<text transform="translate(24.9,642.47) scale(0.88,1)" font-size="9" fill="#111" text-anchor="end" dominant-baseline="central" stroke="#111" stroke-width="0.2">-0,5</text>
<line x1="24.9" y1="665.38" x2="26.7" y2="665.38" stroke="#c6c6c6" stroke-width="0.8"/>
<text transform="translate(24.9,665.08) scale(0.88,1)" font-size="9" fill="#111" text-anchor="end" dominant-baseline="central" stroke="#111" stroke-width="0.2">-1,0</text>
<line x1="24.9" y1="688" x2="26.7" y2="688" stroke="#c6c6c6" stroke-width="0.8"/>
<text transform="translate(24.9,687.7) scale(0.88,1)" font-size="9" fill="#111" text-anchor="end" dominant-baseline="central" stroke="#111" stroke-width="0.2">-1,5</text>
<line x1="26.7" y1="687.3" x2="26.7" y2="689.1" stroke="#c8c8c8" stroke-width="0.8"/>
<text transform="translate(26.9,693.5) scale(0.88,1)" font-size="9" fill="#111" text-anchor="middle" dominant-baseline="central" stroke="#111" stroke-width="0.2">-1,5</text>
<line x1="47.78" y1="687.3" x2="47.78" y2="689.1" stroke="#c8c8c8" stroke-width="0.8"/>
<text transform="translate(47.98,693.5) scale(0.88,1)" font-size="9" fill="#111" text-anchor="middle" dominant-baseline="central" stroke="#111" stroke-width="0.2">-1,0</text>
<line x1="68.87" y1="687.3" x2="68.87" y2="689.1" stroke="#c8c8c8" stroke-width="0.8"/>
<text transform="translate(69.07,693.5) scale(0.88,1)" font-size="9" fill="#111" text-anchor="middle" dominant-baseline="central" stroke="#111" stroke-width="0.2">-0,5</text>
<line x1="89.95" y1="687.3" x2="89.95" y2="689.1" stroke="#c8c8c8" stroke-width="0.8"/>
<text transform="translate(90.15,693.5) scale(0.88,1)" font-size="9" fill="#111" text-anchor="middle" dominant-baseline="central" stroke="#111" stroke-width="0.2">0,0</text>
<line x1="111.03" y1="687.3" x2="111.03" y2="689.1" stroke="#c8c8c8" stroke-width="0.8"/>
<text transform="translate(111.23,693.5) scale(0.88,1)" font-size="9" fill="#111" text-anchor="middle" dominant-baseline="central" stroke="#111" stroke-width="0.2">0,5</text>
<line x1="132.12" y1="687.3" x2="132.12" y2="689.1" stroke="#c8c8c8" stroke-width="0.8"/>
<text transform="translate(132.32,693.5) scale(0.88,1)" font-size="9" fill="#111" text-anchor="middle" dominant-baseline="central" stroke="#111" stroke-width="0.2">1,0</text>
<line x1="153.2" y1="687.3" x2="153.2" y2="689.1" stroke="#c8c8c8" stroke-width="0.8"/>
<text transform="translate(153.4,693.5) scale(0.88,1)" font-size="9" fill="#111" text-anchor="middle" dominant-baseline="central" stroke="#111" stroke-width="0.2">1,5</text>
<text x="46" y="551.4" font-size="11" fill="#222" text-anchor="start" dominant-baseline="central" textLength="88.2" lengthAdjust="spacingAndGlyphs" >Front view-w/o Bz</text>
<text x="60.3" y="703.8" font-size="8.7" fill="#111" text-anchor="start" dominant-baseline="central" >distance x , mm</text>
<text transform="translate(5.4,647.5) rotate(-90)" font-size="8.4" fill="#111" text-anchor="start" dominant-baseline="central" textLength="59.2" lengthAdjust="spacingAndGlyphs" >distance y , mm</text>
<text x="116.5" y="675.8" font-size="11" fill="#222" text-anchor="start" dominant-baseline="central" textLength="34.2" lengthAdjust="spacingAndGlyphs" >t= 9 ps</text>
<rect x="188.2" y="548.3" width="8.1" height="6.72" fill="#ff2200"/>
<rect x="188.2" y="554.72" width="8.1" height="6.72" fill="#ff4400"/>
<rect x="188.2" y="561.13" width="8.1" height="6.72" fill="#ff7700"/>
<rect x="188.2" y="567.55" width="8.1" height="6.72" fill="#ffaa00"/>
<rect x="188.2" y="573.96" width="8.1" height="6.72" fill="#ffff00"/>
<rect x="188.2" y="580.38" width="8.1" height="6.72" fill="#ccff00"/>
<rect x="188.2" y="586.8" width="8.1" height="6.72" fill="#99ff00"/>
<rect x="188.2" y="593.21" width="8.1" height="6.72" fill="#66ff00"/>
<rect x="188.2" y="599.63" width="8.1" height="6.72" fill="#33ff00"/>
<rect x="188.2" y="606.04" width="8.1" height="6.72" fill="#00ff00"/>
<rect x="188.2" y="612.46" width="8.1" height="6.72" fill="#00ff33"/>
<rect x="188.2" y="618.88" width="8.1" height="6.72" fill="#00ff66"/>
<rect x="188.2" y="625.29" width="8.1" height="6.72" fill="#00ff99"/>
<rect x="188.2" y="631.71" width="8.1" height="6.72" fill="#00ffcc"/>
<rect x="188.2" y="638.12" width="8.1" height="6.72" fill="#00ffff"/>
<rect x="188.2" y="644.54" width="8.1" height="6.72" fill="#00ccff"/>
<rect x="188.2" y="650.96" width="8.1" height="6.72" fill="#0099ff"/>
<rect x="188.2" y="657.37" width="8.1" height="6.72" fill="#0066ff"/>
<rect x="188.2" y="663.79" width="8.1" height="6.72" fill="#0033ff"/>
<rect x="188.2" y="670.2" width="8.1" height="6.72" fill="#0000ff"/>
<rect x="188.2" y="676.62" width="8.1" height="6.72" fill="#3300ff"/>
<rect x="188.2" y="683.04" width="8.1" height="6.72" fill="#6600ff"/>
<rect x="188.2" y="689.45" width="8.1" height="6.72" fill="#9900ff"/>
<rect x="188.2" y="695.87" width="8.1" height="6.72" fill="#cc00ff"/>
<rect x="188.2" y="702.28" width="8.1" height="6.72" fill="#ff00ff"/>
<text transform="translate(186.3,552.1) scale(0.88,1)" font-size="9" fill="#111" text-anchor="end" dominant-baseline="central" stroke="#111" stroke-width="0.2">100,0</text>
<text transform="translate(186.3,603.3) scale(0.88,1)" font-size="9" fill="#111" text-anchor="end" dominant-baseline="central" stroke="#111" stroke-width="0.2">10,0</text>
<text transform="translate(186.3,654.5) scale(0.88,1)" font-size="9" fill="#111" text-anchor="end" dominant-baseline="central" stroke="#111" stroke-width="0.2">1,0</text>
<text transform="translate(186.3,705.2) scale(0.88,1)" font-size="9" fill="#111" text-anchor="end" dominant-baseline="central" stroke="#111" stroke-width="0.2">0,1</text>
<line x1="186" y1="705.4" x2="188.2" y2="705.4" stroke="#6a7a9a" stroke-width="0.7" opacity="0.8"/>
<line x1="186.8" y1="690.14" x2="188.2" y2="690.14" stroke="#6a7a9a" stroke-width="0.7" opacity="0.8"/>
<line x1="186.8" y1="681.21" x2="188.2" y2="681.21" stroke="#6a7a9a" stroke-width="0.7" opacity="0.8"/>
<line x1="186.8" y1="674.88" x2="188.2" y2="674.88" stroke="#6a7a9a" stroke-width="0.7" opacity="0.8"/>
<line x1="186.8" y1="669.96" x2="188.2" y2="669.96" stroke="#6a7a9a" stroke-width="0.7" opacity="0.8"/>
<line x1="186.8" y1="665.95" x2="188.2" y2="665.95" stroke="#6a7a9a" stroke-width="0.7" opacity="0.8"/>
<line x1="186.8" y1="662.55" x2="188.2" y2="662.55" stroke="#6a7a9a" stroke-width="0.7" opacity="0.8"/>
<line x1="186.8" y1="659.61" x2="188.2" y2="659.61" stroke="#6a7a9a" stroke-width="0.7" opacity="0.8"/>
<line x1="186.8" y1="657.02" x2="188.2" y2="657.02" stroke="#6a7a9a" stroke-width="0.7" opacity="0.8"/>
<line x1="186" y1="654.7" x2="188.2" y2="654.7" stroke="#6a7a9a" stroke-width="0.7" opacity="0.8"/>
<line x1="186.8" y1="639.44" x2="188.2" y2="639.44" stroke="#6a7a9a" stroke-width="0.7" opacity="0.8"/>
<line x1="186.8" y1="630.51" x2="188.2" y2="630.51" stroke="#6a7a9a" stroke-width="0.7" opacity="0.8"/>
<line x1="186.8" y1="624.18" x2="188.2" y2="624.18" stroke="#6a7a9a" stroke-width="0.7" opacity="0.8"/>
<line x1="186.8" y1="619.26" x2="188.2" y2="619.26" stroke="#6a7a9a" stroke-width="0.7" opacity="0.8"/>
<line x1="186.8" y1="615.25" x2="188.2" y2="615.25" stroke="#6a7a9a" stroke-width="0.7" opacity="0.8"/>
<line x1="186.8" y1="611.85" x2="188.2" y2="611.85" stroke="#6a7a9a" stroke-width="0.7" opacity="0.8"/>
<line x1="186.8" y1="608.91" x2="188.2" y2="608.91" stroke="#6a7a9a" stroke-width="0.7" opacity="0.8"/>
<line x1="186.8" y1="606.32" x2="188.2" y2="606.32" stroke="#6a7a9a" stroke-width="0.7" opacity="0.8"/>
<line x1="186" y1="604" x2="188.2" y2="604" stroke="#6a7a9a" stroke-width="0.7" opacity="0.8"/>
<line x1="186.8" y1="588.74" x2="188.2" y2="588.74" stroke="#6a7a9a" stroke-width="0.7" opacity="0.8"/>
<line x1="186.8" y1="579.81" x2="188.2" y2="579.81" stroke="#6a7a9a" stroke-width="0.7" opacity="0.8"/>
<line x1="186.8" y1="573.48" x2="188.2" y2="573.48" stroke="#6a7a9a" stroke-width="0.7" opacity="0.8"/>
<line x1="186.8" y1="568.56" x2="188.2" y2="568.56" stroke="#6a7a9a" stroke-width="0.7" opacity="0.8"/>
<line x1="186.8" y1="564.55" x2="188.2" y2="564.55" stroke="#6a7a9a" stroke-width="0.7" opacity="0.8"/>
<line x1="186.8" y1="561.15" x2="188.2" y2="561.15" stroke="#6a7a9a" stroke-width="0.7" opacity="0.8"/>
<line x1="186.8" y1="558.21" x2="188.2" y2="558.21" stroke="#6a7a9a" stroke-width="0.7" opacity="0.8"/>
<line x1="186.8" y1="555.62" x2="188.2" y2="555.62" stroke="#6a7a9a" stroke-width="0.7" opacity="0.8"/>
<line x1="186" y1="553.3" x2="188.2" y2="553.3" stroke="#6a7a9a" stroke-width="0.7" opacity="0.8"/>
<text transform="translate(160.3,679.6) rotate(-90)" font-size="8" fill="#111" dominant-baseline="central" textLength="100.2" lengthAdjust="spacingAndGlyphs">electron density ,10<tspan font-size="4.6" dy="-1.9">13</tspan><tspan dy="1.9"> 1/cm</tspan><tspan font-size="4.6" dy="-2.4">2</tspan></text>
<line x1="240.3" y1="553" x2="240.3" y2="687.8" stroke="#c6c6c6" stroke-width="1.5"/>
<line x1="239.8" y1="687.3" x2="368.8" y2="687.3" stroke="#c8c8c8" stroke-width="1.2"/>
<line x1="238.5" y1="556.6" x2="240.3" y2="556.6" stroke="#c6c6c6" stroke-width="0.8"/>
<text transform="translate(238.5,556.3) scale(0.88,1)" font-size="9" fill="#111" text-anchor="end" dominant-baseline="central" stroke="#111" stroke-width="0.2">1,5</text>
<line x1="238.5" y1="578.47" x2="240.3" y2="578.47" stroke="#c6c6c6" stroke-width="0.8"/>
<text transform="translate(238.5,578.17) scale(0.88,1)" font-size="9" fill="#111" text-anchor="end" dominant-baseline="central" stroke="#111" stroke-width="0.2">1,0</text>
<line x1="238.5" y1="600.33" x2="240.3" y2="600.33" stroke="#c6c6c6" stroke-width="0.8"/>
<text transform="translate(238.5,600.03) scale(0.88,1)" font-size="9" fill="#111" text-anchor="end" dominant-baseline="central" stroke="#111" stroke-width="0.2">0,5</text>
<line x1="238.5" y1="622.2" x2="240.3" y2="622.2" stroke="#c6c6c6" stroke-width="0.8"/>
<text transform="translate(238.5,621.9) scale(0.88,1)" font-size="9" fill="#111" text-anchor="end" dominant-baseline="central" stroke="#111" stroke-width="0.2">0,0</text>
<line x1="238.5" y1="644.07" x2="240.3" y2="644.07" stroke="#c6c6c6" stroke-width="0.8"/>
<text transform="translate(238.5,643.77) scale(0.88,1)" font-size="9" fill="#111" text-anchor="end" dominant-baseline="central" stroke="#111" stroke-width="0.2">-0,5</text>
<line x1="238.5" y1="665.93" x2="240.3" y2="665.93" stroke="#c6c6c6" stroke-width="0.8"/>
<text transform="translate(238.5,665.63) scale(0.88,1)" font-size="9" fill="#111" text-anchor="end" dominant-baseline="central" stroke="#111" stroke-width="0.2">-1,0</text>
<line x1="238.5" y1="687.8" x2="240.3" y2="687.8" stroke="#c6c6c6" stroke-width="0.8"/>
<text transform="translate(238.5,687.5) scale(0.88,1)" font-size="9" fill="#111" text-anchor="end" dominant-baseline="central" stroke="#111" stroke-width="0.2">-1,5</text>
<line x1="240.3" y1="687.3" x2="240.3" y2="689.1" stroke="#c8c8c8" stroke-width="0.8"/>
<text transform="translate(240.5,693.6) scale(0.88,1)" font-size="9" fill="#111" text-anchor="middle" dominant-baseline="central" stroke="#111" stroke-width="0.2">-1,5</text>
<line x1="261.72" y1="687.3" x2="261.72" y2="689.1" stroke="#c8c8c8" stroke-width="0.8"/>
<text transform="translate(261.92,693.6) scale(0.88,1)" font-size="9" fill="#111" text-anchor="middle" dominant-baseline="central" stroke="#111" stroke-width="0.2">-1,0</text>
<line x1="283.13" y1="687.3" x2="283.13" y2="689.1" stroke="#c8c8c8" stroke-width="0.8"/>
<text transform="translate(283.33,693.6) scale(0.88,1)" font-size="9" fill="#111" text-anchor="middle" dominant-baseline="central" stroke="#111" stroke-width="0.2">-0,5</text>
<line x1="304.55" y1="687.3" x2="304.55" y2="689.1" stroke="#c8c8c8" stroke-width="0.8"/>
<text transform="translate(304.75,693.6) scale(0.88,1)" font-size="9" fill="#111" text-anchor="middle" dominant-baseline="central" stroke="#111" stroke-width="0.2">0,0</text>
<line x1="325.97" y1="687.3" x2="325.97" y2="689.1" stroke="#c8c8c8" stroke-width="0.8"/>
<text transform="translate(326.17,693.6) scale(0.88,1)" font-size="9" fill="#111" text-anchor="middle" dominant-baseline="central" stroke="#111" stroke-width="0.2">0,5</text>
<line x1="347.38" y1="687.3" x2="347.38" y2="689.1" stroke="#c8c8c8" stroke-width="0.8"/>
<text transform="translate(347.58,693.6) scale(0.88,1)" font-size="9" fill="#111" text-anchor="middle" dominant-baseline="central" stroke="#111" stroke-width="0.2">1,0</text>
<line x1="368.8" y1="687.3" x2="368.8" y2="689.1" stroke="#c8c8c8" stroke-width="0.8"/>
<text transform="translate(369,693.6) scale(0.88,1)" font-size="9" fill="#111" text-anchor="middle" dominant-baseline="central" stroke="#111" stroke-width="0.2">1,5</text>
<text x="277" y="551.3" font-size="11" fill="#222" text-anchor="start" dominant-baseline="central" textLength="79.9" lengthAdjust="spacingAndGlyphs" >Top view-w/o Bz</text>
<text x="275.2" y="704" font-size="8.7" fill="#111" text-anchor="start" dominant-baseline="central" >distance z , mm</text>
<text transform="translate(219.1,648.9) rotate(-90)" font-size="8.4" fill="#111" text-anchor="start" dominant-baseline="central" textLength="57.8" lengthAdjust="spacingAndGlyphs" >distance&#160; x, mm</text>
<text x="329.8" y="677.5" font-size="11" fill="#222" text-anchor="start" dominant-baseline="central" textLength="33.4" lengthAdjust="spacingAndGlyphs" >t= 9 ps</text>
<rect x="396.9" y="552.3" width="8.2" height="6.56" fill="#ff2200"/>
<rect x="396.9" y="558.56" width="8.2" height="6.56" fill="#ff4400"/>
<rect x="396.9" y="564.81" width="8.2" height="6.56" fill="#ff7700"/>
<rect x="396.9" y="571.07" width="8.2" height="6.56" fill="#ffaa00"/>
<rect x="396.9" y="577.32" width="8.2" height="6.56" fill="#ffff00"/>
<rect x="396.9" y="583.58" width="8.2" height="6.56" fill="#ccff00"/>
<rect x="396.9" y="589.84" width="8.2" height="6.56" fill="#99ff00"/>
<rect x="396.9" y="596.09" width="8.2" height="6.56" fill="#66ff00"/>
<rect x="396.9" y="602.35" width="8.2" height="6.56" fill="#33ff00"/>
<rect x="396.9" y="608.6" width="8.2" height="6.56" fill="#00ff00"/>
<rect x="396.9" y="614.86" width="8.2" height="6.56" fill="#00ff33"/>
<rect x="396.9" y="621.12" width="8.2" height="6.56" fill="#00ff66"/>
<rect x="396.9" y="627.37" width="8.2" height="6.56" fill="#00ff99"/>
<rect x="396.9" y="633.63" width="8.2" height="6.56" fill="#00ffcc"/>
<rect x="396.9" y="639.88" width="8.2" height="6.56" fill="#00ffff"/>
<rect x="396.9" y="646.14" width="8.2" height="6.56" fill="#00ccff"/>
<rect x="396.9" y="652.4" width="8.2" height="6.56" fill="#0099ff"/>
<rect x="396.9" y="658.65" width="8.2" height="6.56" fill="#0066ff"/>
<rect x="396.9" y="664.91" width="8.2" height="6.56" fill="#0033ff"/>
<rect x="396.9" y="671.16" width="8.2" height="6.56" fill="#0000ff"/>
<rect x="396.9" y="677.42" width="8.2" height="6.56" fill="#3300ff"/>
<rect x="396.9" y="683.68" width="8.2" height="6.56" fill="#6600ff"/>
<rect x="396.9" y="689.93" width="8.2" height="6.56" fill="#9900ff"/>
<rect x="396.9" y="696.19" width="8.2" height="6.56" fill="#cc00ff"/>
<rect x="396.9" y="702.44" width="8.2" height="6.56" fill="#ff00ff"/>
<text transform="translate(395,591.9) scale(0.88,1)" font-size="9" fill="#111" text-anchor="end" dominant-baseline="central" stroke="#111" stroke-width="0.2">10,0</text>
<text transform="translate(395,648.4) scale(0.88,1)" font-size="9" fill="#111" text-anchor="end" dominant-baseline="central" stroke="#111" stroke-width="0.2">1,0</text>
<text transform="translate(395,704.7) scale(0.88,1)" font-size="9" fill="#111" text-anchor="end" dominant-baseline="central" stroke="#111" stroke-width="0.2">0,1</text>
<line x1="394.7" y1="704.9" x2="396.9" y2="704.9" stroke="#6a7a9a" stroke-width="0.7" opacity="0.8"/>
<line x1="395.5" y1="687.95" x2="396.9" y2="687.95" stroke="#6a7a9a" stroke-width="0.7" opacity="0.8"/>
<line x1="395.5" y1="678.04" x2="396.9" y2="678.04" stroke="#6a7a9a" stroke-width="0.7" opacity="0.8"/>
<line x1="395.5" y1="671" x2="396.9" y2="671" stroke="#6a7a9a" stroke-width="0.7" opacity="0.8"/>
<line x1="395.5" y1="665.55" x2="396.9" y2="665.55" stroke="#6a7a9a" stroke-width="0.7" opacity="0.8"/>
<line x1="395.5" y1="661.09" x2="396.9" y2="661.09" stroke="#6a7a9a" stroke-width="0.7" opacity="0.8"/>
<line x1="395.5" y1="657.32" x2="396.9" y2="657.32" stroke="#6a7a9a" stroke-width="0.7" opacity="0.8"/>
<line x1="395.5" y1="654.06" x2="396.9" y2="654.06" stroke="#6a7a9a" stroke-width="0.7" opacity="0.8"/>
<line x1="395.5" y1="651.18" x2="396.9" y2="651.18" stroke="#6a7a9a" stroke-width="0.7" opacity="0.8"/>
<line x1="394.7" y1="648.6" x2="396.9" y2="648.6" stroke="#6a7a9a" stroke-width="0.7" opacity="0.8"/>
<line x1="395.5" y1="631.65" x2="396.9" y2="631.65" stroke="#6a7a9a" stroke-width="0.7" opacity="0.8"/>
<line x1="395.5" y1="621.74" x2="396.9" y2="621.74" stroke="#6a7a9a" stroke-width="0.7" opacity="0.8"/>
<line x1="395.5" y1="614.7" x2="396.9" y2="614.7" stroke="#6a7a9a" stroke-width="0.7" opacity="0.8"/>
<line x1="395.5" y1="609.25" x2="396.9" y2="609.25" stroke="#6a7a9a" stroke-width="0.7" opacity="0.8"/>
<line x1="395.5" y1="604.79" x2="396.9" y2="604.79" stroke="#6a7a9a" stroke-width="0.7" opacity="0.8"/>
<line x1="395.5" y1="601.02" x2="396.9" y2="601.02" stroke="#6a7a9a" stroke-width="0.7" opacity="0.8"/>
<line x1="395.5" y1="597.76" x2="396.9" y2="597.76" stroke="#6a7a9a" stroke-width="0.7" opacity="0.8"/>
<line x1="395.5" y1="594.88" x2="396.9" y2="594.88" stroke="#6a7a9a" stroke-width="0.7" opacity="0.8"/>
<line x1="394.7" y1="592.3" x2="396.9" y2="592.3" stroke="#6a7a9a" stroke-width="0.7" opacity="0.8"/>
<line x1="395.5" y1="575.35" x2="396.9" y2="575.35" stroke="#6a7a9a" stroke-width="0.7" opacity="0.8"/>
<line x1="395.5" y1="565.44" x2="396.9" y2="565.44" stroke="#6a7a9a" stroke-width="0.7" opacity="0.8"/>
<line x1="395.5" y1="558.4" x2="396.9" y2="558.4" stroke="#6a7a9a" stroke-width="0.7" opacity="0.8"/>
<line x1="395.5" y1="552.95" x2="396.9" y2="552.95" stroke="#6a7a9a" stroke-width="0.7" opacity="0.8"/>
<text transform="translate(372.1,680.8) rotate(-90)" font-size="8" fill="#111" dominant-baseline="central" textLength="98.8" lengthAdjust="spacingAndGlyphs">electron density ,10<tspan font-size="4.6" dy="-1.9">13</tspan><tspan dy="1.9"> 1/cm</tspan><tspan font-size="4.6" dy="-2.4">2</tspan></text>
<line x1="268.5" y1="570.5" x2="268.5" y2="687.3" stroke="#1a1a1a" stroke-width="1.4" stroke-dasharray="4.5 3"/>
<text transform="translate(259.5,684.1) rotate(-90)" font-size="11.3" fill="#2a2a2a" text-anchor="start" dominant-baseline="central" textLength="31.9" lengthAdjust="spacingAndGlyphs" >Cu foil</text>
<line x1="304" y1="570" x2="304" y2="687.3" stroke="#d42020" stroke-width="1.4" stroke-dasharray="4.5 3"/>
<text transform="translate(296.3,683.8) rotate(-90)" font-size="11.5" fill="#d42020" text-anchor="start" dominant-baseline="central" textLength="19.5" lengthAdjust="spacingAndGlyphs" >Coil</text>
<line x1="451.6" y1="553" x2="451.6" y2="687.8" stroke="#c6c6c6" stroke-width="1.5"/>
<line x1="451.1" y1="687.3" x2="579" y2="687.3" stroke="#c8c8c8" stroke-width="1.2"/>
<line x1="449.8" y1="556.6" x2="451.6" y2="556.6" stroke="#c6c6c6" stroke-width="0.8"/>
<text transform="translate(449.8,556.3) scale(0.88,1)" font-size="9" fill="#111" text-anchor="end" dominant-baseline="central" stroke="#111" stroke-width="0.2">1,5</text>
<line x1="449.8" y1="578.47" x2="451.6" y2="578.47" stroke="#c6c6c6" stroke-width="0.8"/>
<text transform="translate(449.8,578.17) scale(0.88,1)" font-size="9" fill="#111" text-anchor="end" dominant-baseline="central" stroke="#111" stroke-width="0.2">1,0</text>
<line x1="449.8" y1="600.33" x2="451.6" y2="600.33" stroke="#c6c6c6" stroke-width="0.8"/>
<text transform="translate(449.8,600.03) scale(0.88,1)" font-size="9" fill="#111" text-anchor="end" dominant-baseline="central" stroke="#111" stroke-width="0.2">0,5</text>
<line x1="449.8" y1="622.2" x2="451.6" y2="622.2" stroke="#c6c6c6" stroke-width="0.8"/>
<text transform="translate(449.8,621.9) scale(0.88,1)" font-size="9" fill="#111" text-anchor="end" dominant-baseline="central" stroke="#111" stroke-width="0.2">0,0</text>
<line x1="449.8" y1="644.07" x2="451.6" y2="644.07" stroke="#c6c6c6" stroke-width="0.8"/>
<text transform="translate(449.8,643.77) scale(0.88,1)" font-size="9" fill="#111" text-anchor="end" dominant-baseline="central" stroke="#111" stroke-width="0.2">-0,5</text>
<line x1="449.8" y1="665.93" x2="451.6" y2="665.93" stroke="#c6c6c6" stroke-width="0.8"/>
<text transform="translate(449.8,665.63) scale(0.88,1)" font-size="9" fill="#111" text-anchor="end" dominant-baseline="central" stroke="#111" stroke-width="0.2">-1,0</text>
<line x1="449.8" y1="687.8" x2="451.6" y2="687.8" stroke="#c6c6c6" stroke-width="0.8"/>
<text transform="translate(449.8,687.5) scale(0.88,1)" font-size="9" fill="#111" text-anchor="end" dominant-baseline="central" stroke="#111" stroke-width="0.2">-1,5</text>
<line x1="451.6" y1="687.3" x2="451.6" y2="689.1" stroke="#c8c8c8" stroke-width="0.8"/>
<text transform="translate(451.8,693.6) scale(0.88,1)" font-size="9" fill="#111" text-anchor="middle" dominant-baseline="central" stroke="#111" stroke-width="0.2">-1,5</text>
<line x1="472.83" y1="687.3" x2="472.83" y2="689.1" stroke="#c8c8c8" stroke-width="0.8"/>
<text transform="translate(473.03,693.6) scale(0.88,1)" font-size="9" fill="#111" text-anchor="middle" dominant-baseline="central" stroke="#111" stroke-width="0.2">-1,0</text>
<line x1="494.07" y1="687.3" x2="494.07" y2="689.1" stroke="#c8c8c8" stroke-width="0.8"/>
<text transform="translate(494.27,693.6) scale(0.88,1)" font-size="9" fill="#111" text-anchor="middle" dominant-baseline="central" stroke="#111" stroke-width="0.2">-0,5</text>
<line x1="515.3" y1="687.3" x2="515.3" y2="689.1" stroke="#c8c8c8" stroke-width="0.8"/>
<text transform="translate(515.5,693.6) scale(0.88,1)" font-size="9" fill="#111" text-anchor="middle" dominant-baseline="central" stroke="#111" stroke-width="0.2">0,0</text>
<line x1="536.53" y1="687.3" x2="536.53" y2="689.1" stroke="#c8c8c8" stroke-width="0.8"/>
<text transform="translate(536.73,693.6) scale(0.88,1)" font-size="9" fill="#111" text-anchor="middle" dominant-baseline="central" stroke="#111" stroke-width="0.2">0,5</text>
<line x1="557.77" y1="687.3" x2="557.77" y2="689.1" stroke="#c8c8c8" stroke-width="0.8"/>
<text transform="translate(557.97,693.6) scale(0.88,1)" font-size="9" fill="#111" text-anchor="middle" dominant-baseline="central" stroke="#111" stroke-width="0.2">1,0</text>
<line x1="579" y1="687.3" x2="579" y2="689.1" stroke="#c8c8c8" stroke-width="0.8"/>
<text transform="translate(579.2,693.6) scale(0.88,1)" font-size="9" fill="#111" text-anchor="middle" dominant-baseline="central" stroke="#111" stroke-width="0.2">1,5</text>
<text x="484.9" y="552.3" font-size="11" fill="#222" text-anchor="start" dominant-baseline="central" textLength="85.4" lengthAdjust="spacingAndGlyphs" >Said view-w/o Bz</text>
<text x="485.9" y="704" font-size="8.7" fill="#111" text-anchor="start" dominant-baseline="central" >distance z , mm</text>
<text transform="translate(430.2,648.9) rotate(-90)" font-size="8.4" fill="#111" text-anchor="start" dominant-baseline="central" textLength="57.1" lengthAdjust="spacingAndGlyphs" >distance&#160; y, mm</text>
<text x="540.9" y="677.1" font-size="11" fill="#222" text-anchor="start" dominant-baseline="central" textLength="33.8" lengthAdjust="spacingAndGlyphs" >t= 9 ps</text>
<rect x="608.4" y="552.3" width="8.1" height="6.56" fill="#ff2200"/>
<rect x="608.4" y="558.56" width="8.1" height="6.56" fill="#ff4400"/>
<rect x="608.4" y="564.82" width="8.1" height="6.56" fill="#ff7700"/>
<rect x="608.4" y="571.08" width="8.1" height="6.56" fill="#ffaa00"/>
<rect x="608.4" y="577.34" width="8.1" height="6.56" fill="#ffff00"/>
<rect x="608.4" y="583.6" width="8.1" height="6.56" fill="#ccff00"/>
<rect x="608.4" y="589.86" width="8.1" height="6.56" fill="#99ff00"/>
<rect x="608.4" y="596.12" width="8.1" height="6.56" fill="#66ff00"/>
<rect x="608.4" y="602.38" width="8.1" height="6.56" fill="#33ff00"/>
<rect x="608.4" y="608.64" width="8.1" height="6.56" fill="#00ff00"/>
<rect x="608.4" y="614.9" width="8.1" height="6.56" fill="#00ff33"/>
<rect x="608.4" y="621.16" width="8.1" height="6.56" fill="#00ff66"/>
<rect x="608.4" y="627.42" width="8.1" height="6.56" fill="#00ff99"/>
<rect x="608.4" y="633.68" width="8.1" height="6.56" fill="#00ffcc"/>
<rect x="608.4" y="639.94" width="8.1" height="6.56" fill="#00ffff"/>
<rect x="608.4" y="646.2" width="8.1" height="6.56" fill="#00ccff"/>
<rect x="608.4" y="652.46" width="8.1" height="6.56" fill="#0099ff"/>
<rect x="608.4" y="658.72" width="8.1" height="6.56" fill="#0066ff"/>
<rect x="608.4" y="664.98" width="8.1" height="6.56" fill="#0033ff"/>
<rect x="608.4" y="671.24" width="8.1" height="6.56" fill="#0000ff"/>
<rect x="608.4" y="677.5" width="8.1" height="6.56" fill="#3300ff"/>
<rect x="608.4" y="683.76" width="8.1" height="6.56" fill="#6600ff"/>
<rect x="608.4" y="690.02" width="8.1" height="6.56" fill="#9900ff"/>
<rect x="608.4" y="696.28" width="8.1" height="6.56" fill="#cc00ff"/>
<rect x="608.4" y="702.54" width="8.1" height="6.56" fill="#ff00ff"/>
<text transform="translate(606.4,591.9) scale(0.88,1)" font-size="9" fill="#111" text-anchor="end" dominant-baseline="central" stroke="#111" stroke-width="0.2">10,0</text>
<text transform="translate(606.4,648.5) scale(0.88,1)" font-size="9" fill="#111" text-anchor="end" dominant-baseline="central" stroke="#111" stroke-width="0.2">1,0</text>
<text transform="translate(606.4,704.8) scale(0.88,1)" font-size="9" fill="#111" text-anchor="end" dominant-baseline="central" stroke="#111" stroke-width="0.2">0,1</text>
<line x1="606.2" y1="705" x2="608.4" y2="705" stroke="#6a7a9a" stroke-width="0.7" opacity="0.8"/>
<line x1="607" y1="688.05" x2="608.4" y2="688.05" stroke="#6a7a9a" stroke-width="0.7" opacity="0.8"/>
<line x1="607" y1="678.14" x2="608.4" y2="678.14" stroke="#6a7a9a" stroke-width="0.7" opacity="0.8"/>
<line x1="607" y1="671.1" x2="608.4" y2="671.1" stroke="#6a7a9a" stroke-width="0.7" opacity="0.8"/>
<line x1="607" y1="665.65" x2="608.4" y2="665.65" stroke="#6a7a9a" stroke-width="0.7" opacity="0.8"/>
<line x1="607" y1="661.19" x2="608.4" y2="661.19" stroke="#6a7a9a" stroke-width="0.7" opacity="0.8"/>
<line x1="607" y1="657.42" x2="608.4" y2="657.42" stroke="#6a7a9a" stroke-width="0.7" opacity="0.8"/>
<line x1="607" y1="654.16" x2="608.4" y2="654.16" stroke="#6a7a9a" stroke-width="0.7" opacity="0.8"/>
<line x1="607" y1="651.28" x2="608.4" y2="651.28" stroke="#6a7a9a" stroke-width="0.7" opacity="0.8"/>
<line x1="606.2" y1="648.7" x2="608.4" y2="648.7" stroke="#6a7a9a" stroke-width="0.7" opacity="0.8"/>
<line x1="607" y1="631.75" x2="608.4" y2="631.75" stroke="#6a7a9a" stroke-width="0.7" opacity="0.8"/>
<line x1="607" y1="621.84" x2="608.4" y2="621.84" stroke="#6a7a9a" stroke-width="0.7" opacity="0.8"/>
<line x1="607" y1="614.8" x2="608.4" y2="614.8" stroke="#6a7a9a" stroke-width="0.7" opacity="0.8"/>
<line x1="607" y1="609.35" x2="608.4" y2="609.35" stroke="#6a7a9a" stroke-width="0.7" opacity="0.8"/>
<line x1="607" y1="604.89" x2="608.4" y2="604.89" stroke="#6a7a9a" stroke-width="0.7" opacity="0.8"/>
<line x1="607" y1="601.12" x2="608.4" y2="601.12" stroke="#6a7a9a" stroke-width="0.7" opacity="0.8"/>
<line x1="607" y1="597.86" x2="608.4" y2="597.86" stroke="#6a7a9a" stroke-width="0.7" opacity="0.8"/>
<line x1="607" y1="594.98" x2="608.4" y2="594.98" stroke="#6a7a9a" stroke-width="0.7" opacity="0.8"/>
<line x1="606.2" y1="592.4" x2="608.4" y2="592.4" stroke="#6a7a9a" stroke-width="0.7" opacity="0.8"/>
<line x1="607" y1="575.45" x2="608.4" y2="575.45" stroke="#6a7a9a" stroke-width="0.7" opacity="0.8"/>
<line x1="607" y1="565.54" x2="608.4" y2="565.54" stroke="#6a7a9a" stroke-width="0.7" opacity="0.8"/>
<line x1="607" y1="558.5" x2="608.4" y2="558.5" stroke="#6a7a9a" stroke-width="0.7" opacity="0.8"/>
<line x1="607" y1="553.05" x2="608.4" y2="553.05" stroke="#6a7a9a" stroke-width="0.7" opacity="0.8"/>
<text transform="translate(584,679.6) rotate(-90)" font-size="8" fill="#111" dominant-baseline="central" textLength="97.6" lengthAdjust="spacingAndGlyphs">electron density ,10<tspan font-size="4.6" dy="-1.9">13</tspan><tspan dy="1.9"> 1/cm</tspan><tspan font-size="4.6" dy="-2.4">2</tspan></text>
<line x1="478.7" y1="571.8" x2="478.7" y2="687.3" stroke="#1a1a1a" stroke-width="1.4" stroke-dasharray="4.5 3"/>
<text transform="translate(469.4,685.4) rotate(-90)" font-size="11.3" fill="#2a2a2a" text-anchor="start" dominant-baseline="central" textLength="31.6" lengthAdjust="spacingAndGlyphs" >Cu foil</text>
<line x1="514.2" y1="571.8" x2="514.2" y2="687.3" stroke="#d42020" stroke-width="1.4" stroke-dasharray="4.5 3"/>
<text transform="translate(506.2,684.1) rotate(-90)" font-size="11.5" fill="#d42020" text-anchor="start" dominant-baseline="central" textLength="18.5" lengthAdjust="spacingAndGlyphs" >Coil</text>
</g>
</svg></body></html>
